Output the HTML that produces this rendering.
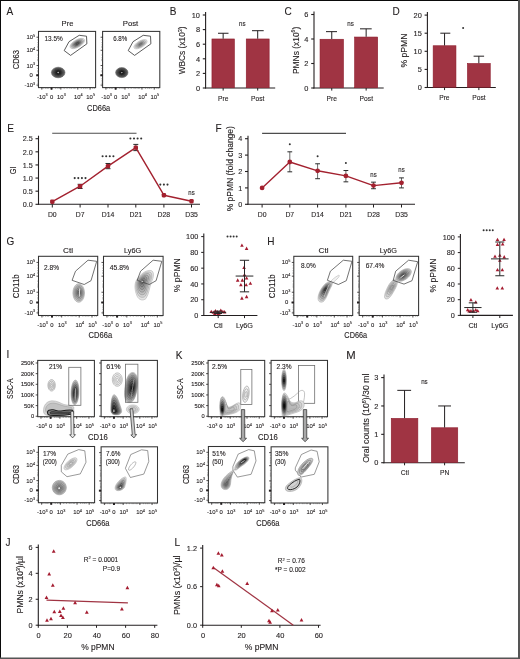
<!DOCTYPE html>
<html><head><meta charset="utf-8"><style>
html,body{margin:0;padding:0;background:#fff;}
body{width:520px;height:659px;overflow:hidden;font-family:"Liberation Sans", sans-serif;}
svg{display:block;will-change:transform;}
text{font-family:"Liberation Sans", sans-serif;}
</style></head><body>
<svg width="520" height="659" viewBox="0 0 520 659" font-family='"Liberation Sans", sans-serif'>
<rect x="0" y="0" width="520" height="659" fill="#ffffff"/>
<text x="6.6" y="14.8" font-size="10.9" text-anchor="start" fill="#231f20" stroke="#231f20" stroke-width="0.12" textLength="6.69" lengthAdjust="spacingAndGlyphs">A</text>
<text x="169.8" y="15.4" font-size="10.9" text-anchor="start" fill="#231f20" stroke="#231f20" stroke-width="0.12" textLength="6.69" lengthAdjust="spacingAndGlyphs">B</text>
<text x="284.6" y="15.4" font-size="10.9" text-anchor="start" fill="#231f20" stroke="#231f20" stroke-width="0.12" textLength="7.24" lengthAdjust="spacingAndGlyphs">C</text>
<text x="392.4" y="15.2" font-size="10.9" text-anchor="start" fill="#231f20" stroke="#231f20" stroke-width="0.12" textLength="7.24" lengthAdjust="spacingAndGlyphs">D</text>
<text x="7.2" y="131.5" font-size="10.9" text-anchor="start" fill="#231f20" stroke="#231f20" stroke-width="0.12" textLength="6.69" lengthAdjust="spacingAndGlyphs">E</text>
<text x="215.4" y="131.5" font-size="10.9" text-anchor="start" fill="#231f20" stroke="#231f20" stroke-width="0.12" textLength="6.13" lengthAdjust="spacingAndGlyphs">F</text>
<text x="6.6" y="245.1" font-size="10.9" text-anchor="start" fill="#231f20" stroke="#231f20" stroke-width="0.12" textLength="7.8" lengthAdjust="spacingAndGlyphs">G</text>
<text x="267.3" y="245" font-size="10.9" text-anchor="start" fill="#231f20" stroke="#231f20" stroke-width="0.12" textLength="7.24" lengthAdjust="spacingAndGlyphs">H</text>
<text x="6.6" y="358.3" font-size="10.9" text-anchor="start" fill="#231f20" stroke="#231f20" stroke-width="0.12" textLength="2.79" lengthAdjust="spacingAndGlyphs">I</text>
<text x="175.8" y="358.7" font-size="10.9" text-anchor="start" fill="#231f20" stroke="#231f20" stroke-width="0.12" textLength="6.69" lengthAdjust="spacingAndGlyphs">K</text>
<text x="346.2" y="359.1" font-size="10.9" text-anchor="start" fill="#231f20" stroke="#231f20" stroke-width="0.12" textLength="9.4" lengthAdjust="spacingAndGlyphs">M</text>
<text x="5.5" y="546.3" font-size="10.9" text-anchor="start" fill="#231f20" stroke="#231f20" stroke-width="0.12" textLength="5.01" lengthAdjust="spacingAndGlyphs">J</text>
<text x="174.6" y="546.3" font-size="10.9" text-anchor="start" fill="#231f20" stroke="#231f20" stroke-width="0.12" textLength="5.58" lengthAdjust="spacingAndGlyphs">L</text>
<text x="67.5" y="26.3" font-size="7.6" text-anchor="middle" fill="#231f20" stroke="#231f20" stroke-width="0.12" textLength="11.8" lengthAdjust="spacingAndGlyphs">Pre</text>
<text x="130.5" y="26.3" font-size="7.6" text-anchor="middle" fill="#231f20" stroke="#231f20" stroke-width="0.12" textLength="15.5" lengthAdjust="spacingAndGlyphs">Post</text>
<rect x="38.5" y="31.4" width="57.099999999999994" height="56.199999999999996" fill="none" stroke="#333" stroke-width="1.05"/>
<line x1="36.5" y1="37.22071428571428" x2="38.5" y2="37.22071428571428" stroke="#231f20" stroke-width="0.8"/>
<text x="35.1" y="39.22071428571428" font-size="5.9" text-anchor="end" fill="#231f20" stroke="#231f20" stroke-width="0.1">10<tspan font-size="3.8" dy="-2.5">5</tspan></text>
<line x1="36.5" y1="50.26714285714286" x2="38.5" y2="50.26714285714286" stroke="#231f20" stroke-width="0.8"/>
<text x="35.1" y="52.26714285714286" font-size="5.9" text-anchor="end" fill="#231f20" stroke="#231f20" stroke-width="0.1">10<tspan font-size="3.8" dy="-2.5">4</tspan></text>
<line x1="36.5" y1="65.52142857142857" x2="38.5" y2="65.52142857142857" stroke="#231f20" stroke-width="0.8"/>
<text x="35.1" y="67.52142857142857" font-size="5.9" text-anchor="end" fill="#231f20" stroke="#231f20" stroke-width="0.1">10<tspan font-size="3.8" dy="-2.5">3</tspan></text>
<line x1="36.5" y1="75.25607142857143" x2="38.5" y2="75.25607142857143" stroke="#231f20" stroke-width="0.8"/>
<text x="32.9" y="77.25607142857143" font-size="5.9" text-anchor="end" fill="#231f20" stroke="#231f20" stroke-width="0.12">0</text>
<line x1="36.5" y1="85.09107142857142" x2="38.5" y2="85.09107142857142" stroke="#231f20" stroke-width="0.8"/>
<text x="35.1" y="87.09107142857142" font-size="5.9" text-anchor="end" fill="#231f20" stroke="#231f20" stroke-width="0.1">-10<tspan font-size="3.8" dy="-2.5">3</tspan></text>
<line x1="37.3" y1="39.83" x2="38.5" y2="39.83" stroke="#555" stroke-width="0.5"/>
<line x1="37.3" y1="42.64" x2="38.5" y2="42.64" stroke="#555" stroke-width="0.5"/>
<line x1="37.3" y1="44.888" x2="38.5" y2="44.888" stroke="#555" stroke-width="0.5"/>
<line x1="37.3" y1="46.574" x2="38.5" y2="46.574" stroke="#555" stroke-width="0.5"/>
<line x1="37.3" y1="47.69799999999999" x2="38.5" y2="47.69799999999999" stroke="#555" stroke-width="0.5"/>
<line x1="37.3" y1="55.00399999999999" x2="38.5" y2="55.00399999999999" stroke="#555" stroke-width="0.5"/>
<line x1="37.3" y1="57.81399999999999" x2="38.5" y2="57.81399999999999" stroke="#555" stroke-width="0.5"/>
<line x1="37.3" y1="59.5" x2="38.5" y2="59.5" stroke="#555" stroke-width="0.5"/>
<line x1="37.3" y1="60.623999999999995" x2="38.5" y2="60.623999999999995" stroke="#555" stroke-width="0.5"/>
<line x1="37.3" y1="68.49199999999999" x2="38.5" y2="68.49199999999999" stroke="#555" stroke-width="0.5"/>
<line x1="37.3" y1="70.74" x2="38.5" y2="70.74" stroke="#555" stroke-width="0.5"/>
<line x1="37.3" y1="71.864" x2="38.5" y2="71.864" stroke="#555" stroke-width="0.5"/>
<line x1="37.3" y1="78.60799999999999" x2="38.5" y2="78.60799999999999" stroke="#555" stroke-width="0.5"/>
<line x1="37.3" y1="80.294" x2="38.5" y2="80.294" stroke="#555" stroke-width="0.5"/>
<line x1="37.3" y1="81.97999999999999" x2="38.5" y2="81.97999999999999" stroke="#555" stroke-width="0.5"/>
<line x1="37.3" y1="83.666" x2="38.5" y2="83.666" stroke="#555" stroke-width="0.5"/>
<line x1="37.3" y1="85.91399999999999" x2="38.5" y2="85.91399999999999" stroke="#555" stroke-width="0.5"/>
<rect x="36.3" y="74.25607142857143" width="2.2" height="2" fill="#231f20"/>
<line x1="41.80578947368421" y1="87.6" x2="41.80578947368421" y2="89.6" stroke="#231f20" stroke-width="0.8"/>
<text x="42.40578947368421" y="98.89999999999999" font-size="5.9" text-anchor="middle" fill="#231f20" stroke="#231f20" stroke-width="0.1">-10<tspan font-size="3.8" dy="-2.5">3</tspan></text>
<line x1="51.522807017543855" y1="87.6" x2="51.522807017543855" y2="89.6" stroke="#231f20" stroke-width="0.8"/>
<text x="51.522807017543855" y="98.89999999999999" font-size="5.9" text-anchor="middle" fill="#231f20" stroke="#231f20" stroke-width="0.12">0</text>
<line x1="60.839122807017546" y1="87.6" x2="60.839122807017546" y2="89.6" stroke="#231f20" stroke-width="0.8"/>
<text x="61.43912280701755" y="98.89999999999999" font-size="5.9" text-anchor="middle" fill="#231f20" stroke="#231f20" stroke-width="0.1">10<tspan font-size="3.8" dy="-2.5">3</tspan></text>
<line x1="77.76877192982457" y1="87.6" x2="77.76877192982457" y2="89.6" stroke="#231f20" stroke-width="0.8"/>
<text x="78.36877192982456" y="98.89999999999999" font-size="5.9" text-anchor="middle" fill="#231f20" stroke="#231f20" stroke-width="0.1">10<tspan font-size="3.8" dy="-2.5">4</tspan></text>
<line x1="90.09035087719298" y1="87.6" x2="90.09035087719298" y2="89.6" stroke="#231f20" stroke-width="0.8"/>
<text x="90.69035087719297" y="98.89999999999999" font-size="5.9" text-anchor="middle" fill="#231f20" stroke="#231f20" stroke-width="0.1">10<tspan font-size="3.8" dy="-2.5">5</tspan></text>
<line x1="43.068" y1="87.6" x2="43.068" y2="88.8" stroke="#555" stroke-width="0.5"/>
<line x1="45.352" y1="87.6" x2="45.352" y2="88.8" stroke="#555" stroke-width="0.5"/>
<line x1="47.065" y1="87.6" x2="47.065" y2="88.8" stroke="#555" stroke-width="0.5"/>
<line x1="48.207" y1="87.6" x2="48.207" y2="88.8" stroke="#555" stroke-width="0.5"/>
<line x1="55.629999999999995" y1="87.6" x2="55.629999999999995" y2="88.8" stroke="#555" stroke-width="0.5"/>
<line x1="57.914" y1="87.6" x2="57.914" y2="88.8" stroke="#555" stroke-width="0.5"/>
<line x1="59.626999999999995" y1="87.6" x2="59.626999999999995" y2="88.8" stroke="#555" stroke-width="0.5"/>
<line x1="64.195" y1="87.6" x2="64.195" y2="88.8" stroke="#555" stroke-width="0.5"/>
<line x1="67.05" y1="87.6" x2="67.05" y2="88.8" stroke="#555" stroke-width="0.5"/>
<line x1="69.905" y1="87.6" x2="69.905" y2="88.8" stroke="#555" stroke-width="0.5"/>
<line x1="71.618" y1="87.6" x2="71.618" y2="88.8" stroke="#555" stroke-width="0.5"/>
<line x1="73.90199999999999" y1="87.6" x2="73.90199999999999" y2="88.8" stroke="#555" stroke-width="0.5"/>
<line x1="75.044" y1="87.6" x2="75.044" y2="88.8" stroke="#555" stroke-width="0.5"/>
<line x1="81.32499999999999" y1="87.6" x2="81.32499999999999" y2="88.8" stroke="#555" stroke-width="0.5"/>
<line x1="83.609" y1="87.6" x2="83.609" y2="88.8" stroke="#555" stroke-width="0.5"/>
<line x1="85.322" y1="87.6" x2="85.322" y2="88.8" stroke="#555" stroke-width="0.5"/>
<line x1="87.035" y1="87.6" x2="87.035" y2="88.8" stroke="#555" stroke-width="0.5"/>
<line x1="92.74499999999999" y1="87.6" x2="92.74499999999999" y2="88.8" stroke="#555" stroke-width="0.5"/>
<line x1="94.458" y1="87.6" x2="94.458" y2="88.8" stroke="#555" stroke-width="0.5"/>
<rect x="50.522807017543855" y="87.6" width="2" height="2" fill="#231f20"/>
<rect x="102.6" y="31.4" width="57.20000000000002" height="56.199999999999996" fill="none" stroke="#333" stroke-width="1.05"/>
<line x1="100.6" y1="37.22071428571428" x2="102.6" y2="37.22071428571428" stroke="#231f20" stroke-width="0.8"/>
<line x1="100.6" y1="50.26714285714286" x2="102.6" y2="50.26714285714286" stroke="#231f20" stroke-width="0.8"/>
<line x1="100.6" y1="65.52142857142857" x2="102.6" y2="65.52142857142857" stroke="#231f20" stroke-width="0.8"/>
<line x1="100.6" y1="75.25607142857143" x2="102.6" y2="75.25607142857143" stroke="#231f20" stroke-width="0.8"/>
<line x1="100.6" y1="85.09107142857142" x2="102.6" y2="85.09107142857142" stroke="#231f20" stroke-width="0.8"/>
<line x1="101.39999999999999" y1="39.83" x2="102.6" y2="39.83" stroke="#555" stroke-width="0.5"/>
<line x1="101.39999999999999" y1="42.64" x2="102.6" y2="42.64" stroke="#555" stroke-width="0.5"/>
<line x1="101.39999999999999" y1="44.888" x2="102.6" y2="44.888" stroke="#555" stroke-width="0.5"/>
<line x1="101.39999999999999" y1="46.574" x2="102.6" y2="46.574" stroke="#555" stroke-width="0.5"/>
<line x1="101.39999999999999" y1="47.69799999999999" x2="102.6" y2="47.69799999999999" stroke="#555" stroke-width="0.5"/>
<line x1="101.39999999999999" y1="55.00399999999999" x2="102.6" y2="55.00399999999999" stroke="#555" stroke-width="0.5"/>
<line x1="101.39999999999999" y1="57.81399999999999" x2="102.6" y2="57.81399999999999" stroke="#555" stroke-width="0.5"/>
<line x1="101.39999999999999" y1="59.5" x2="102.6" y2="59.5" stroke="#555" stroke-width="0.5"/>
<line x1="101.39999999999999" y1="60.623999999999995" x2="102.6" y2="60.623999999999995" stroke="#555" stroke-width="0.5"/>
<line x1="101.39999999999999" y1="68.49199999999999" x2="102.6" y2="68.49199999999999" stroke="#555" stroke-width="0.5"/>
<line x1="101.39999999999999" y1="70.74" x2="102.6" y2="70.74" stroke="#555" stroke-width="0.5"/>
<line x1="101.39999999999999" y1="71.864" x2="102.6" y2="71.864" stroke="#555" stroke-width="0.5"/>
<line x1="101.39999999999999" y1="78.60799999999999" x2="102.6" y2="78.60799999999999" stroke="#555" stroke-width="0.5"/>
<line x1="101.39999999999999" y1="80.294" x2="102.6" y2="80.294" stroke="#555" stroke-width="0.5"/>
<line x1="101.39999999999999" y1="81.97999999999999" x2="102.6" y2="81.97999999999999" stroke="#555" stroke-width="0.5"/>
<line x1="101.39999999999999" y1="83.666" x2="102.6" y2="83.666" stroke="#555" stroke-width="0.5"/>
<line x1="101.39999999999999" y1="85.91399999999999" x2="102.6" y2="85.91399999999999" stroke="#555" stroke-width="0.5"/>
<rect x="100.39999999999999" y="74.25607142857143" width="2.2" height="2" fill="#231f20"/>
<line x1="105.91157894736841" y1="87.6" x2="105.91157894736841" y2="89.6" stroke="#231f20" stroke-width="0.8"/>
<text x="106.5115789473684" y="98.89999999999999" font-size="5.9" text-anchor="middle" fill="#231f20" stroke="#231f20" stroke-width="0.1">-10<tspan font-size="3.8" dy="-2.5">3</tspan></text>
<line x1="115.64561403508772" y1="87.6" x2="115.64561403508772" y2="89.6" stroke="#231f20" stroke-width="0.8"/>
<text x="115.64561403508772" y="98.89999999999999" font-size="5.9" text-anchor="middle" fill="#231f20" stroke="#231f20" stroke-width="0.12">0</text>
<line x1="124.97824561403509" y1="87.6" x2="124.97824561403509" y2="89.6" stroke="#231f20" stroke-width="0.8"/>
<text x="125.57824561403508" y="98.89999999999999" font-size="5.9" text-anchor="middle" fill="#231f20" stroke="#231f20" stroke-width="0.1">10<tspan font-size="3.8" dy="-2.5">3</tspan></text>
<line x1="141.93754385964914" y1="87.6" x2="141.93754385964914" y2="89.6" stroke="#231f20" stroke-width="0.8"/>
<text x="142.53754385964913" y="98.89999999999999" font-size="5.9" text-anchor="middle" fill="#231f20" stroke="#231f20" stroke-width="0.1">10<tspan font-size="3.8" dy="-2.5">4</tspan></text>
<line x1="154.28070175438597" y1="87.6" x2="154.28070175438597" y2="89.6" stroke="#231f20" stroke-width="0.8"/>
<text x="154.88070175438597" y="98.89999999999999" font-size="5.9" text-anchor="middle" fill="#231f20" stroke="#231f20" stroke-width="0.1">10<tspan font-size="3.8" dy="-2.5">5</tspan></text>
<line x1="107.176" y1="87.6" x2="107.176" y2="88.8" stroke="#555" stroke-width="0.5"/>
<line x1="109.464" y1="87.6" x2="109.464" y2="88.8" stroke="#555" stroke-width="0.5"/>
<line x1="111.17999999999999" y1="87.6" x2="111.17999999999999" y2="88.8" stroke="#555" stroke-width="0.5"/>
<line x1="112.324" y1="87.6" x2="112.324" y2="88.8" stroke="#555" stroke-width="0.5"/>
<line x1="119.75999999999999" y1="87.6" x2="119.75999999999999" y2="88.8" stroke="#555" stroke-width="0.5"/>
<line x1="122.048" y1="87.6" x2="122.048" y2="88.8" stroke="#555" stroke-width="0.5"/>
<line x1="123.764" y1="87.6" x2="123.764" y2="88.8" stroke="#555" stroke-width="0.5"/>
<line x1="128.34" y1="87.6" x2="128.34" y2="88.8" stroke="#555" stroke-width="0.5"/>
<line x1="131.2" y1="87.6" x2="131.2" y2="88.8" stroke="#555" stroke-width="0.5"/>
<line x1="134.06" y1="87.6" x2="134.06" y2="88.8" stroke="#555" stroke-width="0.5"/>
<line x1="135.776" y1="87.6" x2="135.776" y2="88.8" stroke="#555" stroke-width="0.5"/>
<line x1="138.06400000000002" y1="87.6" x2="138.06400000000002" y2="88.8" stroke="#555" stroke-width="0.5"/>
<line x1="139.208" y1="87.6" x2="139.208" y2="88.8" stroke="#555" stroke-width="0.5"/>
<line x1="145.5" y1="87.6" x2="145.5" y2="88.8" stroke="#555" stroke-width="0.5"/>
<line x1="147.788" y1="87.6" x2="147.788" y2="88.8" stroke="#555" stroke-width="0.5"/>
<line x1="149.50400000000002" y1="87.6" x2="149.50400000000002" y2="88.8" stroke="#555" stroke-width="0.5"/>
<line x1="151.22" y1="87.6" x2="151.22" y2="88.8" stroke="#555" stroke-width="0.5"/>
<line x1="156.94" y1="87.6" x2="156.94" y2="88.8" stroke="#555" stroke-width="0.5"/>
<line x1="158.656" y1="87.6" x2="158.656" y2="88.8" stroke="#555" stroke-width="0.5"/>
<rect x="114.64561403508772" y="87.6" width="2" height="2" fill="#231f20"/>
<text x="18.7" y="59.65" font-size="8.5" text-anchor="middle" fill="#231f20" stroke="#231f20" stroke-width="0.12" textLength="19.4" lengthAdjust="spacingAndGlyphs" transform="rotate(-90 18.7 59.65)">CD63</text>
<text x="98.65" y="110.5" font-size="8.4" text-anchor="middle" fill="#231f20" stroke="#231f20" stroke-width="0.12" textLength="23.2" lengthAdjust="spacingAndGlyphs">CD66a</text>
<text x="44.5" y="40.65" font-size="7.0" text-anchor="start" fill="#231f20" stroke="#231f20" stroke-width="0.12" textLength="18.3" lengthAdjust="spacingAndGlyphs">13.5%</text>
<text x="113.2" y="40.65" font-size="7.0" text-anchor="start" fill="#231f20" stroke="#231f20" stroke-width="0.12" textLength="14.1" lengthAdjust="spacingAndGlyphs">6.8%</text>
<polygon points="64.2,50.6 69.0,41.7 79.2,35.3 86.5,36.2 86.9,43.8 70.6,55.4" fill="none" stroke="#333" stroke-width="0.8" stroke-linejoin="round"/>
<g transform="rotate(-30 77.3 43.5)"><ellipse cx="77.3" cy="43.5" rx="8.20" ry="3.70" fill="rgb(222,222,222)" stroke="rgb(177,177,177)" stroke-width="0.5"/><ellipse cx="77.3" cy="43.5" rx="6.89" ry="3.11" fill="rgb(197,197,197)" stroke="rgb(152,152,152)" stroke-width="0.5"/><ellipse cx="77.3" cy="43.5" rx="5.58" ry="2.52" fill="rgb(171,171,171)" stroke="rgb(126,126,126)" stroke-width="0.5"/><ellipse cx="77.3" cy="43.5" rx="4.26" ry="1.92" fill="rgb(146,146,146)" stroke="rgb(101,101,101)" stroke-width="0.5"/><ellipse cx="77.3" cy="43.5" rx="2.95" ry="1.33" fill="rgb(120,120,120)" stroke="rgb(75,75,75)" stroke-width="0.5"/><ellipse cx="77.3" cy="43.5" rx="1.64" ry="0.74" fill="rgb(95,95,95)" stroke="rgb(50,50,50)" stroke-width="0.5"/></g>
<g transform="rotate(0 58.2 72.5)"><ellipse cx="58.2" cy="72.5" rx="6.80" ry="5.30" fill="rgb(120,120,120)" stroke="rgb(75,75,75)" stroke-width="0.45"/><ellipse cx="58.2" cy="72.5" rx="5.78" ry="4.50" fill="rgb(104,104,104)" stroke="rgb(59,59,59)" stroke-width="0.45"/><ellipse cx="58.2" cy="72.5" rx="4.76" ry="3.71" fill="rgb(88,88,88)" stroke="rgb(43,43,43)" stroke-width="0.45"/><ellipse cx="58.2" cy="72.5" rx="3.74" ry="2.92" fill="rgb(72,72,72)" stroke="rgb(27,27,27)" stroke-width="0.45"/><ellipse cx="58.2" cy="72.5" rx="2.72" ry="2.12" fill="rgb(56,56,56)" stroke="rgb(11,11,11)" stroke-width="0.45"/><ellipse cx="58.2" cy="72.5" rx="1.70" ry="1.32" fill="rgb(40,40,40)" stroke="rgb(0,0,0)" stroke-width="0.45"/><ellipse cx="58.2" cy="72.5" rx="0.82" ry="0.64" fill="#bbb"/></g>
<polygon points="128.2,50.6 133.0,41.7 143.2,35.3 150.5,36.2 150.9,43.8 134.6,55.4" fill="none" stroke="#333" stroke-width="0.8" stroke-linejoin="round"/>
<g transform="rotate(-30 140.5 44.2)"><ellipse cx="140.5" cy="44.2" rx="7.50" ry="3.30" fill="rgb(225,225,225)" stroke="rgb(180,180,180)" stroke-width="0.45"/><ellipse cx="140.5" cy="44.2" rx="6.00" ry="2.64" fill="rgb(201,201,201)" stroke="rgb(156,156,156)" stroke-width="0.45"/><ellipse cx="140.5" cy="44.2" rx="4.50" ry="1.98" fill="rgb(178,178,178)" stroke="rgb(133,133,133)" stroke-width="0.45"/><ellipse cx="140.5" cy="44.2" rx="3.00" ry="1.32" fill="rgb(154,154,154)" stroke="rgb(109,109,109)" stroke-width="0.45"/><ellipse cx="140.5" cy="44.2" rx="1.50" ry="0.66" fill="rgb(130,130,130)" stroke="rgb(85,85,85)" stroke-width="0.45"/></g>
<g transform="rotate(0 121.8 72.6)"><ellipse cx="121.8" cy="72.6" rx="6.20" ry="5.00" fill="rgb(120,120,120)" stroke="rgb(75,75,75)" stroke-width="0.45"/><ellipse cx="121.8" cy="72.6" rx="5.27" ry="4.25" fill="rgb(104,104,104)" stroke="rgb(59,59,59)" stroke-width="0.45"/><ellipse cx="121.8" cy="72.6" rx="4.34" ry="3.50" fill="rgb(88,88,88)" stroke="rgb(43,43,43)" stroke-width="0.45"/><ellipse cx="121.8" cy="72.6" rx="3.41" ry="2.75" fill="rgb(72,72,72)" stroke="rgb(27,27,27)" stroke-width="0.45"/><ellipse cx="121.8" cy="72.6" rx="2.48" ry="2.00" fill="rgb(56,56,56)" stroke="rgb(11,11,11)" stroke-width="0.45"/><ellipse cx="121.8" cy="72.6" rx="1.55" ry="1.25" fill="rgb(40,40,40)" stroke="rgb(0,0,0)" stroke-width="0.45"/><ellipse cx="121.8" cy="72.6" rx="0.74" ry="0.60" fill="#bbb"/></g>
<text x="185.5" y="50.45" font-size="8.7" text-anchor="middle" fill="#231f20" stroke="#231f20" stroke-width="0.12" textLength="47.8" lengthAdjust="spacingAndGlyphs" transform="rotate(-90 185.5 50.45)">WBCs (x10<tspan font-size="5.2" dy="-3.2">3</tspan><tspan dy="3.2">)</tspan></text>
<line x1="205.6" y1="12.0" x2="205.6" y2="88.5" stroke="#231f20" stroke-width="1.1"/>
<line x1="205.1" y1="88" x2="275.2" y2="88" stroke="#231f20" stroke-width="1.1"/>
<line x1="202.79999999999998" y1="88.0" x2="205.6" y2="88.0" stroke="#231f20" stroke-width="1.1"/>
<text x="200.0" y="90.75" font-size="7.8" text-anchor="end" fill="#231f20" stroke="#231f20" stroke-width="0.12" textLength="4.12" lengthAdjust="spacingAndGlyphs">0</text>
<line x1="202.79999999999998" y1="73.4" x2="205.6" y2="73.4" stroke="#231f20" stroke-width="1.1"/>
<text x="200.0" y="76.15" font-size="7.8" text-anchor="end" fill="#231f20" stroke="#231f20" stroke-width="0.12" textLength="4.12" lengthAdjust="spacingAndGlyphs">2</text>
<line x1="202.79999999999998" y1="58.8" x2="205.6" y2="58.8" stroke="#231f20" stroke-width="1.1"/>
<text x="200.0" y="61.55" font-size="7.8" text-anchor="end" fill="#231f20" stroke="#231f20" stroke-width="0.12" textLength="4.12" lengthAdjust="spacingAndGlyphs">4</text>
<line x1="202.79999999999998" y1="44.2" x2="205.6" y2="44.2" stroke="#231f20" stroke-width="1.1"/>
<text x="200.0" y="46.95" font-size="7.8" text-anchor="end" fill="#231f20" stroke="#231f20" stroke-width="0.12" textLength="4.12" lengthAdjust="spacingAndGlyphs">6</text>
<line x1="202.79999999999998" y1="29.6" x2="205.6" y2="29.6" stroke="#231f20" stroke-width="1.1"/>
<text x="200.0" y="32.35" font-size="7.8" text-anchor="end" fill="#231f20" stroke="#231f20" stroke-width="0.12" textLength="4.12" lengthAdjust="spacingAndGlyphs">8</text>
<line x1="202.79999999999998" y1="15.0" x2="205.6" y2="15.0" stroke="#231f20" stroke-width="1.1"/>
<text x="200.0" y="17.75" font-size="7.8" text-anchor="end" fill="#231f20" stroke="#231f20" stroke-width="0.12" textLength="8.24" lengthAdjust="spacingAndGlyphs">10</text>
<rect x="211.95" y="38.975" width="22.400000000000006" height="48.775" fill="#a03443" stroke="#8c1a2a" stroke-width="0.6"/>
<line x1="223.14999999999998" y1="33.25" x2="223.14999999999998" y2="38.725" stroke="#231f20" stroke-width="1"/>
<line x1="218" y1="33.25" x2="228.5" y2="33.25" stroke="#231f20" stroke-width="1"/>
<line x1="223.14999999999998" y1="88" x2="223.14999999999998" y2="90.6" stroke="#231f20" stroke-width="1"/>
<text x="223.3" y="100.7" font-size="7.6" text-anchor="middle" fill="#231f20" stroke="#231f20" stroke-width="0.12" textLength="10.41" lengthAdjust="spacingAndGlyphs">Pre</text>
<rect x="246.25" y="38.975" width="22.899999999999977" height="48.775" fill="#a03443" stroke="#8c1a2a" stroke-width="0.6"/>
<line x1="257.7" y1="30.695000000000007" x2="257.7" y2="38.725" stroke="#231f20" stroke-width="1"/>
<line x1="252" y1="30.695000000000007" x2="263.7" y2="30.695000000000007" stroke="#231f20" stroke-width="1"/>
<line x1="257.7" y1="88" x2="257.7" y2="90.6" stroke="#231f20" stroke-width="1"/>
<text x="257.7" y="100.7" font-size="7.6" text-anchor="middle" fill="#231f20" stroke="#231f20" stroke-width="0.12" textLength="13.38" lengthAdjust="spacingAndGlyphs">Post</text>
<text x="242.3" y="26" font-size="7" text-anchor="middle" fill="#231f20" stroke="#231f20" stroke-width="0.12" textLength="6.51" lengthAdjust="spacingAndGlyphs">ns</text>
<text x="298.7" y="50.4" font-size="8.7" text-anchor="middle" fill="#231f20" stroke="#231f20" stroke-width="0.12" textLength="47.2" lengthAdjust="spacingAndGlyphs" transform="rotate(-90 298.7 50.4)">PMNs (x10<tspan font-size="5.2" dy="-3.2">6</tspan><tspan dy="3.2">)</tspan></text>
<line x1="314" y1="11.5" x2="314" y2="88.5" stroke="#231f20" stroke-width="1.1"/>
<line x1="313.5" y1="88" x2="383.7" y2="88" stroke="#231f20" stroke-width="1.1"/>
<line x1="311.2" y1="88.0" x2="314" y2="88.0" stroke="#231f20" stroke-width="1.1"/>
<text x="308.4" y="90.75" font-size="7.8" text-anchor="end" fill="#231f20" stroke="#231f20" stroke-width="0.12" textLength="4.12" lengthAdjust="spacingAndGlyphs">0</text>
<line x1="311.2" y1="63.5" x2="314" y2="63.5" stroke="#231f20" stroke-width="1.1"/>
<text x="308.4" y="66.25" font-size="7.8" text-anchor="end" fill="#231f20" stroke="#231f20" stroke-width="0.12" textLength="4.12" lengthAdjust="spacingAndGlyphs">2</text>
<line x1="311.2" y1="39.0" x2="314" y2="39.0" stroke="#231f20" stroke-width="1.1"/>
<text x="308.4" y="41.75" font-size="7.8" text-anchor="end" fill="#231f20" stroke="#231f20" stroke-width="0.12" textLength="4.12" lengthAdjust="spacingAndGlyphs">4</text>
<line x1="311.2" y1="14.5" x2="314" y2="14.5" stroke="#231f20" stroke-width="1.1"/>
<text x="308.4" y="17.25" font-size="7.8" text-anchor="end" fill="#231f20" stroke="#231f20" stroke-width="0.12" textLength="4.12" lengthAdjust="spacingAndGlyphs">6</text>
<rect x="320.05" y="39.25" width="23.399999999999977" height="48.5" fill="#a03443" stroke="#8c1a2a" stroke-width="0.6"/>
<line x1="331.75" y1="31.650000000000006" x2="331.75" y2="39.0" stroke="#231f20" stroke-width="1"/>
<line x1="326" y1="31.650000000000006" x2="337" y2="31.650000000000006" stroke="#231f20" stroke-width="1"/>
<line x1="331.75" y1="88" x2="331.75" y2="90.6" stroke="#231f20" stroke-width="1"/>
<text x="331.7" y="100.7" font-size="7.6" text-anchor="middle" fill="#231f20" stroke="#231f20" stroke-width="0.12" textLength="10.41" lengthAdjust="spacingAndGlyphs">Pre</text>
<rect x="354.65" y="37.045" width="23.0" height="50.705" fill="#a03443" stroke="#8c1a2a" stroke-width="0.6"/>
<line x1="366.15" y1="28.832499999999996" x2="366.15" y2="36.795" stroke="#231f20" stroke-width="1"/>
<line x1="360" y1="28.832499999999996" x2="371.7" y2="28.832499999999996" stroke="#231f20" stroke-width="1"/>
<line x1="366.15" y1="88" x2="366.15" y2="90.6" stroke="#231f20" stroke-width="1"/>
<text x="366.3" y="100.7" font-size="7.6" text-anchor="middle" fill="#231f20" stroke="#231f20" stroke-width="0.12" textLength="13.38" lengthAdjust="spacingAndGlyphs">Post</text>
<text x="350.5" y="26" font-size="7" text-anchor="middle" fill="#231f20" stroke="#231f20" stroke-width="0.12" textLength="6.51" lengthAdjust="spacingAndGlyphs">ns</text>
<text x="406.5" y="50.5" font-size="8.7" text-anchor="middle" fill="#231f20" stroke="#231f20" stroke-width="0.12" textLength="34.1" lengthAdjust="spacingAndGlyphs" transform="rotate(-90 406.5 50.5)">% pPMN</text>
<line x1="427.4" y1="12.099999999999994" x2="427.4" y2="88.0" stroke="#231f20" stroke-width="1.1"/>
<line x1="426.9" y1="87.5" x2="495.8" y2="87.5" stroke="#231f20" stroke-width="1.1"/>
<line x1="424.59999999999997" y1="87.5" x2="427.4" y2="87.5" stroke="#231f20" stroke-width="1.1"/>
<text x="421.79999999999995" y="90.25" font-size="7.8" text-anchor="end" fill="#231f20" stroke="#231f20" stroke-width="0.12" textLength="4.12" lengthAdjust="spacingAndGlyphs">0</text>
<line x1="424.59999999999997" y1="69.4" x2="427.4" y2="69.4" stroke="#231f20" stroke-width="1.1"/>
<text x="421.79999999999995" y="72.15" font-size="7.8" text-anchor="end" fill="#231f20" stroke="#231f20" stroke-width="0.12" textLength="4.12" lengthAdjust="spacingAndGlyphs">5</text>
<line x1="424.59999999999997" y1="51.3" x2="427.4" y2="51.3" stroke="#231f20" stroke-width="1.1"/>
<text x="421.79999999999995" y="54.05" font-size="7.8" text-anchor="end" fill="#231f20" stroke="#231f20" stroke-width="0.12" textLength="8.24" lengthAdjust="spacingAndGlyphs">10</text>
<line x1="424.59999999999997" y1="33.199999999999996" x2="427.4" y2="33.199999999999996" stroke="#231f20" stroke-width="1.1"/>
<text x="421.79999999999995" y="35.949999999999996" font-size="7.8" text-anchor="end" fill="#231f20" stroke="#231f20" stroke-width="0.12" textLength="8.24" lengthAdjust="spacingAndGlyphs">15</text>
<line x1="424.59999999999997" y1="15.099999999999994" x2="427.4" y2="15.099999999999994" stroke="#231f20" stroke-width="1.1"/>
<text x="421.79999999999995" y="17.849999999999994" font-size="7.8" text-anchor="end" fill="#231f20" stroke="#231f20" stroke-width="0.12" textLength="8.24" lengthAdjust="spacingAndGlyphs">20</text>
<rect x="433.15" y="45.758" width="22.80000000000001" height="41.492" fill="#a03443" stroke="#8c1a2a" stroke-width="0.6"/>
<line x1="444.54999999999995" y1="33.199999999999996" x2="444.54999999999995" y2="45.508" stroke="#231f20" stroke-width="1"/>
<line x1="440.3" y1="33.199999999999996" x2="450.3" y2="33.199999999999996" stroke="#231f20" stroke-width="1"/>
<line x1="444.54999999999995" y1="87.5" x2="444.54999999999995" y2="90.1" stroke="#231f20" stroke-width="1"/>
<text x="444.4" y="100.2" font-size="7.6" text-anchor="middle" fill="#231f20" stroke="#231f20" stroke-width="0.12" textLength="10.41" lengthAdjust="spacingAndGlyphs">Pre</text>
<rect x="467.45" y="63.495999999999995" width="22.80000000000001" height="23.754000000000005" fill="#a03443" stroke="#8c1a2a" stroke-width="0.6"/>
<line x1="478.85" y1="56.187" x2="478.85" y2="63.245999999999995" stroke="#231f20" stroke-width="1"/>
<line x1="473.6" y1="56.187" x2="484.1" y2="56.187" stroke="#231f20" stroke-width="1"/>
<line x1="478.85" y1="87.5" x2="478.85" y2="90.1" stroke="#231f20" stroke-width="1"/>
<text x="478.9" y="100.2" font-size="7.6" text-anchor="middle" fill="#231f20" stroke="#231f20" stroke-width="0.12" textLength="13.38" lengthAdjust="spacingAndGlyphs">Post</text>
<circle cx="463.10" cy="27.9" r="1.0" fill="#333"/>
<line x1="38.5" y1="135.70000000000002" x2="38.5" y2="204.8" stroke="#231f20" stroke-width="1.1"/>
<line x1="38.0" y1="204.3" x2="200" y2="204.3" stroke="#231f20" stroke-width="1.1"/>
<line x1="35.5" y1="204.3" x2="38.5" y2="204.3" stroke="#231f20" stroke-width="1.1"/>
<text x="32.8" y="207.05" font-size="7.6" text-anchor="end" fill="#231f20" stroke="#231f20" stroke-width="0.12" textLength="10.04" lengthAdjust="spacingAndGlyphs">0.0</text>
<line x1="35.5" y1="191.18" x2="38.5" y2="191.18" stroke="#231f20" stroke-width="1.1"/>
<text x="32.8" y="193.93" font-size="7.6" text-anchor="end" fill="#231f20" stroke="#231f20" stroke-width="0.12" textLength="10.04" lengthAdjust="spacingAndGlyphs">0.5</text>
<line x1="35.5" y1="178.06" x2="38.5" y2="178.06" stroke="#231f20" stroke-width="1.1"/>
<text x="32.8" y="180.81" font-size="7.6" text-anchor="end" fill="#231f20" stroke="#231f20" stroke-width="0.12" textLength="10.04" lengthAdjust="spacingAndGlyphs">1.0</text>
<line x1="35.5" y1="164.94" x2="38.5" y2="164.94" stroke="#231f20" stroke-width="1.1"/>
<text x="32.8" y="167.69" font-size="7.6" text-anchor="end" fill="#231f20" stroke="#231f20" stroke-width="0.12" textLength="10.04" lengthAdjust="spacingAndGlyphs">1.5</text>
<line x1="35.5" y1="151.82000000000002" x2="38.5" y2="151.82000000000002" stroke="#231f20" stroke-width="1.1"/>
<text x="32.8" y="154.57000000000002" font-size="7.6" text-anchor="end" fill="#231f20" stroke="#231f20" stroke-width="0.12" textLength="10.04" lengthAdjust="spacingAndGlyphs">2.0</text>
<line x1="35.5" y1="138.70000000000002" x2="38.5" y2="138.70000000000002" stroke="#231f20" stroke-width="1.1"/>
<text x="32.8" y="141.45000000000002" font-size="7.6" text-anchor="end" fill="#231f20" stroke="#231f20" stroke-width="0.12" textLength="10.04" lengthAdjust="spacingAndGlyphs">2.5</text>
<line x1="52.3" y1="204.3" x2="52.3" y2="207.5" stroke="#231f20" stroke-width="1"/>
<text x="52.3" y="217.3" font-size="7.8" text-anchor="middle" fill="#231f20" stroke="#231f20" stroke-width="0.12" textLength="8.77" lengthAdjust="spacingAndGlyphs">D0</text>
<line x1="80.1" y1="204.3" x2="80.1" y2="207.5" stroke="#231f20" stroke-width="1"/>
<text x="80.1" y="217.3" font-size="7.8" text-anchor="middle" fill="#231f20" stroke="#231f20" stroke-width="0.12" textLength="8.77" lengthAdjust="spacingAndGlyphs">D7</text>
<line x1="108.0" y1="204.3" x2="108.0" y2="207.5" stroke="#231f20" stroke-width="1"/>
<text x="108.0" y="217.3" font-size="7.8" text-anchor="middle" fill="#231f20" stroke="#231f20" stroke-width="0.12" textLength="12.59" lengthAdjust="spacingAndGlyphs">D14</text>
<line x1="135.8" y1="204.3" x2="135.8" y2="207.5" stroke="#231f20" stroke-width="1"/>
<text x="135.8" y="217.3" font-size="7.8" text-anchor="middle" fill="#231f20" stroke="#231f20" stroke-width="0.12" textLength="12.59" lengthAdjust="spacingAndGlyphs">D21</text>
<line x1="163.9" y1="204.3" x2="163.9" y2="207.5" stroke="#231f20" stroke-width="1"/>
<text x="163.9" y="217.3" font-size="7.8" text-anchor="middle" fill="#231f20" stroke="#231f20" stroke-width="0.12" textLength="12.59" lengthAdjust="spacingAndGlyphs">D28</text>
<line x1="191.5" y1="204.3" x2="191.5" y2="207.5" stroke="#231f20" stroke-width="1"/>
<text x="191.5" y="217.3" font-size="7.8" text-anchor="middle" fill="#231f20" stroke="#231f20" stroke-width="0.12" textLength="12.59" lengthAdjust="spacingAndGlyphs">D35</text>
<line x1="80.1" y1="184.30512000000002" x2="80.1" y2="188.50352" stroke="#444" stroke-width="0.8"/>
<line x1="77.6" y1="184.30512000000002" x2="82.6" y2="184.30512000000002" stroke="#2a2a2a" stroke-width="1.0"/>
<line x1="77.6" y1="188.50352" x2="82.6" y2="188.50352" stroke="#2a2a2a" stroke-width="1.0"/>
<line x1="108.0" y1="163.4968" x2="108.0" y2="168.69232000000002" stroke="#444" stroke-width="0.8"/>
<line x1="105.5" y1="163.4968" x2="110.5" y2="163.4968" stroke="#2a2a2a" stroke-width="1.0"/>
<line x1="105.5" y1="168.69232000000002" x2="110.5" y2="168.69232000000002" stroke="#2a2a2a" stroke-width="1.0"/>
<line x1="135.8" y1="144.39408000000003" x2="135.8" y2="150.61296000000002" stroke="#444" stroke-width="0.8"/>
<line x1="133.3" y1="144.39408000000003" x2="138.3" y2="144.39408000000003" stroke="#2a2a2a" stroke-width="1.0"/>
<line x1="133.3" y1="150.61296000000002" x2="138.3" y2="150.61296000000002" stroke="#2a2a2a" stroke-width="1.0"/>
<polyline points="52.3,201.7 80.1,186.2 108.0,166.1 135.8,147.6 163.9,195.2 191.5,201.2" fill="none" stroke="#a3212f" stroke-width="1.4" stroke-linejoin="round"/>
<rect x="50.1" y="199.5" width="4.4" height="4.4" rx="1.3" fill="#a3212f"/>
<rect x="77.9" y="184.0" width="4.4" height="4.4" rx="1.3" fill="#a3212f"/>
<rect x="105.8" y="163.9" width="4.4" height="4.4" rx="1.3" fill="#a3212f"/>
<rect x="133.6" y="145.4" width="4.4" height="4.4" rx="1.3" fill="#a3212f"/>
<rect x="161.7" y="193.0" width="4.4" height="4.4" rx="1.3" fill="#a3212f"/>
<rect x="189.3" y="199.0" width="4.4" height="4.4" rx="1.3" fill="#a3212f"/>
<circle cx="74.70" cy="178.1" r="1.05" fill="#333"/>
<circle cx="78.30" cy="178.1" r="1.05" fill="#333"/>
<circle cx="81.90" cy="178.1" r="1.05" fill="#333"/>
<circle cx="85.50" cy="178.1" r="1.05" fill="#333"/>
<circle cx="102.60" cy="156.2" r="1.05" fill="#333"/>
<circle cx="106.20" cy="156.2" r="1.05" fill="#333"/>
<circle cx="109.80" cy="156.2" r="1.05" fill="#333"/>
<circle cx="113.40" cy="156.2" r="1.05" fill="#333"/>
<circle cx="130.40" cy="138.5" r="1.05" fill="#333"/>
<circle cx="134.00" cy="138.5" r="1.05" fill="#333"/>
<circle cx="137.60" cy="138.5" r="1.05" fill="#333"/>
<circle cx="141.20" cy="138.5" r="1.05" fill="#333"/>
<circle cx="160.30" cy="184.6" r="1.05" fill="#333"/>
<circle cx="163.90" cy="184.6" r="1.05" fill="#333"/>
<circle cx="167.50" cy="184.6" r="1.05" fill="#333"/>
<text x="191.5" y="195.4" font-size="6.8" text-anchor="middle" fill="#231f20" stroke="#231f20" stroke-width="0.12" textLength="6.32" lengthAdjust="spacingAndGlyphs">ns</text>
<line x1="52.2" y1="133.2" x2="136.5" y2="133.2" stroke="#4d4d4d" stroke-width="1.1"/>
<text x="16.5" y="170.35" font-size="8.9" text-anchor="middle" fill="#231f20" stroke="#231f20" stroke-width="0.12" textLength="7.8" lengthAdjust="spacingAndGlyphs" transform="rotate(-90 16.5 170.35)">GI</text>
<line x1="248" y1="135.70000000000002" x2="248" y2="204.8" stroke="#231f20" stroke-width="1.1"/>
<line x1="247.5" y1="204.3" x2="415" y2="204.3" stroke="#231f20" stroke-width="1.1"/>
<line x1="245" y1="204.3" x2="248" y2="204.3" stroke="#231f20" stroke-width="1.1"/>
<text x="242.3" y="207.05" font-size="7.6" text-anchor="end" fill="#231f20" stroke="#231f20" stroke-width="0.12" textLength="4.02" lengthAdjust="spacingAndGlyphs">0</text>
<line x1="245" y1="187.9" x2="248" y2="187.9" stroke="#231f20" stroke-width="1.1"/>
<text x="242.3" y="190.65" font-size="7.6" text-anchor="end" fill="#231f20" stroke="#231f20" stroke-width="0.12" textLength="4.02" lengthAdjust="spacingAndGlyphs">1</text>
<line x1="245" y1="171.5" x2="248" y2="171.5" stroke="#231f20" stroke-width="1.1"/>
<text x="242.3" y="174.25" font-size="7.6" text-anchor="end" fill="#231f20" stroke="#231f20" stroke-width="0.12" textLength="4.02" lengthAdjust="spacingAndGlyphs">2</text>
<line x1="245" y1="155.10000000000002" x2="248" y2="155.10000000000002" stroke="#231f20" stroke-width="1.1"/>
<text x="242.3" y="157.85000000000002" font-size="7.6" text-anchor="end" fill="#231f20" stroke="#231f20" stroke-width="0.12" textLength="4.02" lengthAdjust="spacingAndGlyphs">3</text>
<line x1="245" y1="138.70000000000002" x2="248" y2="138.70000000000002" stroke="#231f20" stroke-width="1.1"/>
<text x="242.3" y="141.45000000000002" font-size="7.6" text-anchor="end" fill="#231f20" stroke="#231f20" stroke-width="0.12" textLength="4.02" lengthAdjust="spacingAndGlyphs">4</text>
<line x1="262.1" y1="204.3" x2="262.1" y2="207.5" stroke="#231f20" stroke-width="1"/>
<text x="262.1" y="217.3" font-size="7.8" text-anchor="middle" fill="#231f20" stroke="#231f20" stroke-width="0.12" textLength="8.77" lengthAdjust="spacingAndGlyphs">D0</text>
<line x1="289.8" y1="204.3" x2="289.8" y2="207.5" stroke="#231f20" stroke-width="1"/>
<text x="289.8" y="217.3" font-size="7.8" text-anchor="middle" fill="#231f20" stroke="#231f20" stroke-width="0.12" textLength="8.77" lengthAdjust="spacingAndGlyphs">D7</text>
<line x1="317.6" y1="204.3" x2="317.6" y2="207.5" stroke="#231f20" stroke-width="1"/>
<text x="317.6" y="217.3" font-size="7.8" text-anchor="middle" fill="#231f20" stroke="#231f20" stroke-width="0.12" textLength="12.59" lengthAdjust="spacingAndGlyphs">D14</text>
<line x1="345.9" y1="204.3" x2="345.9" y2="207.5" stroke="#231f20" stroke-width="1"/>
<text x="345.9" y="217.3" font-size="7.8" text-anchor="middle" fill="#231f20" stroke="#231f20" stroke-width="0.12" textLength="12.59" lengthAdjust="spacingAndGlyphs">D21</text>
<line x1="373.5" y1="204.3" x2="373.5" y2="207.5" stroke="#231f20" stroke-width="1"/>
<text x="373.5" y="217.3" font-size="7.8" text-anchor="middle" fill="#231f20" stroke="#231f20" stroke-width="0.12" textLength="12.59" lengthAdjust="spacingAndGlyphs">D28</text>
<line x1="401.5" y1="204.3" x2="401.5" y2="207.5" stroke="#231f20" stroke-width="1"/>
<text x="401.5" y="217.3" font-size="7.8" text-anchor="middle" fill="#231f20" stroke="#231f20" stroke-width="0.12" textLength="12.59" lengthAdjust="spacingAndGlyphs">D35</text>
<line x1="289.8" y1="151.82000000000002" x2="289.8" y2="171.82800000000003" stroke="#444" stroke-width="0.8"/>
<line x1="287.40000000000003" y1="151.82000000000002" x2="292.2" y2="151.82000000000002" stroke="#2a2a2a" stroke-width="1.0"/>
<line x1="287.40000000000003" y1="171.82800000000003" x2="292.2" y2="171.82800000000003" stroke="#2a2a2a" stroke-width="1.0"/>
<line x1="317.6" y1="163.792" x2="317.6" y2="178.716" stroke="#444" stroke-width="0.8"/>
<line x1="315.20000000000005" y1="163.792" x2="320.0" y2="163.792" stroke="#2a2a2a" stroke-width="1.0"/>
<line x1="315.20000000000005" y1="178.716" x2="320.0" y2="178.716" stroke="#2a2a2a" stroke-width="1.0"/>
<line x1="345.9" y1="170.51600000000002" x2="345.9" y2="181.83200000000002" stroke="#444" stroke-width="0.8"/>
<line x1="343.5" y1="170.51600000000002" x2="348.29999999999995" y2="170.51600000000002" stroke="#2a2a2a" stroke-width="1.0"/>
<line x1="343.5" y1="181.83200000000002" x2="348.29999999999995" y2="181.83200000000002" stroke="#2a2a2a" stroke-width="1.0"/>
<line x1="373.5" y1="182.16000000000003" x2="373.5" y2="188.72000000000003" stroke="#444" stroke-width="0.8"/>
<line x1="371.1" y1="182.16000000000003" x2="375.9" y2="182.16000000000003" stroke="#2a2a2a" stroke-width="1.0"/>
<line x1="371.1" y1="188.72000000000003" x2="375.9" y2="188.72000000000003" stroke="#2a2a2a" stroke-width="1.0"/>
<line x1="401.5" y1="177.89600000000002" x2="401.5" y2="187.9" stroke="#444" stroke-width="0.8"/>
<line x1="399.1" y1="177.89600000000002" x2="403.9" y2="177.89600000000002" stroke="#2a2a2a" stroke-width="1.0"/>
<line x1="399.1" y1="187.9" x2="403.9" y2="187.9" stroke="#2a2a2a" stroke-width="1.0"/>
<polyline points="262.1,187.9 289.8,162.0 317.6,170.8 345.9,175.9 373.5,185.6 401.5,182.8" fill="none" stroke="#a3212f" stroke-width="1.4" stroke-linejoin="round"/>
<circle cx="262.1" cy="187.9" r="2.4" fill="#a3212f"/>
<circle cx="289.8" cy="162.0" r="2.4" fill="#a3212f"/>
<circle cx="317.6" cy="170.8" r="2.4" fill="#a3212f"/>
<circle cx="345.9" cy="175.9" r="2.4" fill="#a3212f"/>
<circle cx="373.5" cy="185.6" r="2.4" fill="#a3212f"/>
<circle cx="401.5" cy="182.8" r="2.4" fill="#a3212f"/>
<circle cx="289.80" cy="144.2" r="1.0" fill="#333"/>
<circle cx="317.60" cy="156.3" r="1.0" fill="#333"/>
<circle cx="345.90" cy="163.1" r="1.0" fill="#333"/>
<text x="373.5" y="176.7" font-size="6.8" text-anchor="middle" fill="#231f20" stroke="#231f20" stroke-width="0.12" textLength="6.32" lengthAdjust="spacingAndGlyphs">ns</text>
<text x="401.5" y="171.5" font-size="6.8" text-anchor="middle" fill="#231f20" stroke="#231f20" stroke-width="0.12" textLength="6.32" lengthAdjust="spacingAndGlyphs">ns</text>
<line x1="262.1" y1="133.4" x2="346" y2="133.4" stroke="#4d4d4d" stroke-width="1.1"/>
<text x="233.2" y="168.7" font-size="8.7" text-anchor="middle" fill="#231f20" stroke="#231f20" stroke-width="0.12" textLength="85.1" lengthAdjust="spacingAndGlyphs" transform="rotate(-90 233.2 168.7)">% pPMN (fold change)</text>
<text x="68" y="252.9" font-size="7.6" text-anchor="middle" fill="#231f20" stroke="#231f20" stroke-width="0.12" textLength="10" lengthAdjust="spacingAndGlyphs">Ctl</text>
<text x="132.6" y="252.9" font-size="7.6" text-anchor="middle" fill="#231f20" stroke="#231f20" stroke-width="0.12" textLength="17.2" lengthAdjust="spacingAndGlyphs">Ly6G</text>
<rect x="38.5" y="256.3" width="59.2" height="59.19999999999999" fill="none" stroke="#333" stroke-width="1.05"/>
<line x1="36.5" y1="262.43142857142857" x2="38.5" y2="262.43142857142857" stroke="#231f20" stroke-width="0.8"/>
<text x="35.1" y="264.43142857142857" font-size="5.9" text-anchor="end" fill="#231f20" stroke="#231f20" stroke-width="0.1">10<tspan font-size="3.8" dy="-2.5">5</tspan></text>
<line x1="36.5" y1="276.1742857142857" x2="38.5" y2="276.1742857142857" stroke="#231f20" stroke-width="0.8"/>
<text x="35.1" y="278.1742857142857" font-size="5.9" text-anchor="end" fill="#231f20" stroke="#231f20" stroke-width="0.1">10<tspan font-size="3.8" dy="-2.5">4</tspan></text>
<line x1="36.5" y1="292.24285714285713" x2="38.5" y2="292.24285714285713" stroke="#231f20" stroke-width="0.8"/>
<text x="35.1" y="294.24285714285713" font-size="5.9" text-anchor="end" fill="#231f20" stroke="#231f20" stroke-width="0.1">10<tspan font-size="3.8" dy="-2.5">3</tspan></text>
<line x1="36.5" y1="302.4971428571429" x2="38.5" y2="302.4971428571429" stroke="#231f20" stroke-width="0.8"/>
<text x="32.9" y="304.4971428571429" font-size="5.9" text-anchor="end" fill="#231f20" stroke="#231f20" stroke-width="0.12">0</text>
<line x1="36.5" y1="312.8571428571429" x2="38.5" y2="312.8571428571429" stroke="#231f20" stroke-width="0.8"/>
<text x="35.1" y="314.8571428571429" font-size="5.9" text-anchor="end" fill="#231f20" stroke="#231f20" stroke-width="0.1">-10<tspan font-size="3.8" dy="-2.5">3</tspan></text>
<line x1="37.3" y1="265.18" x2="38.5" y2="265.18" stroke="#555" stroke-width="0.5"/>
<line x1="37.3" y1="268.14" x2="38.5" y2="268.14" stroke="#555" stroke-width="0.5"/>
<line x1="37.3" y1="270.508" x2="38.5" y2="270.508" stroke="#555" stroke-width="0.5"/>
<line x1="37.3" y1="272.284" x2="38.5" y2="272.284" stroke="#555" stroke-width="0.5"/>
<line x1="37.3" y1="273.468" x2="38.5" y2="273.468" stroke="#555" stroke-width="0.5"/>
<line x1="37.3" y1="281.164" x2="38.5" y2="281.164" stroke="#555" stroke-width="0.5"/>
<line x1="37.3" y1="284.124" x2="38.5" y2="284.124" stroke="#555" stroke-width="0.5"/>
<line x1="37.3" y1="285.9" x2="38.5" y2="285.9" stroke="#555" stroke-width="0.5"/>
<line x1="37.3" y1="287.084" x2="38.5" y2="287.084" stroke="#555" stroke-width="0.5"/>
<line x1="37.3" y1="295.372" x2="38.5" y2="295.372" stroke="#555" stroke-width="0.5"/>
<line x1="37.3" y1="297.74" x2="38.5" y2="297.74" stroke="#555" stroke-width="0.5"/>
<line x1="37.3" y1="298.924" x2="38.5" y2="298.924" stroke="#555" stroke-width="0.5"/>
<line x1="37.3" y1="306.028" x2="38.5" y2="306.028" stroke="#555" stroke-width="0.5"/>
<line x1="37.3" y1="307.804" x2="38.5" y2="307.804" stroke="#555" stroke-width="0.5"/>
<line x1="37.3" y1="309.58" x2="38.5" y2="309.58" stroke="#555" stroke-width="0.5"/>
<line x1="37.3" y1="311.356" x2="38.5" y2="311.356" stroke="#555" stroke-width="0.5"/>
<line x1="37.3" y1="313.724" x2="38.5" y2="313.724" stroke="#555" stroke-width="0.5"/>
<rect x="36.3" y="301.4971428571429" width="2.2" height="2" fill="#231f20"/>
<line x1="41.927368421052634" y1="315.5" x2="41.927368421052634" y2="317.5" stroke="#231f20" stroke-width="0.8"/>
<text x="42.527368421052635" y="326.8" font-size="5.9" text-anchor="middle" fill="#231f20" stroke="#231f20" stroke-width="0.1">-10<tspan font-size="3.8" dy="-2.5">3</tspan></text>
<line x1="52.001754385964915" y1="315.5" x2="52.001754385964915" y2="317.5" stroke="#231f20" stroke-width="0.8"/>
<text x="52.001754385964915" y="326.8" font-size="5.9" text-anchor="middle" fill="#231f20" stroke="#231f20" stroke-width="0.12">0</text>
<line x1="61.66070175438597" y1="315.5" x2="61.66070175438597" y2="317.5" stroke="#231f20" stroke-width="0.8"/>
<text x="62.26070175438597" y="326.8" font-size="5.9" text-anchor="middle" fill="#231f20" stroke="#231f20" stroke-width="0.1">10<tspan font-size="3.8" dy="-2.5">3</tspan></text>
<line x1="79.21298245614035" y1="315.5" x2="79.21298245614035" y2="317.5" stroke="#231f20" stroke-width="0.8"/>
<text x="79.81298245614035" y="326.8" font-size="5.9" text-anchor="middle" fill="#231f20" stroke="#231f20" stroke-width="0.1">10<tspan font-size="3.8" dy="-2.5">4</tspan></text>
<line x1="91.98771929824562" y1="315.5" x2="91.98771929824562" y2="317.5" stroke="#231f20" stroke-width="0.8"/>
<text x="92.58771929824562" y="326.8" font-size="5.9" text-anchor="middle" fill="#231f20" stroke="#231f20" stroke-width="0.1">10<tspan font-size="3.8" dy="-2.5">5</tspan></text>
<line x1="43.236000000000004" y1="315.5" x2="43.236000000000004" y2="316.7" stroke="#555" stroke-width="0.5"/>
<line x1="45.604" y1="315.5" x2="45.604" y2="316.7" stroke="#555" stroke-width="0.5"/>
<line x1="47.38" y1="315.5" x2="47.38" y2="316.7" stroke="#555" stroke-width="0.5"/>
<line x1="48.564" y1="315.5" x2="48.564" y2="316.7" stroke="#555" stroke-width="0.5"/>
<line x1="56.260000000000005" y1="315.5" x2="56.260000000000005" y2="316.7" stroke="#555" stroke-width="0.5"/>
<line x1="58.628" y1="315.5" x2="58.628" y2="316.7" stroke="#555" stroke-width="0.5"/>
<line x1="60.403999999999996" y1="315.5" x2="60.403999999999996" y2="316.7" stroke="#555" stroke-width="0.5"/>
<line x1="65.14" y1="315.5" x2="65.14" y2="316.7" stroke="#555" stroke-width="0.5"/>
<line x1="68.1" y1="315.5" x2="68.1" y2="316.7" stroke="#555" stroke-width="0.5"/>
<line x1="71.06" y1="315.5" x2="71.06" y2="316.7" stroke="#555" stroke-width="0.5"/>
<line x1="72.836" y1="315.5" x2="72.836" y2="316.7" stroke="#555" stroke-width="0.5"/>
<line x1="75.20400000000001" y1="315.5" x2="75.20400000000001" y2="316.7" stroke="#555" stroke-width="0.5"/>
<line x1="76.388" y1="315.5" x2="76.388" y2="316.7" stroke="#555" stroke-width="0.5"/>
<line x1="82.9" y1="315.5" x2="82.9" y2="316.7" stroke="#555" stroke-width="0.5"/>
<line x1="85.268" y1="315.5" x2="85.268" y2="316.7" stroke="#555" stroke-width="0.5"/>
<line x1="87.044" y1="315.5" x2="87.044" y2="316.7" stroke="#555" stroke-width="0.5"/>
<line x1="88.82" y1="315.5" x2="88.82" y2="316.7" stroke="#555" stroke-width="0.5"/>
<line x1="94.74000000000001" y1="315.5" x2="94.74000000000001" y2="316.7" stroke="#555" stroke-width="0.5"/>
<line x1="96.51599999999999" y1="315.5" x2="96.51599999999999" y2="316.7" stroke="#555" stroke-width="0.5"/>
<rect x="51.001754385964915" y="315.5" width="2" height="2" fill="#231f20"/>
<rect x="103.5" y="256.3" width="59.599999999999994" height="59.19999999999999" fill="none" stroke="#333" stroke-width="1.05"/>
<line x1="101.5" y1="262.43142857142857" x2="103.5" y2="262.43142857142857" stroke="#231f20" stroke-width="0.8"/>
<line x1="101.5" y1="276.1742857142857" x2="103.5" y2="276.1742857142857" stroke="#231f20" stroke-width="0.8"/>
<line x1="101.5" y1="292.24285714285713" x2="103.5" y2="292.24285714285713" stroke="#231f20" stroke-width="0.8"/>
<line x1="101.5" y1="302.4971428571429" x2="103.5" y2="302.4971428571429" stroke="#231f20" stroke-width="0.8"/>
<line x1="101.5" y1="312.8571428571429" x2="103.5" y2="312.8571428571429" stroke="#231f20" stroke-width="0.8"/>
<line x1="102.3" y1="265.18" x2="103.5" y2="265.18" stroke="#555" stroke-width="0.5"/>
<line x1="102.3" y1="268.14" x2="103.5" y2="268.14" stroke="#555" stroke-width="0.5"/>
<line x1="102.3" y1="270.508" x2="103.5" y2="270.508" stroke="#555" stroke-width="0.5"/>
<line x1="102.3" y1="272.284" x2="103.5" y2="272.284" stroke="#555" stroke-width="0.5"/>
<line x1="102.3" y1="273.468" x2="103.5" y2="273.468" stroke="#555" stroke-width="0.5"/>
<line x1="102.3" y1="281.164" x2="103.5" y2="281.164" stroke="#555" stroke-width="0.5"/>
<line x1="102.3" y1="284.124" x2="103.5" y2="284.124" stroke="#555" stroke-width="0.5"/>
<line x1="102.3" y1="285.9" x2="103.5" y2="285.9" stroke="#555" stroke-width="0.5"/>
<line x1="102.3" y1="287.084" x2="103.5" y2="287.084" stroke="#555" stroke-width="0.5"/>
<line x1="102.3" y1="295.372" x2="103.5" y2="295.372" stroke="#555" stroke-width="0.5"/>
<line x1="102.3" y1="297.74" x2="103.5" y2="297.74" stroke="#555" stroke-width="0.5"/>
<line x1="102.3" y1="298.924" x2="103.5" y2="298.924" stroke="#555" stroke-width="0.5"/>
<line x1="102.3" y1="306.028" x2="103.5" y2="306.028" stroke="#555" stroke-width="0.5"/>
<line x1="102.3" y1="307.804" x2="103.5" y2="307.804" stroke="#555" stroke-width="0.5"/>
<line x1="102.3" y1="309.58" x2="103.5" y2="309.58" stroke="#555" stroke-width="0.5"/>
<line x1="102.3" y1="311.356" x2="103.5" y2="311.356" stroke="#555" stroke-width="0.5"/>
<line x1="102.3" y1="313.724" x2="103.5" y2="313.724" stroke="#555" stroke-width="0.5"/>
<rect x="101.3" y="301.4971428571429" width="2.2" height="2" fill="#231f20"/>
<line x1="106.95052631578947" y1="315.5" x2="106.95052631578947" y2="317.5" stroke="#231f20" stroke-width="0.8"/>
<text x="107.55052631578947" y="326.8" font-size="5.9" text-anchor="middle" fill="#231f20" stroke="#231f20" stroke-width="0.1">-10<tspan font-size="3.8" dy="-2.5">3</tspan></text>
<line x1="117.09298245614035" y1="315.5" x2="117.09298245614035" y2="317.5" stroke="#231f20" stroke-width="0.8"/>
<text x="117.09298245614035" y="326.8" font-size="5.9" text-anchor="middle" fill="#231f20" stroke="#231f20" stroke-width="0.12">0</text>
<line x1="126.81719298245613" y1="315.5" x2="126.81719298245613" y2="317.5" stroke="#231f20" stroke-width="0.8"/>
<text x="127.41719298245613" y="326.8" font-size="5.9" text-anchor="middle" fill="#231f20" stroke="#231f20" stroke-width="0.1">10<tspan font-size="3.8" dy="-2.5">3</tspan></text>
<line x1="144.4880701754386" y1="315.5" x2="144.4880701754386" y2="317.5" stroke="#231f20" stroke-width="0.8"/>
<text x="145.0880701754386" y="326.8" font-size="5.9" text-anchor="middle" fill="#231f20" stroke="#231f20" stroke-width="0.1">10<tspan font-size="3.8" dy="-2.5">4</tspan></text>
<line x1="157.34912280701755" y1="315.5" x2="157.34912280701755" y2="317.5" stroke="#231f20" stroke-width="0.8"/>
<text x="157.94912280701755" y="326.8" font-size="5.9" text-anchor="middle" fill="#231f20" stroke="#231f20" stroke-width="0.1">10<tspan font-size="3.8" dy="-2.5">5</tspan></text>
<line x1="108.268" y1="315.5" x2="108.268" y2="316.7" stroke="#555" stroke-width="0.5"/>
<line x1="110.652" y1="315.5" x2="110.652" y2="316.7" stroke="#555" stroke-width="0.5"/>
<line x1="112.44" y1="315.5" x2="112.44" y2="316.7" stroke="#555" stroke-width="0.5"/>
<line x1="113.632" y1="315.5" x2="113.632" y2="316.7" stroke="#555" stroke-width="0.5"/>
<line x1="121.38" y1="315.5" x2="121.38" y2="316.7" stroke="#555" stroke-width="0.5"/>
<line x1="123.764" y1="315.5" x2="123.764" y2="316.7" stroke="#555" stroke-width="0.5"/>
<line x1="125.55199999999999" y1="315.5" x2="125.55199999999999" y2="316.7" stroke="#555" stroke-width="0.5"/>
<line x1="130.32" y1="315.5" x2="130.32" y2="316.7" stroke="#555" stroke-width="0.5"/>
<line x1="133.3" y1="315.5" x2="133.3" y2="316.7" stroke="#555" stroke-width="0.5"/>
<line x1="136.28" y1="315.5" x2="136.28" y2="316.7" stroke="#555" stroke-width="0.5"/>
<line x1="138.06799999999998" y1="315.5" x2="138.06799999999998" y2="316.7" stroke="#555" stroke-width="0.5"/>
<line x1="140.452" y1="315.5" x2="140.452" y2="316.7" stroke="#555" stroke-width="0.5"/>
<line x1="141.644" y1="315.5" x2="141.644" y2="316.7" stroke="#555" stroke-width="0.5"/>
<line x1="148.2" y1="315.5" x2="148.2" y2="316.7" stroke="#555" stroke-width="0.5"/>
<line x1="150.584" y1="315.5" x2="150.584" y2="316.7" stroke="#555" stroke-width="0.5"/>
<line x1="152.37199999999999" y1="315.5" x2="152.37199999999999" y2="316.7" stroke="#555" stroke-width="0.5"/>
<line x1="154.16" y1="315.5" x2="154.16" y2="316.7" stroke="#555" stroke-width="0.5"/>
<line x1="160.12" y1="315.5" x2="160.12" y2="316.7" stroke="#555" stroke-width="0.5"/>
<line x1="161.908" y1="315.5" x2="161.908" y2="316.7" stroke="#555" stroke-width="0.5"/>
<rect x="116.09298245614035" y="315.5" width="2" height="2" fill="#231f20"/>
<text x="19.3" y="286.3" font-size="8.5" text-anchor="middle" fill="#231f20" stroke="#231f20" stroke-width="0.12" textLength="23.8" lengthAdjust="spacingAndGlyphs" transform="rotate(-90 19.3 286.3)">CD11b</text>
<text x="100.35" y="338.1" font-size="8.4" text-anchor="middle" fill="#231f20" stroke="#231f20" stroke-width="0.12" textLength="23.5" lengthAdjust="spacingAndGlyphs">CD66a</text>
<text x="44.1" y="269.8" font-size="7.0" text-anchor="start" fill="#231f20" stroke="#231f20" stroke-width="0.12" textLength="14.9" lengthAdjust="spacingAndGlyphs">2.8%</text>
<text x="109.8" y="269.8" font-size="7.0" text-anchor="start" fill="#231f20" stroke="#231f20" stroke-width="0.12" textLength="19.2" lengthAdjust="spacingAndGlyphs">45.8%</text>
<g><path d="M84.50,293.00 L84.30,295.41 L83.72,297.65 L82.80,299.58 L81.60,301.05 L80.20,301.98 L78.70,302.30 L77.20,301.98 L75.80,301.05 L74.60,299.58 L73.68,297.65 L73.10,295.41 L72.90,293.00 L73.10,290.59 L73.68,288.35 L74.60,286.42 L75.80,284.95 L77.20,284.02 L78.70,283.70 L80.20,284.02 L81.60,284.95 L82.80,286.42 L83.72,288.35 L84.30,290.59 Z" transform="translate(79.2 292.5) scale(1.000) translate(-79.2 -292.5)" fill="rgb(205,205,205)" stroke="rgb(150,150,150)" stroke-width="0.5" vector-effect="non-scaling-stroke"/><path d="M84.50,293.00 L84.30,295.41 L83.72,297.65 L82.80,299.58 L81.60,301.05 L80.20,301.98 L78.70,302.30 L77.20,301.98 L75.80,301.05 L74.60,299.58 L73.68,297.65 L73.10,295.41 L72.90,293.00 L73.10,290.59 L73.68,288.35 L74.60,286.42 L75.80,284.95 L77.20,284.02 L78.70,283.70 L80.20,284.02 L81.60,284.95 L82.80,286.42 L83.72,288.35 L84.30,290.59 Z" transform="translate(79.2 292.5) scale(0.840) translate(-79.2 -292.5)" fill="rgb(188,188,188)" stroke="rgb(133,133,133)" stroke-width="0.5" vector-effect="non-scaling-stroke"/><path d="M84.50,293.00 L84.30,295.41 L83.72,297.65 L82.80,299.58 L81.60,301.05 L80.20,301.98 L78.70,302.30 L77.20,301.98 L75.80,301.05 L74.60,299.58 L73.68,297.65 L73.10,295.41 L72.90,293.00 L73.10,290.59 L73.68,288.35 L74.60,286.42 L75.80,284.95 L77.20,284.02 L78.70,283.70 L80.20,284.02 L81.60,284.95 L82.80,286.42 L83.72,288.35 L84.30,290.59 Z" transform="translate(79.2 292.5) scale(0.680) translate(-79.2 -292.5)" fill="rgb(171,171,171)" stroke="rgb(116,116,116)" stroke-width="0.5" vector-effect="non-scaling-stroke"/><path d="M84.50,293.00 L84.30,295.41 L83.72,297.65 L82.80,299.58 L81.60,301.05 L80.20,301.98 L78.70,302.30 L77.20,301.98 L75.80,301.05 L74.60,299.58 L73.68,297.65 L73.10,295.41 L72.90,293.00 L73.10,290.59 L73.68,288.35 L74.60,286.42 L75.80,284.95 L77.20,284.02 L78.70,283.70 L80.20,284.02 L81.60,284.95 L82.80,286.42 L83.72,288.35 L84.30,290.59 Z" transform="translate(79.2 292.5) scale(0.520) translate(-79.2 -292.5)" fill="rgb(154,154,154)" stroke="rgb(99,99,99)" stroke-width="0.5" vector-effect="non-scaling-stroke"/><path d="M84.50,293.00 L84.30,295.41 L83.72,297.65 L82.80,299.58 L81.60,301.05 L80.20,301.98 L78.70,302.30 L77.20,301.98 L75.80,301.05 L74.60,299.58 L73.68,297.65 L73.10,295.41 L72.90,293.00 L73.10,290.59 L73.68,288.35 L74.60,286.42 L75.80,284.95 L77.20,284.02 L78.70,283.70 L80.20,284.02 L81.60,284.95 L82.80,286.42 L83.72,288.35 L84.30,290.59 Z" transform="translate(79.2 292.5) scale(0.360) translate(-79.2 -292.5)" fill="rgb(137,137,137)" stroke="rgb(82,82,82)" stroke-width="0.5" vector-effect="non-scaling-stroke"/><path d="M84.50,293.00 L84.30,295.41 L83.72,297.65 L82.80,299.58 L81.60,301.05 L80.20,301.98 L78.70,302.30 L77.20,301.98 L75.80,301.05 L74.60,299.58 L73.68,297.65 L73.10,295.41 L72.90,293.00 L73.10,290.59 L73.68,288.35 L74.60,286.42 L75.80,284.95 L77.20,284.02 L78.70,283.70 L80.20,284.02 L81.60,284.95 L82.80,286.42 L83.72,288.35 L84.30,290.59 Z" transform="translate(79.2 292.5) scale(0.200) translate(-79.2 -292.5)" fill="rgb(120,120,120)" stroke="rgb(65,65,65)" stroke-width="0.5" vector-effect="non-scaling-stroke"/></g>
<line x1="79.6" y1="288.5" x2="79.4" y2="296.5" stroke="#e6e6e6" stroke-width="0.9"/>
<polygon points="72.1,280.3 75.5,271.2 88.0,260.2 96.7,261.3 91.0,280.7 84.2,284.5" fill="none" stroke="#444" stroke-width="0.75" stroke-linejoin="round"/>
<g><path d="M151,270.5 C154.5,271.5 154,277 151.5,282 C149.5,287 149,294 146,298.5 C143.5,301 139,300.5 137,296 C134.5,290 134.2,284 136.5,280 C139.5,275 146,269.5 151,270.5 Z" transform="translate(141.8 281.5) scale(1.000) translate(-141.8 -281.5)" fill="rgb(228,228,228)" stroke="rgb(168,168,168)" stroke-width="0.5" vector-effect="non-scaling-stroke"/><path d="M151,270.5 C154.5,271.5 154,277 151.5,282 C149.5,287 149,294 146,298.5 C143.5,301 139,300.5 137,296 C134.5,290 134.2,284 136.5,280 C139.5,275 146,269.5 151,270.5 Z" transform="translate(141.8 281.5) scale(0.858) translate(-141.8 -281.5)" fill="rgb(210,210,210)" stroke="rgb(150,150,150)" stroke-width="0.5" vector-effect="non-scaling-stroke"/><path d="M151,270.5 C154.5,271.5 154,277 151.5,282 C149.5,287 149,294 146,298.5 C143.5,301 139,300.5 137,296 C134.5,290 134.2,284 136.5,280 C139.5,275 146,269.5 151,270.5 Z" transform="translate(141.8 281.5) scale(0.717) translate(-141.8 -281.5)" fill="rgb(192,192,192)" stroke="rgb(132,132,132)" stroke-width="0.5" vector-effect="non-scaling-stroke"/><path d="M151,270.5 C154.5,271.5 154,277 151.5,282 C149.5,287 149,294 146,298.5 C143.5,301 139,300.5 137,296 C134.5,290 134.2,284 136.5,280 C139.5,275 146,269.5 151,270.5 Z" transform="translate(141.8 281.5) scale(0.575) translate(-141.8 -281.5)" fill="rgb(174,174,174)" stroke="rgb(114,114,114)" stroke-width="0.5" vector-effect="non-scaling-stroke"/><path d="M151,270.5 C154.5,271.5 154,277 151.5,282 C149.5,287 149,294 146,298.5 C143.5,301 139,300.5 137,296 C134.5,290 134.2,284 136.5,280 C139.5,275 146,269.5 151,270.5 Z" transform="translate(141.8 281.5) scale(0.433) translate(-141.8 -281.5)" fill="rgb(156,156,156)" stroke="rgb(96,96,96)" stroke-width="0.5" vector-effect="non-scaling-stroke"/><path d="M151,270.5 C154.5,271.5 154,277 151.5,282 C149.5,287 149,294 146,298.5 C143.5,301 139,300.5 137,296 C134.5,290 134.2,284 136.5,280 C139.5,275 146,269.5 151,270.5 Z" transform="translate(141.8 281.5) scale(0.292) translate(-141.8 -281.5)" fill="rgb(138,138,138)" stroke="rgb(78,78,78)" stroke-width="0.5" vector-effect="non-scaling-stroke"/><path d="M151,270.5 C154.5,271.5 154,277 151.5,282 C149.5,287 149,294 146,298.5 C143.5,301 139,300.5 137,296 C134.5,290 134.2,284 136.5,280 C139.5,275 146,269.5 151,270.5 Z" transform="translate(141.8 281.5) scale(0.150) translate(-141.8 -281.5)" fill="rgb(120,120,120)" stroke="rgb(60,60,60)" stroke-width="0.5" vector-effect="non-scaling-stroke"/></g>
<path d="M140.5,281.2 L143,281.6" stroke="#f0f0f0" stroke-width="1.0"/>
<polygon points="137.2,280.3 140.6,271.2 153.1,260.2 161.8,261.3 156.1,280.7 149.3,284.5" fill="none" stroke="#444" stroke-width="0.75" stroke-linejoin="round"/>
<text x="179.7" y="275.2" font-size="8.7" text-anchor="middle" fill="#231f20" stroke="#231f20" stroke-width="0.12" textLength="34" lengthAdjust="spacingAndGlyphs" transform="rotate(-90 179.7 275.2)">% pPMN</text>
<line x1="203.8" y1="233.6" x2="203.8" y2="316.0" stroke="#231f20" stroke-width="1.1"/>
<line x1="203.3" y1="315.5" x2="257.4" y2="315.5" stroke="#231f20" stroke-width="1.1"/>
<line x1="201.20000000000002" y1="315.5" x2="203.8" y2="315.5" stroke="#231f20" stroke-width="1"/>
<text x="198.3" y="318.25" font-size="7.7" text-anchor="end" fill="#231f20" stroke="#231f20" stroke-width="0.12" textLength="4.07" lengthAdjust="spacingAndGlyphs">0</text>
<line x1="201.20000000000002" y1="299.72" x2="203.8" y2="299.72" stroke="#231f20" stroke-width="1"/>
<text x="198.3" y="302.47" font-size="7.7" text-anchor="end" fill="#231f20" stroke="#231f20" stroke-width="0.12" textLength="8.14" lengthAdjust="spacingAndGlyphs">20</text>
<line x1="201.20000000000002" y1="283.94" x2="203.8" y2="283.94" stroke="#231f20" stroke-width="1"/>
<text x="198.3" y="286.69" font-size="7.7" text-anchor="end" fill="#231f20" stroke="#231f20" stroke-width="0.12" textLength="8.14" lengthAdjust="spacingAndGlyphs">40</text>
<line x1="201.20000000000002" y1="268.15999999999997" x2="203.8" y2="268.15999999999997" stroke="#231f20" stroke-width="1"/>
<text x="198.3" y="270.90999999999997" font-size="7.7" text-anchor="end" fill="#231f20" stroke="#231f20" stroke-width="0.12" textLength="8.14" lengthAdjust="spacingAndGlyphs">60</text>
<line x1="201.20000000000002" y1="252.38" x2="203.8" y2="252.38" stroke="#231f20" stroke-width="1"/>
<text x="198.3" y="255.13" font-size="7.7" text-anchor="end" fill="#231f20" stroke="#231f20" stroke-width="0.12" textLength="8.14" lengthAdjust="spacingAndGlyphs">80</text>
<line x1="201.20000000000002" y1="236.6" x2="203.8" y2="236.6" stroke="#231f20" stroke-width="1"/>
<text x="198.3" y="239.35" font-size="7.7" text-anchor="end" fill="#231f20" stroke="#231f20" stroke-width="0.12" textLength="12.21" lengthAdjust="spacingAndGlyphs">100</text>
<line x1="218.2" y1="315.5" x2="218.2" y2="318.1" stroke="#231f20" stroke-width="1"/>
<text x="218.2" y="328.1" font-size="7.8" text-anchor="middle" fill="#231f20" stroke="#231f20" stroke-width="0.12" textLength="8.87" lengthAdjust="spacingAndGlyphs">Ctl</text>
<polygon points="209.45,312.97 213.05,312.97 211.25,309.66" fill="#a41c30"/>
<polygon points="211.57,313.81 215.17,313.81 213.37,310.50" fill="#a41c30"/>
<polygon points="213.68,312.33 217.28,312.33 215.48,309.02" fill="#a41c30"/>
<polygon points="215.80,313.39 219.40,313.39 217.60,310.08" fill="#a41c30"/>
<polygon points="217.28,314.45 220.88,314.45 219.08,311.14" fill="#a41c30"/>
<polygon points="218.97,311.70 222.57,311.70 220.77,308.39" fill="#a41c30"/>
<polygon points="221.09,312.97 224.69,312.97 222.89,309.66" fill="#a41c30"/>
<polygon points="222.78,313.39 226.38,313.39 224.58,310.08" fill="#a41c30"/>
<polygon points="213.05,315.08 216.65,315.08 214.85,311.77" fill="#a41c30"/>
<polygon points="216.43,315.08 220.03,315.08 218.23,311.77" fill="#a41c30"/>
<line x1="210.2" y1="312.344" x2="226.2" y2="312.344" stroke="#262626" stroke-width="1.0"/>
<line x1="218.2" y1="311.1605" x2="218.2" y2="313.5275" stroke="#262626" stroke-width="1.0"/>
<line x1="214.2" y1="311.1605" x2="222.2" y2="311.1605" stroke="#262626" stroke-width="1.0"/>
<line x1="214.2" y1="313.5275" x2="222.2" y2="313.5275" stroke="#262626" stroke-width="1.0"/>
<line x1="244.5" y1="315.5" x2="244.5" y2="318.1" stroke="#231f20" stroke-width="1"/>
<text x="244.5" y="328.1" font-size="7.8" text-anchor="middle" fill="#231f20" stroke="#231f20" stroke-width="0.12" textLength="17.07" lengthAdjust="spacingAndGlyphs">Ly6G</text>
<polygon points="240.13,246.75 243.73,246.75 241.93,243.44" fill="#a41c30"/>
<polygon points="244.78,249.93 248.38,249.93 246.58,246.61" fill="#a41c30"/>
<polygon points="242.24,268.97 245.84,268.97 244.04,265.65" fill="#a41c30"/>
<polygon points="242.67,276.37 246.27,276.37 244.47,273.06" fill="#a41c30"/>
<polygon points="235.90,281.66 239.50,281.66 237.70,278.35" fill="#a41c30"/>
<polygon points="240.55,281.66 244.15,281.66 242.35,278.35" fill="#a41c30"/>
<polygon points="244.78,279.54 248.38,279.54 246.58,276.23" fill="#a41c30"/>
<polygon points="248.59,284.83 252.19,284.83 250.39,281.52" fill="#a41c30"/>
<polygon points="239.07,286.31 242.67,286.31 240.87,283.00" fill="#a41c30"/>
<polygon points="244.36,286.31 247.96,286.31 246.16,283.00" fill="#a41c30"/>
<polygon points="240.13,299.64 243.73,299.64 241.93,296.33" fill="#a41c30"/>
<polygon points="244.78,298.16 248.38,298.16 246.58,294.85" fill="#a41c30"/>
<line x1="235.65" y1="276.05" x2="253.35" y2="276.05" stroke="#262626" stroke-width="1.0"/>
<line x1="244.5" y1="260.27" x2="244.5" y2="291.83" stroke="#262626" stroke-width="1.0"/>
<line x1="239.85" y1="260.27" x2="249.15" y2="260.27" stroke="#262626" stroke-width="1.0"/>
<line x1="239.85" y1="291.83" x2="249.15" y2="291.83" stroke="#262626" stroke-width="1.0"/>
<circle cx="227.53" cy="236.4" r="1.0" fill="#333"/>
<circle cx="230.58" cy="236.4" r="1.0" fill="#333"/>
<circle cx="233.62" cy="236.4" r="1.0" fill="#333"/>
<circle cx="236.68" cy="236.4" r="1.0" fill="#333"/>
<text x="323.5" y="252.9" font-size="7.6" text-anchor="middle" fill="#231f20" stroke="#231f20" stroke-width="0.12" textLength="10" lengthAdjust="spacingAndGlyphs">Ctl</text>
<text x="388.4" y="252.9" font-size="7.6" text-anchor="middle" fill="#231f20" stroke="#231f20" stroke-width="0.12" textLength="17.2" lengthAdjust="spacingAndGlyphs">Ly6G</text>
<rect x="293.8" y="256.3" width="58.89999999999998" height="59.19999999999999" fill="none" stroke="#333" stroke-width="1.05"/>
<line x1="291.8" y1="262.43142857142857" x2="293.8" y2="262.43142857142857" stroke="#231f20" stroke-width="0.8"/>
<text x="290.40000000000003" y="264.43142857142857" font-size="5.9" text-anchor="end" fill="#231f20" stroke="#231f20" stroke-width="0.1">10<tspan font-size="3.8" dy="-2.5">5</tspan></text>
<line x1="291.8" y1="276.1742857142857" x2="293.8" y2="276.1742857142857" stroke="#231f20" stroke-width="0.8"/>
<text x="290.40000000000003" y="278.1742857142857" font-size="5.9" text-anchor="end" fill="#231f20" stroke="#231f20" stroke-width="0.1">10<tspan font-size="3.8" dy="-2.5">4</tspan></text>
<line x1="291.8" y1="292.24285714285713" x2="293.8" y2="292.24285714285713" stroke="#231f20" stroke-width="0.8"/>
<text x="290.40000000000003" y="294.24285714285713" font-size="5.9" text-anchor="end" fill="#231f20" stroke="#231f20" stroke-width="0.1">10<tspan font-size="3.8" dy="-2.5">3</tspan></text>
<line x1="291.8" y1="302.4971428571429" x2="293.8" y2="302.4971428571429" stroke="#231f20" stroke-width="0.8"/>
<text x="288.2" y="304.4971428571429" font-size="5.9" text-anchor="end" fill="#231f20" stroke="#231f20" stroke-width="0.12">0</text>
<line x1="291.8" y1="312.8571428571429" x2="293.8" y2="312.8571428571429" stroke="#231f20" stroke-width="0.8"/>
<text x="290.40000000000003" y="314.8571428571429" font-size="5.9" text-anchor="end" fill="#231f20" stroke="#231f20" stroke-width="0.1">-10<tspan font-size="3.8" dy="-2.5">3</tspan></text>
<line x1="292.6" y1="265.18" x2="293.8" y2="265.18" stroke="#555" stroke-width="0.5"/>
<line x1="292.6" y1="268.14" x2="293.8" y2="268.14" stroke="#555" stroke-width="0.5"/>
<line x1="292.6" y1="270.508" x2="293.8" y2="270.508" stroke="#555" stroke-width="0.5"/>
<line x1="292.6" y1="272.284" x2="293.8" y2="272.284" stroke="#555" stroke-width="0.5"/>
<line x1="292.6" y1="273.468" x2="293.8" y2="273.468" stroke="#555" stroke-width="0.5"/>
<line x1="292.6" y1="281.164" x2="293.8" y2="281.164" stroke="#555" stroke-width="0.5"/>
<line x1="292.6" y1="284.124" x2="293.8" y2="284.124" stroke="#555" stroke-width="0.5"/>
<line x1="292.6" y1="285.9" x2="293.8" y2="285.9" stroke="#555" stroke-width="0.5"/>
<line x1="292.6" y1="287.084" x2="293.8" y2="287.084" stroke="#555" stroke-width="0.5"/>
<line x1="292.6" y1="295.372" x2="293.8" y2="295.372" stroke="#555" stroke-width="0.5"/>
<line x1="292.6" y1="297.74" x2="293.8" y2="297.74" stroke="#555" stroke-width="0.5"/>
<line x1="292.6" y1="298.924" x2="293.8" y2="298.924" stroke="#555" stroke-width="0.5"/>
<line x1="292.6" y1="306.028" x2="293.8" y2="306.028" stroke="#555" stroke-width="0.5"/>
<line x1="292.6" y1="307.804" x2="293.8" y2="307.804" stroke="#555" stroke-width="0.5"/>
<line x1="292.6" y1="309.58" x2="293.8" y2="309.58" stroke="#555" stroke-width="0.5"/>
<line x1="292.6" y1="311.356" x2="293.8" y2="311.356" stroke="#555" stroke-width="0.5"/>
<line x1="292.6" y1="313.724" x2="293.8" y2="313.724" stroke="#555" stroke-width="0.5"/>
<rect x="291.6" y="301.4971428571429" width="2.2" height="2" fill="#231f20"/>
<line x1="297.21000000000004" y1="315.5" x2="297.21000000000004" y2="317.5" stroke="#231f20" stroke-width="0.8"/>
<text x="297.81000000000006" y="326.8" font-size="5.9" text-anchor="middle" fill="#231f20" stroke="#231f20" stroke-width="0.1">-10<tspan font-size="3.8" dy="-2.5">3</tspan></text>
<line x1="307.23333333333335" y1="315.5" x2="307.23333333333335" y2="317.5" stroke="#231f20" stroke-width="0.8"/>
<text x="307.23333333333335" y="326.8" font-size="5.9" text-anchor="middle" fill="#231f20" stroke="#231f20" stroke-width="0.12">0</text>
<line x1="316.84333333333336" y1="315.5" x2="316.84333333333336" y2="317.5" stroke="#231f20" stroke-width="0.8"/>
<text x="317.4433333333334" y="326.8" font-size="5.9" text-anchor="middle" fill="#231f20" stroke="#231f20" stroke-width="0.1">10<tspan font-size="3.8" dy="-2.5">3</tspan></text>
<line x1="334.3066666666667" y1="315.5" x2="334.3066666666667" y2="317.5" stroke="#231f20" stroke-width="0.8"/>
<text x="334.9066666666667" y="326.8" font-size="5.9" text-anchor="middle" fill="#231f20" stroke="#231f20" stroke-width="0.1">10<tspan font-size="3.8" dy="-2.5">4</tspan></text>
<line x1="347.01666666666665" y1="315.5" x2="347.01666666666665" y2="317.5" stroke="#231f20" stroke-width="0.8"/>
<text x="347.6166666666667" y="326.8" font-size="5.9" text-anchor="middle" fill="#231f20" stroke="#231f20" stroke-width="0.1">10<tspan font-size="3.8" dy="-2.5">5</tspan></text>
<line x1="298.512" y1="315.5" x2="298.512" y2="316.7" stroke="#555" stroke-width="0.5"/>
<line x1="300.868" y1="315.5" x2="300.868" y2="316.7" stroke="#555" stroke-width="0.5"/>
<line x1="302.635" y1="315.5" x2="302.635" y2="316.7" stroke="#555" stroke-width="0.5"/>
<line x1="303.813" y1="315.5" x2="303.813" y2="316.7" stroke="#555" stroke-width="0.5"/>
<line x1="311.47" y1="315.5" x2="311.47" y2="316.7" stroke="#555" stroke-width="0.5"/>
<line x1="313.826" y1="315.5" x2="313.826" y2="316.7" stroke="#555" stroke-width="0.5"/>
<line x1="315.593" y1="315.5" x2="315.593" y2="316.7" stroke="#555" stroke-width="0.5"/>
<line x1="320.305" y1="315.5" x2="320.305" y2="316.7" stroke="#555" stroke-width="0.5"/>
<line x1="323.25" y1="315.5" x2="323.25" y2="316.7" stroke="#555" stroke-width="0.5"/>
<line x1="326.195" y1="315.5" x2="326.195" y2="316.7" stroke="#555" stroke-width="0.5"/>
<line x1="327.962" y1="315.5" x2="327.962" y2="316.7" stroke="#555" stroke-width="0.5"/>
<line x1="330.318" y1="315.5" x2="330.318" y2="316.7" stroke="#555" stroke-width="0.5"/>
<line x1="331.496" y1="315.5" x2="331.496" y2="316.7" stroke="#555" stroke-width="0.5"/>
<line x1="337.975" y1="315.5" x2="337.975" y2="316.7" stroke="#555" stroke-width="0.5"/>
<line x1="340.331" y1="315.5" x2="340.331" y2="316.7" stroke="#555" stroke-width="0.5"/>
<line x1="342.098" y1="315.5" x2="342.098" y2="316.7" stroke="#555" stroke-width="0.5"/>
<line x1="343.865" y1="315.5" x2="343.865" y2="316.7" stroke="#555" stroke-width="0.5"/>
<line x1="349.755" y1="315.5" x2="349.755" y2="316.7" stroke="#555" stroke-width="0.5"/>
<line x1="351.522" y1="315.5" x2="351.522" y2="316.7" stroke="#555" stroke-width="0.5"/>
<rect x="306.23333333333335" y="315.5" width="2" height="2" fill="#231f20"/>
<rect x="359.2" y="256.3" width="59.400000000000034" height="59.19999999999999" fill="none" stroke="#333" stroke-width="1.05"/>
<line x1="357.2" y1="262.43142857142857" x2="359.2" y2="262.43142857142857" stroke="#231f20" stroke-width="0.8"/>
<line x1="357.2" y1="276.1742857142857" x2="359.2" y2="276.1742857142857" stroke="#231f20" stroke-width="0.8"/>
<line x1="357.2" y1="292.24285714285713" x2="359.2" y2="292.24285714285713" stroke="#231f20" stroke-width="0.8"/>
<line x1="357.2" y1="302.4971428571429" x2="359.2" y2="302.4971428571429" stroke="#231f20" stroke-width="0.8"/>
<line x1="357.2" y1="312.8571428571429" x2="359.2" y2="312.8571428571429" stroke="#231f20" stroke-width="0.8"/>
<line x1="358.0" y1="265.18" x2="359.2" y2="265.18" stroke="#555" stroke-width="0.5"/>
<line x1="358.0" y1="268.14" x2="359.2" y2="268.14" stroke="#555" stroke-width="0.5"/>
<line x1="358.0" y1="270.508" x2="359.2" y2="270.508" stroke="#555" stroke-width="0.5"/>
<line x1="358.0" y1="272.284" x2="359.2" y2="272.284" stroke="#555" stroke-width="0.5"/>
<line x1="358.0" y1="273.468" x2="359.2" y2="273.468" stroke="#555" stroke-width="0.5"/>
<line x1="358.0" y1="281.164" x2="359.2" y2="281.164" stroke="#555" stroke-width="0.5"/>
<line x1="358.0" y1="284.124" x2="359.2" y2="284.124" stroke="#555" stroke-width="0.5"/>
<line x1="358.0" y1="285.9" x2="359.2" y2="285.9" stroke="#555" stroke-width="0.5"/>
<line x1="358.0" y1="287.084" x2="359.2" y2="287.084" stroke="#555" stroke-width="0.5"/>
<line x1="358.0" y1="295.372" x2="359.2" y2="295.372" stroke="#555" stroke-width="0.5"/>
<line x1="358.0" y1="297.74" x2="359.2" y2="297.74" stroke="#555" stroke-width="0.5"/>
<line x1="358.0" y1="298.924" x2="359.2" y2="298.924" stroke="#555" stroke-width="0.5"/>
<line x1="358.0" y1="306.028" x2="359.2" y2="306.028" stroke="#555" stroke-width="0.5"/>
<line x1="358.0" y1="307.804" x2="359.2" y2="307.804" stroke="#555" stroke-width="0.5"/>
<line x1="358.0" y1="309.58" x2="359.2" y2="309.58" stroke="#555" stroke-width="0.5"/>
<line x1="358.0" y1="311.356" x2="359.2" y2="311.356" stroke="#555" stroke-width="0.5"/>
<line x1="358.0" y1="313.724" x2="359.2" y2="313.724" stroke="#555" stroke-width="0.5"/>
<rect x="357.0" y="301.4971428571429" width="2.2" height="2" fill="#231f20"/>
<line x1="362.63894736842104" y1="315.5" x2="362.63894736842104" y2="317.5" stroke="#231f20" stroke-width="0.8"/>
<text x="363.23894736842107" y="326.8" font-size="5.9" text-anchor="middle" fill="#231f20" stroke="#231f20" stroke-width="0.1">-10<tspan font-size="3.8" dy="-2.5">3</tspan></text>
<line x1="372.7473684210526" y1="315.5" x2="372.7473684210526" y2="317.5" stroke="#231f20" stroke-width="0.8"/>
<text x="372.7473684210526" y="326.8" font-size="5.9" text-anchor="middle" fill="#231f20" stroke="#231f20" stroke-width="0.12">0</text>
<line x1="382.43894736842105" y1="315.5" x2="382.43894736842105" y2="317.5" stroke="#231f20" stroke-width="0.8"/>
<text x="383.0389473684211" y="326.8" font-size="5.9" text-anchor="middle" fill="#231f20" stroke="#231f20" stroke-width="0.1">10<tspan font-size="3.8" dy="-2.5">3</tspan></text>
<line x1="400.0505263157895" y1="315.5" x2="400.0505263157895" y2="317.5" stroke="#231f20" stroke-width="0.8"/>
<text x="400.65052631578953" y="326.8" font-size="5.9" text-anchor="middle" fill="#231f20" stroke="#231f20" stroke-width="0.1">10<tspan font-size="3.8" dy="-2.5">4</tspan></text>
<line x1="412.8684210526316" y1="315.5" x2="412.8684210526316" y2="317.5" stroke="#231f20" stroke-width="0.8"/>
<text x="413.46842105263164" y="326.8" font-size="5.9" text-anchor="middle" fill="#231f20" stroke="#231f20" stroke-width="0.1">10<tspan font-size="3.8" dy="-2.5">5</tspan></text>
<line x1="363.952" y1="315.5" x2="363.952" y2="316.7" stroke="#555" stroke-width="0.5"/>
<line x1="366.328" y1="315.5" x2="366.328" y2="316.7" stroke="#555" stroke-width="0.5"/>
<line x1="368.11" y1="315.5" x2="368.11" y2="316.7" stroke="#555" stroke-width="0.5"/>
<line x1="369.298" y1="315.5" x2="369.298" y2="316.7" stroke="#555" stroke-width="0.5"/>
<line x1="377.02" y1="315.5" x2="377.02" y2="316.7" stroke="#555" stroke-width="0.5"/>
<line x1="379.396" y1="315.5" x2="379.396" y2="316.7" stroke="#555" stroke-width="0.5"/>
<line x1="381.178" y1="315.5" x2="381.178" y2="316.7" stroke="#555" stroke-width="0.5"/>
<line x1="385.93" y1="315.5" x2="385.93" y2="316.7" stroke="#555" stroke-width="0.5"/>
<line x1="388.9" y1="315.5" x2="388.9" y2="316.7" stroke="#555" stroke-width="0.5"/>
<line x1="391.87" y1="315.5" x2="391.87" y2="316.7" stroke="#555" stroke-width="0.5"/>
<line x1="393.652" y1="315.5" x2="393.652" y2="316.7" stroke="#555" stroke-width="0.5"/>
<line x1="396.028" y1="315.5" x2="396.028" y2="316.7" stroke="#555" stroke-width="0.5"/>
<line x1="397.216" y1="315.5" x2="397.216" y2="316.7" stroke="#555" stroke-width="0.5"/>
<line x1="403.75" y1="315.5" x2="403.75" y2="316.7" stroke="#555" stroke-width="0.5"/>
<line x1="406.12600000000003" y1="315.5" x2="406.12600000000003" y2="316.7" stroke="#555" stroke-width="0.5"/>
<line x1="407.908" y1="315.5" x2="407.908" y2="316.7" stroke="#555" stroke-width="0.5"/>
<line x1="409.69" y1="315.5" x2="409.69" y2="316.7" stroke="#555" stroke-width="0.5"/>
<line x1="415.63" y1="315.5" x2="415.63" y2="316.7" stroke="#555" stroke-width="0.5"/>
<line x1="417.41200000000003" y1="315.5" x2="417.41200000000003" y2="316.7" stroke="#555" stroke-width="0.5"/>
<rect x="371.7473684210526" y="315.5" width="2" height="2" fill="#231f20"/>
<text x="274.8" y="286.3" font-size="8.5" text-anchor="middle" fill="#231f20" stroke="#231f20" stroke-width="0.12" textLength="23.8" lengthAdjust="spacingAndGlyphs" transform="rotate(-90 274.8 286.3)">CD11b</text>
<text x="355.75" y="338.1" font-size="8.4" text-anchor="middle" fill="#231f20" stroke="#231f20" stroke-width="0.12" textLength="22.8" lengthAdjust="spacingAndGlyphs">CD66a</text>
<text x="300.9" y="268.3" font-size="7.0" text-anchor="start" fill="#231f20" stroke="#231f20" stroke-width="0.12" textLength="14.8" lengthAdjust="spacingAndGlyphs">8.0%</text>
<text x="365.7" y="268.3" font-size="7.0" text-anchor="start" fill="#231f20" stroke="#231f20" stroke-width="0.12" textLength="18.7" lengthAdjust="spacingAndGlyphs">67.4%</text>
<path d="M328.5,284 C331,280.5 335,277 338.5,275.3 C339.8,275 339.5,276.5 338,278 C335,281 332,283.5 329.5,285.5 Z" fill="#f2f2f2" stroke="#aaa" stroke-width="0.5"/>
<g><path d="M330,281.5 C333,281 333,284 330.5,288 C328,292.5 327,298 323.5,301.5 C321,303 318,302 318,298.5 C318,294 321,288 325,284 C326.8,282.5 328.5,281.6 330,281.5 Z" transform="translate(325.5 289) scale(1.000) translate(-325.5 -289)" fill="rgb(215,215,215)" stroke="rgb(165,165,165)" stroke-width="0.5" vector-effect="non-scaling-stroke"/><path d="M330,281.5 C333,281 333,284 330.5,288 C328,292.5 327,298 323.5,301.5 C321,303 318,302 318,298.5 C318,294 321,288 325,284 C326.8,282.5 328.5,281.6 330,281.5 Z" transform="translate(325.5 289) scale(0.858) translate(-325.5 -289)" fill="rgb(192,192,192)" stroke="rgb(142,142,142)" stroke-width="0.5" vector-effect="non-scaling-stroke"/><path d="M330,281.5 C333,281 333,284 330.5,288 C328,292.5 327,298 323.5,301.5 C321,303 318,302 318,298.5 C318,294 321,288 325,284 C326.8,282.5 328.5,281.6 330,281.5 Z" transform="translate(325.5 289) scale(0.717) translate(-325.5 -289)" fill="rgb(168,168,168)" stroke="rgb(118,118,118)" stroke-width="0.5" vector-effect="non-scaling-stroke"/><path d="M330,281.5 C333,281 333,284 330.5,288 C328,292.5 327,298 323.5,301.5 C321,303 318,302 318,298.5 C318,294 321,288 325,284 C326.8,282.5 328.5,281.6 330,281.5 Z" transform="translate(325.5 289) scale(0.575) translate(-325.5 -289)" fill="rgb(145,145,145)" stroke="rgb(95,95,95)" stroke-width="0.5" vector-effect="non-scaling-stroke"/><path d="M330,281.5 C333,281 333,284 330.5,288 C328,292.5 327,298 323.5,301.5 C321,303 318,302 318,298.5 C318,294 321,288 325,284 C326.8,282.5 328.5,281.6 330,281.5 Z" transform="translate(325.5 289) scale(0.433) translate(-325.5 -289)" fill="rgb(122,122,122)" stroke="rgb(72,72,72)" stroke-width="0.5" vector-effect="non-scaling-stroke"/><path d="M330,281.5 C333,281 333,284 330.5,288 C328,292.5 327,298 323.5,301.5 C321,303 318,302 318,298.5 C318,294 321,288 325,284 C326.8,282.5 328.5,281.6 330,281.5 Z" transform="translate(325.5 289) scale(0.292) translate(-325.5 -289)" fill="rgb(98,98,98)" stroke="rgb(48,48,48)" stroke-width="0.5" vector-effect="non-scaling-stroke"/><path d="M330,281.5 C333,281 333,284 330.5,288 C328,292.5 327,298 323.5,301.5 C321,303 318,302 318,298.5 C318,294 321,288 325,284 C326.8,282.5 328.5,281.6 330,281.5 Z" transform="translate(325.5 289) scale(0.150) translate(-325.5 -289)" fill="rgb(75,75,75)" stroke="rgb(25,25,25)" stroke-width="0.5" vector-effect="non-scaling-stroke"/></g>
<path d="M329,285 C327,289 325.5,293 324,297" fill="none" stroke="#ddd" stroke-width="0.6"/>
<polygon points="327.4,280.3 330.4,271.2 343.3,260.2 352.0,261.3 346.3,280.7 338.4,284.5" fill="none" stroke="#444" stroke-width="0.75" stroke-linejoin="round"/>
<g><path d="M396,279 C399,281 397,286 394,291 C391.5,295.5 389,299.5 386,299 C383.5,298.5 384.5,294 386.5,289.5 C388.5,285 391.5,279.5 396,279 Z" transform="translate(392 287) scale(1.000) translate(-392 -287)" fill="rgb(222,222,222)" stroke="rgb(162,162,162)" stroke-width="0.5" vector-effect="non-scaling-stroke"/><path d="M396,279 C399,281 397,286 394,291 C391.5,295.5 389,299.5 386,299 C383.5,298.5 384.5,294 386.5,289.5 C388.5,285 391.5,279.5 396,279 Z" transform="translate(392 287) scale(0.812) translate(-392 -287)" fill="rgb(209,209,209)" stroke="rgb(149,149,149)" stroke-width="0.5" vector-effect="non-scaling-stroke"/><path d="M396,279 C399,281 397,286 394,291 C391.5,295.5 389,299.5 386,299 C383.5,298.5 384.5,294 386.5,289.5 C388.5,285 391.5,279.5 396,279 Z" transform="translate(392 287) scale(0.625) translate(-392 -287)" fill="rgb(196,196,196)" stroke="rgb(136,136,136)" stroke-width="0.5" vector-effect="non-scaling-stroke"/><path d="M396,279 C399,281 397,286 394,291 C391.5,295.5 389,299.5 386,299 C383.5,298.5 384.5,294 386.5,289.5 C388.5,285 391.5,279.5 396,279 Z" transform="translate(392 287) scale(0.438) translate(-392 -287)" fill="rgb(183,183,183)" stroke="rgb(123,123,123)" stroke-width="0.5" vector-effect="non-scaling-stroke"/><path d="M396,279 C399,281 397,286 394,291 C391.5,295.5 389,299.5 386,299 C383.5,298.5 384.5,294 386.5,289.5 C388.5,285 391.5,279.5 396,279 Z" transform="translate(392 287) scale(0.250) translate(-392 -287)" fill="rgb(170,170,170)" stroke="rgb(110,110,110)" stroke-width="0.5" vector-effect="non-scaling-stroke"/></g>
<g><path d="M410.81,269.95 L411.28,271.14 L411.22,272.59 L410.64,274.21 L409.59,275.88 L408.13,277.49 L406.35,278.93 L404.39,280.10 L402.38,280.93 L400.45,281.35 L398.73,281.34 L397.35,280.89 L396.39,280.05 L395.92,278.86 L395.98,277.41 L396.56,275.79 L397.61,274.12 L399.07,272.51 L400.85,271.07 L402.81,269.90 L404.82,269.07 L406.75,268.65 L408.47,268.66 L409.85,269.11 Z" transform="translate(402.8 275.6) scale(1.000) translate(-402.8 -275.6)" fill="rgb(200,200,200)" stroke="rgb(150,150,150)" stroke-width="0.5" vector-effect="non-scaling-stroke"/><path d="M410.81,269.95 L411.28,271.14 L411.22,272.59 L410.64,274.21 L409.59,275.88 L408.13,277.49 L406.35,278.93 L404.39,280.10 L402.38,280.93 L400.45,281.35 L398.73,281.34 L397.35,280.89 L396.39,280.05 L395.92,278.86 L395.98,277.41 L396.56,275.79 L397.61,274.12 L399.07,272.51 L400.85,271.07 L402.81,269.90 L404.82,269.07 L406.75,268.65 L408.47,268.66 L409.85,269.11 Z" transform="translate(402.8 275.6) scale(0.840) translate(-402.8 -275.6)" fill="rgb(179,179,179)" stroke="rgb(129,129,129)" stroke-width="0.5" vector-effect="non-scaling-stroke"/><path d="M410.81,269.95 L411.28,271.14 L411.22,272.59 L410.64,274.21 L409.59,275.88 L408.13,277.49 L406.35,278.93 L404.39,280.10 L402.38,280.93 L400.45,281.35 L398.73,281.34 L397.35,280.89 L396.39,280.05 L395.92,278.86 L395.98,277.41 L396.56,275.79 L397.61,274.12 L399.07,272.51 L400.85,271.07 L402.81,269.90 L404.82,269.07 L406.75,268.65 L408.47,268.66 L409.85,269.11 Z" transform="translate(402.8 275.6) scale(0.680) translate(-402.8 -275.6)" fill="rgb(158,158,158)" stroke="rgb(108,108,108)" stroke-width="0.5" vector-effect="non-scaling-stroke"/><path d="M410.81,269.95 L411.28,271.14 L411.22,272.59 L410.64,274.21 L409.59,275.88 L408.13,277.49 L406.35,278.93 L404.39,280.10 L402.38,280.93 L400.45,281.35 L398.73,281.34 L397.35,280.89 L396.39,280.05 L395.92,278.86 L395.98,277.41 L396.56,275.79 L397.61,274.12 L399.07,272.51 L400.85,271.07 L402.81,269.90 L404.82,269.07 L406.75,268.65 L408.47,268.66 L409.85,269.11 Z" transform="translate(402.8 275.6) scale(0.520) translate(-402.8 -275.6)" fill="rgb(137,137,137)" stroke="rgb(87,87,87)" stroke-width="0.5" vector-effect="non-scaling-stroke"/><path d="M410.81,269.95 L411.28,271.14 L411.22,272.59 L410.64,274.21 L409.59,275.88 L408.13,277.49 L406.35,278.93 L404.39,280.10 L402.38,280.93 L400.45,281.35 L398.73,281.34 L397.35,280.89 L396.39,280.05 L395.92,278.86 L395.98,277.41 L396.56,275.79 L397.61,274.12 L399.07,272.51 L400.85,271.07 L402.81,269.90 L404.82,269.07 L406.75,268.65 L408.47,268.66 L409.85,269.11 Z" transform="translate(402.8 275.6) scale(0.360) translate(-402.8 -275.6)" fill="rgb(116,116,116)" stroke="rgb(66,66,66)" stroke-width="0.5" vector-effect="non-scaling-stroke"/><path d="M410.81,269.95 L411.28,271.14 L411.22,272.59 L410.64,274.21 L409.59,275.88 L408.13,277.49 L406.35,278.93 L404.39,280.10 L402.38,280.93 L400.45,281.35 L398.73,281.34 L397.35,280.89 L396.39,280.05 L395.92,278.86 L395.98,277.41 L396.56,275.79 L397.61,274.12 L399.07,272.51 L400.85,271.07 L402.81,269.90 L404.82,269.07 L406.75,268.65 L408.47,268.66 L409.85,269.11 Z" transform="translate(402.8 275.6) scale(0.200) translate(-402.8 -275.6)" fill="rgb(95,95,95)" stroke="rgb(45,45,45)" stroke-width="0.5" vector-effect="non-scaling-stroke"/></g>
<path d="M400.5,277.8 L404.5,274.8" stroke="#eee" stroke-width="0.9"/>
<polygon points="393.2,280.4 395.7,271.2 408.6,260.2 417.7,261.7 412.0,280.7 404.0,284.1" fill="none" stroke="#444" stroke-width="0.75" stroke-linejoin="round"/>
<text x="435.9" y="275.5" font-size="8.7" text-anchor="middle" fill="#231f20" stroke="#231f20" stroke-width="0.12" textLength="34" lengthAdjust="spacingAndGlyphs" transform="rotate(-90 435.9 275.5)">% pPMN</text>
<line x1="460.4" y1="233.9" x2="460.4" y2="315.9" stroke="#231f20" stroke-width="1.1"/>
<line x1="459.9" y1="315.4" x2="512.9" y2="315.4" stroke="#231f20" stroke-width="1.1"/>
<line x1="457.79999999999995" y1="315.4" x2="460.4" y2="315.4" stroke="#231f20" stroke-width="1"/>
<text x="454.9" y="318.15" font-size="7.7" text-anchor="end" fill="#231f20" stroke="#231f20" stroke-width="0.12" textLength="4.07" lengthAdjust="spacingAndGlyphs">0</text>
<line x1="457.79999999999995" y1="299.7" x2="460.4" y2="299.7" stroke="#231f20" stroke-width="1"/>
<text x="454.9" y="302.45" font-size="7.7" text-anchor="end" fill="#231f20" stroke="#231f20" stroke-width="0.12" textLength="8.14" lengthAdjust="spacingAndGlyphs">20</text>
<line x1="457.79999999999995" y1="284.0" x2="460.4" y2="284.0" stroke="#231f20" stroke-width="1"/>
<text x="454.9" y="286.75" font-size="7.7" text-anchor="end" fill="#231f20" stroke="#231f20" stroke-width="0.12" textLength="8.14" lengthAdjust="spacingAndGlyphs">40</text>
<line x1="457.79999999999995" y1="268.3" x2="460.4" y2="268.3" stroke="#231f20" stroke-width="1"/>
<text x="454.9" y="271.05" font-size="7.7" text-anchor="end" fill="#231f20" stroke="#231f20" stroke-width="0.12" textLength="8.14" lengthAdjust="spacingAndGlyphs">60</text>
<line x1="457.79999999999995" y1="252.6" x2="460.4" y2="252.6" stroke="#231f20" stroke-width="1"/>
<text x="454.9" y="255.35" font-size="7.7" text-anchor="end" fill="#231f20" stroke="#231f20" stroke-width="0.12" textLength="8.14" lengthAdjust="spacingAndGlyphs">80</text>
<line x1="457.79999999999995" y1="236.9" x2="460.4" y2="236.9" stroke="#231f20" stroke-width="1"/>
<text x="454.9" y="239.65" font-size="7.7" text-anchor="end" fill="#231f20" stroke="#231f20" stroke-width="0.12" textLength="12.21" lengthAdjust="spacingAndGlyphs">100</text>
<line x1="472.9" y1="315.4" x2="472.9" y2="318.0" stroke="#231f20" stroke-width="1"/>
<text x="472.9" y="328.0" font-size="7.8" text-anchor="middle" fill="#231f20" stroke="#231f20" stroke-width="0.12" textLength="8.87" lengthAdjust="spacingAndGlyphs">Ctl</text>
<polygon points="469.16,301.27 472.76,301.27 470.96,297.96" fill="#a41c30"/>
<polygon points="473.97,303.58 477.57,303.58 475.77,300.27" fill="#a41c30"/>
<polygon points="465.89,311.27 469.49,311.27 467.69,307.96" fill="#a41c30"/>
<polygon points="469.16,312.23 472.76,312.23 470.96,308.92" fill="#a41c30"/>
<polygon points="473.97,311.27 477.57,311.27 475.77,307.96" fill="#a41c30"/>
<polygon points="475.89,312.23 479.49,312.23 477.69,308.92" fill="#a41c30"/>
<polygon points="467.24,312.62 470.84,312.62 469.04,309.31" fill="#a41c30"/>
<polygon points="471.66,312.62 475.26,312.62 473.46,309.31" fill="#a41c30"/>
<line x1="464.25" y1="307.54999999999995" x2="481.54999999999995" y2="307.54999999999995" stroke="#262626" stroke-width="1.0"/>
<line x1="472.9" y1="302.84" x2="472.9" y2="312.26" stroke="#262626" stroke-width="1.0"/>
<line x1="468.75" y1="302.84" x2="477.04999999999995" y2="302.84" stroke="#262626" stroke-width="1.0"/>
<line x1="468.75" y1="312.26" x2="477.04999999999995" y2="312.26" stroke="#262626" stroke-width="1.0"/>
<line x1="499.8" y1="315.4" x2="499.8" y2="318.0" stroke="#231f20" stroke-width="1"/>
<text x="499.8" y="328.0" font-size="7.8" text-anchor="middle" fill="#231f20" stroke="#231f20" stroke-width="0.12" textLength="17.07" lengthAdjust="spacingAndGlyphs">Ly6G</text>
<polygon points="495.70,241.08 499.30,241.08 497.50,237.77" fill="#a41c30"/>
<polygon points="502.24,241.08 505.84,241.08 504.04,237.77" fill="#a41c30"/>
<polygon points="495.70,245.89 499.30,245.89 497.50,242.57" fill="#a41c30"/>
<polygon points="500.89,245.50 504.49,245.50 502.69,242.19" fill="#a41c30"/>
<polygon points="493.20,257.81 496.80,257.81 495.00,254.50" fill="#a41c30"/>
<polygon points="498.01,256.85 501.61,256.85 499.81,253.54" fill="#a41c30"/>
<polygon points="502.43,258.39 506.03,258.39 504.23,255.07" fill="#a41c30"/>
<polygon points="498.01,261.85 501.61,261.85 499.81,258.54" fill="#a41c30"/>
<polygon points="495.70,271.27 499.30,271.27 497.50,267.96" fill="#a41c30"/>
<polygon points="500.51,271.27 504.11,271.27 502.31,267.96" fill="#a41c30"/>
<polygon points="495.51,289.54 499.11,289.54 497.31,286.23" fill="#a41c30"/>
<polygon points="500.51,289.54 504.11,289.54 502.31,286.23" fill="#a41c30"/>
<line x1="491.0" y1="258.88" x2="508.6" y2="258.88" stroke="#262626" stroke-width="1.0"/>
<line x1="499.8" y1="242.0025" x2="499.8" y2="275.7575" stroke="#262626" stroke-width="1.0"/>
<line x1="495.3" y1="242.0025" x2="504.3" y2="242.0025" stroke="#262626" stroke-width="1.0"/>
<line x1="495.3" y1="275.7575" x2="504.3" y2="275.7575" stroke="#262626" stroke-width="1.0"/>
<circle cx="483.62" cy="230.3" r="1.0" fill="#333"/>
<circle cx="486.68" cy="230.3" r="1.0" fill="#333"/>
<circle cx="489.73" cy="230.3" r="1.0" fill="#333"/>
<circle cx="492.77" cy="230.3" r="1.0" fill="#333"/>
<rect x="37.7" y="360.4" width="56.7" height="56.30000000000001" fill="none" stroke="#333" stroke-width="1.05"/>
<line x1="35.7" y1="363.0" x2="37.7" y2="363.0" stroke="#231f20" stroke-width="0.8"/>
<text x="34.300000000000004" y="365.1" font-size="5.9" text-anchor="end" fill="#231f20" stroke="#231f20" stroke-width="0.12" textLength="13.37" lengthAdjust="spacingAndGlyphs">250K</text>
<line x1="35.7" y1="373.65" x2="37.7" y2="373.65" stroke="#231f20" stroke-width="0.8"/>
<text x="34.300000000000004" y="375.75" font-size="5.9" text-anchor="end" fill="#231f20" stroke="#231f20" stroke-width="0.12" textLength="13.37" lengthAdjust="spacingAndGlyphs">200K</text>
<line x1="35.7" y1="384.3" x2="37.7" y2="384.3" stroke="#231f20" stroke-width="0.8"/>
<text x="34.300000000000004" y="386.40000000000003" font-size="5.9" text-anchor="end" fill="#231f20" stroke="#231f20" stroke-width="0.12" textLength="13.37" lengthAdjust="spacingAndGlyphs">150K</text>
<line x1="35.7" y1="394.95" x2="37.7" y2="394.95" stroke="#231f20" stroke-width="0.8"/>
<text x="34.300000000000004" y="397.05" font-size="5.9" text-anchor="end" fill="#231f20" stroke="#231f20" stroke-width="0.12" textLength="13.37" lengthAdjust="spacingAndGlyphs">100K</text>
<line x1="35.7" y1="405.59999999999997" x2="37.7" y2="405.59999999999997" stroke="#231f20" stroke-width="0.8"/>
<text x="34.300000000000004" y="407.7" font-size="5.9" text-anchor="end" fill="#231f20" stroke="#231f20" stroke-width="0.12" textLength="10.18" lengthAdjust="spacingAndGlyphs">50K</text>
<line x1="35.7" y1="416.25" x2="37.7" y2="416.25" stroke="#231f20" stroke-width="0.8"/>
<text x="34.300000000000004" y="418.35" font-size="5.9" text-anchor="end" fill="#231f20" stroke="#231f20" stroke-width="0.12" textLength="3.18" lengthAdjust="spacingAndGlyphs">0</text>
<line x1="40.98263157894737" y1="416.7" x2="40.98263157894737" y2="418.7" stroke="#231f20" stroke-width="0.8"/>
<text x="41.58263157894737" y="428.0" font-size="5.9" text-anchor="middle" fill="#231f20" stroke="#231f20" stroke-width="0.1">-10<tspan font-size="3.8" dy="-2.5">3</tspan></text>
<line x1="50.631578947368425" y1="416.7" x2="50.631578947368425" y2="418.7" stroke="#231f20" stroke-width="0.8"/>
<text x="50.631578947368425" y="428.0" font-size="5.9" text-anchor="middle" fill="#231f20" stroke="#231f20" stroke-width="0.12">0</text>
<line x1="59.88263157894737" y1="416.7" x2="59.88263157894737" y2="418.7" stroke="#231f20" stroke-width="0.8"/>
<text x="60.48263157894737" y="428.0" font-size="5.9" text-anchor="middle" fill="#231f20" stroke="#231f20" stroke-width="0.1">10<tspan font-size="3.8" dy="-2.5">3</tspan></text>
<line x1="76.69368421052633" y1="416.7" x2="76.69368421052633" y2="418.7" stroke="#231f20" stroke-width="0.8"/>
<text x="77.29368421052632" y="428.0" font-size="5.9" text-anchor="middle" fill="#231f20" stroke="#231f20" stroke-width="0.1">10<tspan font-size="3.8" dy="-2.5">4</tspan></text>
<line x1="88.92894736842106" y1="416.7" x2="88.92894736842106" y2="418.7" stroke="#231f20" stroke-width="0.8"/>
<text x="89.52894736842106" y="428.0" font-size="5.9" text-anchor="middle" fill="#231f20" stroke="#231f20" stroke-width="0.1">10<tspan font-size="3.8" dy="-2.5">5</tspan></text>
<line x1="42.236000000000004" y1="416.7" x2="42.236000000000004" y2="417.9" stroke="#555" stroke-width="0.5"/>
<line x1="44.504000000000005" y1="416.7" x2="44.504000000000005" y2="417.9" stroke="#555" stroke-width="0.5"/>
<line x1="46.205000000000005" y1="416.7" x2="46.205000000000005" y2="417.9" stroke="#555" stroke-width="0.5"/>
<line x1="47.339000000000006" y1="416.7" x2="47.339000000000006" y2="417.9" stroke="#555" stroke-width="0.5"/>
<line x1="54.71000000000001" y1="416.7" x2="54.71000000000001" y2="417.9" stroke="#555" stroke-width="0.5"/>
<line x1="56.97800000000001" y1="416.7" x2="56.97800000000001" y2="417.9" stroke="#555" stroke-width="0.5"/>
<line x1="58.679" y1="416.7" x2="58.679" y2="417.9" stroke="#555" stroke-width="0.5"/>
<line x1="63.215" y1="416.7" x2="63.215" y2="417.9" stroke="#555" stroke-width="0.5"/>
<line x1="66.05000000000001" y1="416.7" x2="66.05000000000001" y2="417.9" stroke="#555" stroke-width="0.5"/>
<line x1="68.885" y1="416.7" x2="68.885" y2="417.9" stroke="#555" stroke-width="0.5"/>
<line x1="70.58600000000001" y1="416.7" x2="70.58600000000001" y2="417.9" stroke="#555" stroke-width="0.5"/>
<line x1="72.85400000000001" y1="416.7" x2="72.85400000000001" y2="417.9" stroke="#555" stroke-width="0.5"/>
<line x1="73.988" y1="416.7" x2="73.988" y2="417.9" stroke="#555" stroke-width="0.5"/>
<line x1="80.22500000000001" y1="416.7" x2="80.22500000000001" y2="417.9" stroke="#555" stroke-width="0.5"/>
<line x1="82.49300000000001" y1="416.7" x2="82.49300000000001" y2="417.9" stroke="#555" stroke-width="0.5"/>
<line x1="84.194" y1="416.7" x2="84.194" y2="417.9" stroke="#555" stroke-width="0.5"/>
<line x1="85.89500000000001" y1="416.7" x2="85.89500000000001" y2="417.9" stroke="#555" stroke-width="0.5"/>
<line x1="91.565" y1="416.7" x2="91.565" y2="417.9" stroke="#555" stroke-width="0.5"/>
<line x1="93.266" y1="416.7" x2="93.266" y2="417.9" stroke="#555" stroke-width="0.5"/>
<rect x="49.631578947368425" y="416.7" width="2" height="2" fill="#231f20"/>
<rect x="101.1" y="360.4" width="56.30000000000001" height="56.30000000000001" fill="none" stroke="#333" stroke-width="1.05"/>
<line x1="99.1" y1="363.0" x2="101.1" y2="363.0" stroke="#231f20" stroke-width="0.8"/>
<line x1="99.1" y1="373.65" x2="101.1" y2="373.65" stroke="#231f20" stroke-width="0.8"/>
<line x1="99.1" y1="384.3" x2="101.1" y2="384.3" stroke="#231f20" stroke-width="0.8"/>
<line x1="99.1" y1="394.95" x2="101.1" y2="394.95" stroke="#231f20" stroke-width="0.8"/>
<line x1="99.1" y1="405.59999999999997" x2="101.1" y2="405.59999999999997" stroke="#231f20" stroke-width="0.8"/>
<line x1="99.1" y1="416.25" x2="101.1" y2="416.25" stroke="#231f20" stroke-width="0.8"/>
<line x1="104.35947368421053" y1="416.7" x2="104.35947368421053" y2="418.7" stroke="#231f20" stroke-width="0.8"/>
<text x="104.95947368421052" y="428.0" font-size="5.9" text-anchor="middle" fill="#231f20" stroke="#231f20" stroke-width="0.1">-10<tspan font-size="3.8" dy="-2.5">3</tspan></text>
<line x1="113.94035087719298" y1="416.7" x2="113.94035087719298" y2="418.7" stroke="#231f20" stroke-width="0.8"/>
<text x="113.94035087719298" y="428.0" font-size="5.9" text-anchor="middle" fill="#231f20" stroke="#231f20" stroke-width="0.12">0</text>
<line x1="123.1261403508772" y1="416.7" x2="123.1261403508772" y2="418.7" stroke="#231f20" stroke-width="0.8"/>
<text x="123.72614035087719" y="428.0" font-size="5.9" text-anchor="middle" fill="#231f20" stroke="#231f20" stroke-width="0.1">10<tspan font-size="3.8" dy="-2.5">3</tspan></text>
<line x1="139.81859649122808" y1="416.7" x2="139.81859649122808" y2="418.7" stroke="#231f20" stroke-width="0.8"/>
<text x="140.41859649122807" y="428.0" font-size="5.9" text-anchor="middle" fill="#231f20" stroke="#231f20" stroke-width="0.1">10<tspan font-size="3.8" dy="-2.5">4</tspan></text>
<line x1="151.96754385964914" y1="416.7" x2="151.96754385964914" y2="418.7" stroke="#231f20" stroke-width="0.8"/>
<text x="152.56754385964913" y="428.0" font-size="5.9" text-anchor="middle" fill="#231f20" stroke="#231f20" stroke-width="0.1">10<tspan font-size="3.8" dy="-2.5">5</tspan></text>
<line x1="105.604" y1="416.7" x2="105.604" y2="417.9" stroke="#555" stroke-width="0.5"/>
<line x1="107.856" y1="416.7" x2="107.856" y2="417.9" stroke="#555" stroke-width="0.5"/>
<line x1="109.545" y1="416.7" x2="109.545" y2="417.9" stroke="#555" stroke-width="0.5"/>
<line x1="110.67099999999999" y1="416.7" x2="110.67099999999999" y2="417.9" stroke="#555" stroke-width="0.5"/>
<line x1="117.99" y1="416.7" x2="117.99" y2="417.9" stroke="#555" stroke-width="0.5"/>
<line x1="120.242" y1="416.7" x2="120.242" y2="417.9" stroke="#555" stroke-width="0.5"/>
<line x1="121.931" y1="416.7" x2="121.931" y2="417.9" stroke="#555" stroke-width="0.5"/>
<line x1="126.435" y1="416.7" x2="126.435" y2="417.9" stroke="#555" stroke-width="0.5"/>
<line x1="129.25" y1="416.7" x2="129.25" y2="417.9" stroke="#555" stroke-width="0.5"/>
<line x1="132.065" y1="416.7" x2="132.065" y2="417.9" stroke="#555" stroke-width="0.5"/>
<line x1="133.754" y1="416.7" x2="133.754" y2="417.9" stroke="#555" stroke-width="0.5"/>
<line x1="136.006" y1="416.7" x2="136.006" y2="417.9" stroke="#555" stroke-width="0.5"/>
<line x1="137.132" y1="416.7" x2="137.132" y2="417.9" stroke="#555" stroke-width="0.5"/>
<line x1="143.325" y1="416.7" x2="143.325" y2="417.9" stroke="#555" stroke-width="0.5"/>
<line x1="145.577" y1="416.7" x2="145.577" y2="417.9" stroke="#555" stroke-width="0.5"/>
<line x1="147.266" y1="416.7" x2="147.266" y2="417.9" stroke="#555" stroke-width="0.5"/>
<line x1="148.955" y1="416.7" x2="148.955" y2="417.9" stroke="#555" stroke-width="0.5"/>
<line x1="154.585" y1="416.7" x2="154.585" y2="417.9" stroke="#555" stroke-width="0.5"/>
<line x1="156.274" y1="416.7" x2="156.274" y2="417.9" stroke="#555" stroke-width="0.5"/>
<rect x="112.94035087719298" y="416.7" width="2" height="2" fill="#231f20"/>
<text x="12.8" y="388.7" font-size="8.4" text-anchor="middle" fill="#231f20" stroke="#231f20" stroke-width="0.12" textLength="20.6" lengthAdjust="spacingAndGlyphs" transform="rotate(-90 12.8 388.7)">SSC-A</text>
<text x="97.9" y="440.3" font-size="8.4" text-anchor="middle" fill="#231f20" stroke="#231f20" stroke-width="0.12" textLength="19.7" lengthAdjust="spacingAndGlyphs">CD16</text>
<text x="49.1" y="368.7" font-size="7.0" text-anchor="start" fill="#231f20" stroke="#231f20" stroke-width="0.12" textLength="13.1" lengthAdjust="spacingAndGlyphs">21%</text>
<text x="106.3" y="368.7" font-size="7.0" text-anchor="start" fill="#231f20" stroke="#231f20" stroke-width="0.12" textLength="14.4" lengthAdjust="spacingAndGlyphs">61%</text>
<g><path d="M55.30,385.30 L55.17,386.78 L54.80,388.15 L54.22,389.33 L53.45,390.24 L52.56,390.81 L51.60,391.00 L50.64,390.81 L49.75,390.24 L48.98,389.33 L48.40,388.15 L48.03,386.78 L47.90,385.30 L48.03,383.82 L48.40,382.45 L48.98,381.27 L49.75,380.36 L50.64,379.79 L51.60,379.60 L52.56,379.79 L53.45,380.36 L54.22,381.27 L54.80,382.45 L55.17,383.82 Z" transform="translate(51.6 385.6) scale(1.000) translate(-51.6 -385.6)" fill="rgb(238,238,238)" stroke="rgb(128,128,128)" stroke-width="0.5" vector-effect="non-scaling-stroke"/><path d="M55.30,385.30 L55.17,386.78 L54.80,388.15 L54.22,389.33 L53.45,390.24 L52.56,390.81 L51.60,391.00 L50.64,390.81 L49.75,390.24 L48.98,389.33 L48.40,388.15 L48.03,386.78 L47.90,385.30 L48.03,383.82 L48.40,382.45 L48.98,381.27 L49.75,380.36 L50.64,379.79 L51.60,379.60 L52.56,379.79 L53.45,380.36 L54.22,381.27 L54.80,382.45 L55.17,383.82 Z" transform="translate(51.6 385.6) scale(0.750) translate(-51.6 -385.6)" fill="rgb(237,237,237)" stroke="rgb(127,127,127)" stroke-width="0.5" vector-effect="non-scaling-stroke"/><path d="M55.30,385.30 L55.17,386.78 L54.80,388.15 L54.22,389.33 L53.45,390.24 L52.56,390.81 L51.60,391.00 L50.64,390.81 L49.75,390.24 L48.98,389.33 L48.40,388.15 L48.03,386.78 L47.90,385.30 L48.03,383.82 L48.40,382.45 L48.98,381.27 L49.75,380.36 L50.64,379.79 L51.60,379.60 L52.56,379.79 L53.45,380.36 L54.22,381.27 L54.80,382.45 L55.17,383.82 Z" transform="translate(51.6 385.6) scale(0.500) translate(-51.6 -385.6)" fill="rgb(236,236,236)" stroke="rgb(126,126,126)" stroke-width="0.5" vector-effect="non-scaling-stroke"/><path d="M55.30,385.30 L55.17,386.78 L54.80,388.15 L54.22,389.33 L53.45,390.24 L52.56,390.81 L51.60,391.00 L50.64,390.81 L49.75,390.24 L48.98,389.33 L48.40,388.15 L48.03,386.78 L47.90,385.30 L48.03,383.82 L48.40,382.45 L48.98,381.27 L49.75,380.36 L50.64,379.79 L51.60,379.60 L52.56,379.79 L53.45,380.36 L54.22,381.27 L54.80,382.45 L55.17,383.82 Z" transform="translate(51.6 385.6) scale(0.250) translate(-51.6 -385.6)" fill="rgb(235,235,235)" stroke="rgb(125,125,125)" stroke-width="0.5" vector-effect="non-scaling-stroke"/></g>
<g><path d="M79.00,392.54 L78.75,395.72 L78.25,398.67 L77.52,401.19 L76.63,403.12 L75.62,404.31 L74.57,404.69 L73.55,404.24 L72.63,402.98 L71.87,400.99 L71.32,398.43 L71.03,395.45 L71.00,392.26 L71.25,389.08 L71.75,386.13 L72.48,383.61 L73.37,381.68 L74.38,380.49 L75.43,380.11 L76.45,380.56 L77.37,381.82 L78.13,383.81 L78.68,386.37 L78.97,389.35 Z" transform="translate(75.3 393.5) scale(1.000) translate(-75.3 -393.5)" fill="rgb(190,190,190)" stroke="rgb(145,145,145)" stroke-width="0.5" vector-effect="non-scaling-stroke"/><path d="M79.00,392.54 L78.75,395.72 L78.25,398.67 L77.52,401.19 L76.63,403.12 L75.62,404.31 L74.57,404.69 L73.55,404.24 L72.63,402.98 L71.87,400.99 L71.32,398.43 L71.03,395.45 L71.00,392.26 L71.25,389.08 L71.75,386.13 L72.48,383.61 L73.37,381.68 L74.38,380.49 L75.43,380.11 L76.45,380.56 L77.37,381.82 L78.13,383.81 L78.68,386.37 L78.97,389.35 Z" transform="translate(75.3 393.5) scale(0.867) translate(-75.3 -393.5)" fill="rgb(165,165,165)" stroke="rgb(120,120,120)" stroke-width="0.5" vector-effect="non-scaling-stroke"/><path d="M79.00,392.54 L78.75,395.72 L78.25,398.67 L77.52,401.19 L76.63,403.12 L75.62,404.31 L74.57,404.69 L73.55,404.24 L72.63,402.98 L71.87,400.99 L71.32,398.43 L71.03,395.45 L71.00,392.26 L71.25,389.08 L71.75,386.13 L72.48,383.61 L73.37,381.68 L74.38,380.49 L75.43,380.11 L76.45,380.56 L77.37,381.82 L78.13,383.81 L78.68,386.37 L78.97,389.35 Z" transform="translate(75.3 393.5) scale(0.733) translate(-75.3 -393.5)" fill="rgb(140,140,140)" stroke="rgb(95,95,95)" stroke-width="0.5" vector-effect="non-scaling-stroke"/><path d="M79.00,392.54 L78.75,395.72 L78.25,398.67 L77.52,401.19 L76.63,403.12 L75.62,404.31 L74.57,404.69 L73.55,404.24 L72.63,402.98 L71.87,400.99 L71.32,398.43 L71.03,395.45 L71.00,392.26 L71.25,389.08 L71.75,386.13 L72.48,383.61 L73.37,381.68 L74.38,380.49 L75.43,380.11 L76.45,380.56 L77.37,381.82 L78.13,383.81 L78.68,386.37 L78.97,389.35 Z" transform="translate(75.3 393.5) scale(0.600) translate(-75.3 -393.5)" fill="rgb(115,115,115)" stroke="rgb(70,70,70)" stroke-width="0.5" vector-effect="non-scaling-stroke"/><path d="M79.00,392.54 L78.75,395.72 L78.25,398.67 L77.52,401.19 L76.63,403.12 L75.62,404.31 L74.57,404.69 L73.55,404.24 L72.63,402.98 L71.87,400.99 L71.32,398.43 L71.03,395.45 L71.00,392.26 L71.25,389.08 L71.75,386.13 L72.48,383.61 L73.37,381.68 L74.38,380.49 L75.43,380.11 L76.45,380.56 L77.37,381.82 L78.13,383.81 L78.68,386.37 L78.97,389.35 Z" transform="translate(75.3 393.5) scale(0.467) translate(-75.3 -393.5)" fill="rgb(90,90,90)" stroke="rgb(45,45,45)" stroke-width="0.5" vector-effect="non-scaling-stroke"/><path d="M79.00,392.54 L78.75,395.72 L78.25,398.67 L77.52,401.19 L76.63,403.12 L75.62,404.31 L74.57,404.69 L73.55,404.24 L72.63,402.98 L71.87,400.99 L71.32,398.43 L71.03,395.45 L71.00,392.26 L71.25,389.08 L71.75,386.13 L72.48,383.61 L73.37,381.68 L74.38,380.49 L75.43,380.11 L76.45,380.56 L77.37,381.82 L78.13,383.81 L78.68,386.37 L78.97,389.35 Z" transform="translate(75.3 393.5) scale(0.333) translate(-75.3 -393.5)" fill="rgb(65,65,65)" stroke="rgb(20,20,20)" stroke-width="0.5" vector-effect="non-scaling-stroke"/><path d="M79.00,392.54 L78.75,395.72 L78.25,398.67 L77.52,401.19 L76.63,403.12 L75.62,404.31 L74.57,404.69 L73.55,404.24 L72.63,402.98 L71.87,400.99 L71.32,398.43 L71.03,395.45 L71.00,392.26 L71.25,389.08 L71.75,386.13 L72.48,383.61 L73.37,381.68 L74.38,380.49 L75.43,380.11 L76.45,380.56 L77.37,381.82 L78.13,383.81 L78.68,386.37 L78.97,389.35 Z" transform="translate(75.3 393.5) scale(0.200) translate(-75.3 -393.5)" fill="rgb(40,40,40)" stroke="rgb(0,0,0)" stroke-width="0.5" vector-effect="non-scaling-stroke"/></g>
<path d="M76.30,394.53 L76.21,396.21 L76.07,397.78 L75.88,399.12 L75.65,400.14 L75.41,400.78 L75.17,401.00 L74.95,400.77 L74.75,400.11 L74.60,399.07 L74.51,397.72 L74.47,396.15 L74.50,394.47 L74.59,392.79 L74.73,391.22 L74.92,389.88 L75.15,388.86 L75.39,388.22 L75.63,388.00 L75.85,388.23 L76.05,388.89 L76.20,389.93 L76.29,391.28 L76.33,392.85 Z" fill="#9a9a9a"/>
<path d="M43.5,412 C43,405 47,401 52,400.8 C57,400.6 60,403 64,404.5 C68,405.5 72,405 73.8,407 L73.8,414 C70,415.5 60,416 50,415.8 C46,415.6 43.7,414.5 43.5,412 Z" fill="#d4d4d4" stroke="#aaa" stroke-width="0.5"/>
<path d="M45.5,410 C46,404.5 50,403 54,403.2 C58,403.5 61,405.5 65,406.3 C69,407 71,407 72,408 L72,412 C66,413.5 56,414 50,413.5 C47,413 45.4,412 45.5,410 Z" fill="#c2c2c2" stroke="#999" stroke-width="0.5"/>
<path d="M47.5,413 C47,410.5 50,409.5 53,409.8 C56,410.2 58,411.4 61,411 C65,410.3 70,409.6 72.5,410.3 C73.5,411.3 73,413.6 71,414.3 C65,415.3 55,415.6 50,415.2 C48,415 47.6,414 47.5,413 Z" fill="#8a8a8a" stroke="#1e1e1e" stroke-width="1.1"/>
<path d="M50,413 C50,411.7 52,411.3 55,411.8 C58,412.3 62,412.4 66,412 C69,411.8 71,412 71,412.8 C70,413.8 62,414.2 55,414 C52,414 50,413.8 50,413 Z" fill="#555" stroke="#222" stroke-width="0.7"/>
<rect x="68.8" y="367.3" width="12.1" height="38.0" fill="none" stroke="#666" stroke-width="0.75"/>
<g><path d="M122.30,379.60 L122.13,381.33 L121.63,382.95 L120.84,384.34 L119.80,385.40 L118.59,386.07 L117.30,386.30 L116.01,386.07 L114.80,385.40 L113.76,384.34 L112.97,382.95 L112.47,381.33 L112.30,379.60 L112.47,377.87 L112.97,376.25 L113.76,374.86 L114.80,373.80 L116.01,373.13 L117.30,372.90 L118.59,373.13 L119.80,373.80 L120.84,374.86 L121.63,376.25 L122.13,377.87 Z" transform="translate(117.3 380) scale(1.000) translate(-117.3 -380)" fill="rgb(238,238,238)" stroke="rgb(143,143,143)" stroke-width="0.5" vector-effect="non-scaling-stroke"/><path d="M122.30,379.60 L122.13,381.33 L121.63,382.95 L120.84,384.34 L119.80,385.40 L118.59,386.07 L117.30,386.30 L116.01,386.07 L114.80,385.40 L113.76,384.34 L112.97,382.95 L112.47,381.33 L112.30,379.60 L112.47,377.87 L112.97,376.25 L113.76,374.86 L114.80,373.80 L116.01,373.13 L117.30,372.90 L118.59,373.13 L119.80,373.80 L120.84,374.86 L121.63,376.25 L122.13,377.87 Z" transform="translate(117.3 380) scale(0.750) translate(-117.3 -380)" fill="rgb(237,237,237)" stroke="rgb(142,142,142)" stroke-width="0.5" vector-effect="non-scaling-stroke"/><path d="M122.30,379.60 L122.13,381.33 L121.63,382.95 L120.84,384.34 L119.80,385.40 L118.59,386.07 L117.30,386.30 L116.01,386.07 L114.80,385.40 L113.76,384.34 L112.97,382.95 L112.47,381.33 L112.30,379.60 L112.47,377.87 L112.97,376.25 L113.76,374.86 L114.80,373.80 L116.01,373.13 L117.30,372.90 L118.59,373.13 L119.80,373.80 L120.84,374.86 L121.63,376.25 L122.13,377.87 Z" transform="translate(117.3 380) scale(0.500) translate(-117.3 -380)" fill="rgb(237,237,237)" stroke="rgb(142,142,142)" stroke-width="0.5" vector-effect="non-scaling-stroke"/><path d="M122.30,379.60 L122.13,381.33 L121.63,382.95 L120.84,384.34 L119.80,385.40 L118.59,386.07 L117.30,386.30 L116.01,386.07 L114.80,385.40 L113.76,384.34 L112.97,382.95 L112.47,381.33 L112.30,379.60 L112.47,377.87 L112.97,376.25 L113.76,374.86 L114.80,373.80 L116.01,373.13 L117.30,372.90 L118.59,373.13 L119.80,373.80 L120.84,374.86 L121.63,376.25 L122.13,377.87 Z" transform="translate(117.3 380) scale(0.250) translate(-117.3 -380)" fill="rgb(236,236,236)" stroke="rgb(141,141,141)" stroke-width="0.5" vector-effect="non-scaling-stroke"/></g>
<g transform="rotate(8 131 387)">
<g><path d="M131,372.3 C135,372.5 137,378 137.3,386 C137.5,395 136,402.8 131,402.8 C126.5,402.8 125,396 125,387 C125,379 127,372.2 131,372.3 Z" transform="translate(132.6 387.5) scale(1.000) translate(-132.6 -387.5)" fill="rgb(205,205,205)" stroke="rgb(155,155,155)" stroke-width="0.5" vector-effect="non-scaling-stroke"/><path d="M131,372.3 C135,372.5 137,378 137.3,386 C137.5,395 136,402.8 131,402.8 C126.5,402.8 125,396 125,387 C125,379 127,372.2 131,372.3 Z" transform="translate(132.6 387.5) scale(0.930) translate(-132.6 -387.5)" fill="rgb(181,181,181)" stroke="rgb(131,131,131)" stroke-width="0.5" vector-effect="non-scaling-stroke"/><path d="M131,372.3 C135,372.5 137,378 137.3,386 C137.5,395 136,402.8 131,402.8 C126.5,402.8 125,396 125,387 C125,379 127,372.2 131,372.3 Z" transform="translate(132.6 387.5) scale(0.827) translate(-132.6 -387.5)" fill="rgb(156,156,156)" stroke="rgb(106,106,106)" stroke-width="0.5" vector-effect="non-scaling-stroke"/><path d="M131,372.3 C135,372.5 137,378 137.3,386 C137.5,395 136,402.8 131,402.8 C126.5,402.8 125,396 125,387 C125,379 127,372.2 131,372.3 Z" transform="translate(132.6 387.5) scale(0.708) translate(-132.6 -387.5)" fill="rgb(132,132,132)" stroke="rgb(82,82,82)" stroke-width="0.5" vector-effect="non-scaling-stroke"/><path d="M131,372.3 C135,372.5 137,378 137.3,386 C137.5,395 136,402.8 131,402.8 C126.5,402.8 125,396 125,387 C125,379 127,372.2 131,372.3 Z" transform="translate(132.6 387.5) scale(0.575) translate(-132.6 -387.5)" fill="rgb(108,108,108)" stroke="rgb(58,58,58)" stroke-width="0.5" vector-effect="non-scaling-stroke"/><path d="M131,372.3 C135,372.5 137,378 137.3,386 C137.5,395 136,402.8 131,402.8 C126.5,402.8 125,396 125,387 C125,379 127,372.2 131,372.3 Z" transform="translate(132.6 387.5) scale(0.432) translate(-132.6 -387.5)" fill="rgb(84,84,84)" stroke="rgb(34,34,34)" stroke-width="0.5" vector-effect="non-scaling-stroke"/><path d="M131,372.3 C135,372.5 137,378 137.3,386 C137.5,395 136,402.8 131,402.8 C126.5,402.8 125,396 125,387 C125,379 127,372.2 131,372.3 Z" transform="translate(132.6 387.5) scale(0.280) translate(-132.6 -387.5)" fill="rgb(59,59,59)" stroke="rgb(9,9,9)" stroke-width="0.5" vector-effect="non-scaling-stroke"/><path d="M131,372.3 C135,372.5 137,378 137.3,386 C137.5,395 136,402.8 131,402.8 C126.5,402.8 125,396 125,387 C125,379 127,372.2 131,372.3 Z" transform="translate(132.6 387.5) scale(0.120) translate(-132.6 -387.5)" fill="rgb(35,35,35)" stroke="rgb(0,0,0)" stroke-width="0.5" vector-effect="non-scaling-stroke"/></g>
<line x1="132.8" y1="379" x2="132.6" y2="397" stroke="#aaa" stroke-width="0.6"/>
</g>
<g><path d="M114.1,394.6 C117,395 119,402 121,408 C122.5,412 121.5,414.6 117,414.8 C113,415 111,414 110.9,410 C110.8,404 111.5,395 114.1,394.6 Z" transform="translate(113.8 411.3) scale(1.000) translate(-113.8 -411.3)" fill="rgb(210,210,210)" stroke="rgb(165,165,165)" stroke-width="0.5" vector-effect="non-scaling-stroke"/><path d="M114.1,394.6 C117,395 119,402 121,408 C122.5,412 121.5,414.6 117,414.8 C113,415 111,414 110.9,410 C110.8,404 111.5,395 114.1,394.6 Z" transform="translate(113.8 411.3) scale(0.933) translate(-113.8 -411.3)" fill="rgb(179,179,179)" stroke="rgb(134,134,134)" stroke-width="0.5" vector-effect="non-scaling-stroke"/><path d="M114.1,394.6 C117,395 119,402 121,408 C122.5,412 121.5,414.6 117,414.8 C113,415 111,414 110.9,410 C110.8,404 111.5,395 114.1,394.6 Z" transform="translate(113.8 411.3) scale(0.824) translate(-113.8 -411.3)" fill="rgb(148,148,148)" stroke="rgb(103,103,103)" stroke-width="0.5" vector-effect="non-scaling-stroke"/><path d="M114.1,394.6 C117,395 119,402 121,408 C122.5,412 121.5,414.6 117,414.8 C113,415 111,414 110.9,410 C110.8,404 111.5,395 114.1,394.6 Z" transform="translate(113.8 411.3) scale(0.689) translate(-113.8 -411.3)" fill="rgb(118,118,118)" stroke="rgb(73,73,73)" stroke-width="0.5" vector-effect="non-scaling-stroke"/><path d="M114.1,394.6 C117,395 119,402 121,408 C122.5,412 121.5,414.6 117,414.8 C113,415 111,414 110.9,410 C110.8,404 111.5,395 114.1,394.6 Z" transform="translate(113.8 411.3) scale(0.535) translate(-113.8 -411.3)" fill="rgb(87,87,87)" stroke="rgb(42,42,42)" stroke-width="0.5" vector-effect="non-scaling-stroke"/><path d="M114.1,394.6 C117,395 119,402 121,408 C122.5,412 121.5,414.6 117,414.8 C113,415 111,414 110.9,410 C110.8,404 111.5,395 114.1,394.6 Z" transform="translate(113.8 411.3) scale(0.365) translate(-113.8 -411.3)" fill="rgb(56,56,56)" stroke="rgb(11,11,11)" stroke-width="0.5" vector-effect="non-scaling-stroke"/><path d="M114.1,394.6 C117,395 119,402 121,408 C122.5,412 121.5,414.6 117,414.8 C113,415 111,414 110.9,410 C110.8,404 111.5,395 114.1,394.6 Z" transform="translate(113.8 411.3) scale(0.180) translate(-113.8 -411.3)" fill="rgb(25,25,25)" stroke="rgb(0,0,0)" stroke-width="0.5" vector-effect="non-scaling-stroke"/></g>
<rect x="113.2" y="409.5" width="1.4" height="2.6" fill="#bbb"/>
<g><path d="M139.20,409.30 L138.98,410.44 L138.34,411.50 L137.33,412.41 L136.00,413.11 L134.46,413.55 L132.80,413.70 L131.14,413.55 L129.60,413.11 L128.27,412.41 L127.26,411.50 L126.62,410.44 L126.40,409.30 L126.62,408.16 L127.26,407.10 L128.27,406.19 L129.60,405.49 L131.14,405.05 L132.80,404.90 L134.46,405.05 L136.00,405.49 L137.33,406.19 L138.34,407.10 L138.98,408.16 Z" transform="translate(133.2 409.5) scale(1.000) translate(-133.2 -409.5)" fill="rgb(222,222,222)" stroke="rgb(177,177,177)" stroke-width="0.5" vector-effect="non-scaling-stroke"/><path d="M139.20,409.30 L138.98,410.44 L138.34,411.50 L137.33,412.41 L136.00,413.11 L134.46,413.55 L132.80,413.70 L131.14,413.55 L129.60,413.11 L128.27,412.41 L127.26,411.50 L126.62,410.44 L126.40,409.30 L126.62,408.16 L127.26,407.10 L128.27,406.19 L129.60,405.49 L131.14,405.05 L132.80,404.90 L134.46,405.05 L136.00,405.49 L137.33,406.19 L138.34,407.10 L138.98,408.16 Z" transform="translate(133.2 409.5) scale(0.725) translate(-133.2 -409.5)" fill="rgb(211,211,211)" stroke="rgb(166,166,166)" stroke-width="0.5" vector-effect="non-scaling-stroke"/><path d="M139.20,409.30 L138.98,410.44 L138.34,411.50 L137.33,412.41 L136.00,413.11 L134.46,413.55 L132.80,413.70 L131.14,413.55 L129.60,413.11 L128.27,412.41 L127.26,411.50 L126.62,410.44 L126.40,409.30 L126.62,408.16 L127.26,407.10 L128.27,406.19 L129.60,405.49 L131.14,405.05 L132.80,404.90 L134.46,405.05 L136.00,405.49 L137.33,406.19 L138.34,407.10 L138.98,408.16 Z" transform="translate(133.2 409.5) scale(0.450) translate(-133.2 -409.5)" fill="rgb(200,200,200)" stroke="rgb(155,155,155)" stroke-width="0.5" vector-effect="non-scaling-stroke"/><circle cx="133.4" cy="409.6" r="0.9" fill="#e8e8e8"/></g>
<rect x="125.4" y="364.2" width="12.5" height="38.1" fill="none" stroke="#666" stroke-width="0.75"/>
<polygon points="70.80,411.32 73.60,411.28 73.95,434.68 75.45,434.66 72.60,437.90 69.65,434.74 71.15,434.72" fill="#e6e6e6" stroke="#2a2a2a" stroke-width="0.7" stroke-linejoin="miter"/>
<polygon points="130.01,408.92 132.79,408.68 135.11,434.59 136.60,434.45 134.00,437.90 130.83,434.97 132.32,434.84" fill="#cfcfcf" stroke="#2a2a2a" stroke-width="0.7" stroke-linejoin="miter"/>
<rect x="38.4" y="446.5" width="56.199999999999996" height="56.19999999999999" fill="none" stroke="#333" stroke-width="1.05"/>
<line x1="36.4" y1="452.3207142857143" x2="38.4" y2="452.3207142857143" stroke="#231f20" stroke-width="0.8"/>
<text x="35.0" y="454.3207142857143" font-size="5.9" text-anchor="end" fill="#231f20" stroke="#231f20" stroke-width="0.1">10<tspan font-size="3.8" dy="-2.5">5</tspan></text>
<line x1="36.4" y1="465.3671428571429" x2="38.4" y2="465.3671428571429" stroke="#231f20" stroke-width="0.8"/>
<text x="35.0" y="467.3671428571429" font-size="5.9" text-anchor="end" fill="#231f20" stroke="#231f20" stroke-width="0.1">10<tspan font-size="3.8" dy="-2.5">4</tspan></text>
<line x1="36.4" y1="480.62142857142857" x2="38.4" y2="480.62142857142857" stroke="#231f20" stroke-width="0.8"/>
<text x="35.0" y="482.62142857142857" font-size="5.9" text-anchor="end" fill="#231f20" stroke="#231f20" stroke-width="0.1">10<tspan font-size="3.8" dy="-2.5">3</tspan></text>
<line x1="36.4" y1="490.3560714285714" x2="38.4" y2="490.3560714285714" stroke="#231f20" stroke-width="0.8"/>
<text x="32.8" y="492.3560714285714" font-size="5.9" text-anchor="end" fill="#231f20" stroke="#231f20" stroke-width="0.12">0</text>
<line x1="36.4" y1="500.19107142857143" x2="38.4" y2="500.19107142857143" stroke="#231f20" stroke-width="0.8"/>
<text x="35.0" y="502.19107142857143" font-size="5.9" text-anchor="end" fill="#231f20" stroke="#231f20" stroke-width="0.1">-10<tspan font-size="3.8" dy="-2.5">3</tspan></text>
<line x1="37.199999999999996" y1="454.93" x2="38.4" y2="454.93" stroke="#555" stroke-width="0.5"/>
<line x1="37.199999999999996" y1="457.74" x2="38.4" y2="457.74" stroke="#555" stroke-width="0.5"/>
<line x1="37.199999999999996" y1="459.988" x2="38.4" y2="459.988" stroke="#555" stroke-width="0.5"/>
<line x1="37.199999999999996" y1="461.674" x2="38.4" y2="461.674" stroke="#555" stroke-width="0.5"/>
<line x1="37.199999999999996" y1="462.798" x2="38.4" y2="462.798" stroke="#555" stroke-width="0.5"/>
<line x1="37.199999999999996" y1="470.104" x2="38.4" y2="470.104" stroke="#555" stroke-width="0.5"/>
<line x1="37.199999999999996" y1="472.914" x2="38.4" y2="472.914" stroke="#555" stroke-width="0.5"/>
<line x1="37.199999999999996" y1="474.6" x2="38.4" y2="474.6" stroke="#555" stroke-width="0.5"/>
<line x1="37.199999999999996" y1="475.724" x2="38.4" y2="475.724" stroke="#555" stroke-width="0.5"/>
<line x1="37.199999999999996" y1="483.592" x2="38.4" y2="483.592" stroke="#555" stroke-width="0.5"/>
<line x1="37.199999999999996" y1="485.84" x2="38.4" y2="485.84" stroke="#555" stroke-width="0.5"/>
<line x1="37.199999999999996" y1="486.964" x2="38.4" y2="486.964" stroke="#555" stroke-width="0.5"/>
<line x1="37.199999999999996" y1="493.70799999999997" x2="38.4" y2="493.70799999999997" stroke="#555" stroke-width="0.5"/>
<line x1="37.199999999999996" y1="495.394" x2="38.4" y2="495.394" stroke="#555" stroke-width="0.5"/>
<line x1="37.199999999999996" y1="497.08" x2="38.4" y2="497.08" stroke="#555" stroke-width="0.5"/>
<line x1="37.199999999999996" y1="498.76599999999996" x2="38.4" y2="498.76599999999996" stroke="#555" stroke-width="0.5"/>
<line x1="37.199999999999996" y1="501.014" x2="38.4" y2="501.014" stroke="#555" stroke-width="0.5"/>
<rect x="36.199999999999996" y="489.3560714285714" width="2.2" height="2" fill="#231f20"/>
<line x1="41.653684210526315" y1="502.7" x2="41.653684210526315" y2="504.7" stroke="#231f20" stroke-width="0.8"/>
<text x="42.253684210526316" y="514.0" font-size="5.9" text-anchor="middle" fill="#231f20" stroke="#231f20" stroke-width="0.1">-10<tspan font-size="3.8" dy="-2.5">3</tspan></text>
<line x1="51.21754385964912" y1="502.7" x2="51.21754385964912" y2="504.7" stroke="#231f20" stroke-width="0.8"/>
<text x="51.21754385964912" y="514.0" font-size="5.9" text-anchor="middle" fill="#231f20" stroke="#231f20" stroke-width="0.12">0</text>
<line x1="60.38701754385964" y1="502.7" x2="60.38701754385964" y2="504.7" stroke="#231f20" stroke-width="0.8"/>
<text x="60.98701754385964" y="514.0" font-size="5.9" text-anchor="middle" fill="#231f20" stroke="#231f20" stroke-width="0.1">10<tspan font-size="3.8" dy="-2.5">3</tspan></text>
<line x1="77.04982456140351" y1="502.7" x2="77.04982456140351" y2="504.7" stroke="#231f20" stroke-width="0.8"/>
<text x="77.6498245614035" y="514.0" font-size="5.9" text-anchor="middle" fill="#231f20" stroke="#231f20" stroke-width="0.1">10<tspan font-size="3.8" dy="-2.5">4</tspan></text>
<line x1="89.17719298245613" y1="502.7" x2="89.17719298245613" y2="504.7" stroke="#231f20" stroke-width="0.8"/>
<text x="89.77719298245613" y="514.0" font-size="5.9" text-anchor="middle" fill="#231f20" stroke="#231f20" stroke-width="0.1">10<tspan font-size="3.8" dy="-2.5">5</tspan></text>
<line x1="42.896" y1="502.7" x2="42.896" y2="503.9" stroke="#555" stroke-width="0.5"/>
<line x1="45.144" y1="502.7" x2="45.144" y2="503.9" stroke="#555" stroke-width="0.5"/>
<line x1="46.83" y1="502.7" x2="46.83" y2="503.9" stroke="#555" stroke-width="0.5"/>
<line x1="47.954" y1="502.7" x2="47.954" y2="503.9" stroke="#555" stroke-width="0.5"/>
<line x1="55.26" y1="502.7" x2="55.26" y2="503.9" stroke="#555" stroke-width="0.5"/>
<line x1="57.507999999999996" y1="502.7" x2="57.507999999999996" y2="503.9" stroke="#555" stroke-width="0.5"/>
<line x1="59.193999999999996" y1="502.7" x2="59.193999999999996" y2="503.9" stroke="#555" stroke-width="0.5"/>
<line x1="63.69" y1="502.7" x2="63.69" y2="503.9" stroke="#555" stroke-width="0.5"/>
<line x1="66.5" y1="502.7" x2="66.5" y2="503.9" stroke="#555" stroke-width="0.5"/>
<line x1="69.31" y1="502.7" x2="69.31" y2="503.9" stroke="#555" stroke-width="0.5"/>
<line x1="70.996" y1="502.7" x2="70.996" y2="503.9" stroke="#555" stroke-width="0.5"/>
<line x1="73.244" y1="502.7" x2="73.244" y2="503.9" stroke="#555" stroke-width="0.5"/>
<line x1="74.368" y1="502.7" x2="74.368" y2="503.9" stroke="#555" stroke-width="0.5"/>
<line x1="80.55" y1="502.7" x2="80.55" y2="503.9" stroke="#555" stroke-width="0.5"/>
<line x1="82.798" y1="502.7" x2="82.798" y2="503.9" stroke="#555" stroke-width="0.5"/>
<line x1="84.484" y1="502.7" x2="84.484" y2="503.9" stroke="#555" stroke-width="0.5"/>
<line x1="86.16999999999999" y1="502.7" x2="86.16999999999999" y2="503.9" stroke="#555" stroke-width="0.5"/>
<line x1="91.78999999999999" y1="502.7" x2="91.78999999999999" y2="503.9" stroke="#555" stroke-width="0.5"/>
<line x1="93.476" y1="502.7" x2="93.476" y2="503.9" stroke="#555" stroke-width="0.5"/>
<rect x="50.21754385964912" y="502.7" width="2" height="2" fill="#231f20"/>
<rect x="101.1" y="446.8" width="56.400000000000006" height="56.19999999999999" fill="none" stroke="#333" stroke-width="1.05"/>
<line x1="99.1" y1="452.6207142857143" x2="101.1" y2="452.6207142857143" stroke="#231f20" stroke-width="0.8"/>
<line x1="99.1" y1="465.6671428571429" x2="101.1" y2="465.6671428571429" stroke="#231f20" stroke-width="0.8"/>
<line x1="99.1" y1="480.9214285714286" x2="101.1" y2="480.9214285714286" stroke="#231f20" stroke-width="0.8"/>
<line x1="99.1" y1="490.6560714285714" x2="101.1" y2="490.6560714285714" stroke="#231f20" stroke-width="0.8"/>
<line x1="99.1" y1="500.49107142857144" x2="101.1" y2="500.49107142857144" stroke="#231f20" stroke-width="0.8"/>
<line x1="99.89999999999999" y1="455.23" x2="101.1" y2="455.23" stroke="#555" stroke-width="0.5"/>
<line x1="99.89999999999999" y1="458.04" x2="101.1" y2="458.04" stroke="#555" stroke-width="0.5"/>
<line x1="99.89999999999999" y1="460.288" x2="101.1" y2="460.288" stroke="#555" stroke-width="0.5"/>
<line x1="99.89999999999999" y1="461.974" x2="101.1" y2="461.974" stroke="#555" stroke-width="0.5"/>
<line x1="99.89999999999999" y1="463.098" x2="101.1" y2="463.098" stroke="#555" stroke-width="0.5"/>
<line x1="99.89999999999999" y1="470.404" x2="101.1" y2="470.404" stroke="#555" stroke-width="0.5"/>
<line x1="99.89999999999999" y1="473.214" x2="101.1" y2="473.214" stroke="#555" stroke-width="0.5"/>
<line x1="99.89999999999999" y1="474.9" x2="101.1" y2="474.9" stroke="#555" stroke-width="0.5"/>
<line x1="99.89999999999999" y1="476.024" x2="101.1" y2="476.024" stroke="#555" stroke-width="0.5"/>
<line x1="99.89999999999999" y1="483.892" x2="101.1" y2="483.892" stroke="#555" stroke-width="0.5"/>
<line x1="99.89999999999999" y1="486.14" x2="101.1" y2="486.14" stroke="#555" stroke-width="0.5"/>
<line x1="99.89999999999999" y1="487.264" x2="101.1" y2="487.264" stroke="#555" stroke-width="0.5"/>
<line x1="99.89999999999999" y1="494.008" x2="101.1" y2="494.008" stroke="#555" stroke-width="0.5"/>
<line x1="99.89999999999999" y1="495.694" x2="101.1" y2="495.694" stroke="#555" stroke-width="0.5"/>
<line x1="99.89999999999999" y1="497.38" x2="101.1" y2="497.38" stroke="#555" stroke-width="0.5"/>
<line x1="99.89999999999999" y1="499.06600000000003" x2="101.1" y2="499.06600000000003" stroke="#555" stroke-width="0.5"/>
<line x1="99.89999999999999" y1="501.314" x2="101.1" y2="501.314" stroke="#555" stroke-width="0.5"/>
<rect x="98.89999999999999" y="489.6560714285714" width="2.2" height="2" fill="#231f20"/>
<line x1="104.36526315789473" y1="503" x2="104.36526315789473" y2="505" stroke="#231f20" stroke-width="0.8"/>
<text x="104.96526315789473" y="514.3" font-size="5.9" text-anchor="middle" fill="#231f20" stroke="#231f20" stroke-width="0.1">-10<tspan font-size="3.8" dy="-2.5">3</tspan></text>
<line x1="113.96315789473684" y1="503" x2="113.96315789473684" y2="505" stroke="#231f20" stroke-width="0.8"/>
<text x="113.96315789473684" y="514.3" font-size="5.9" text-anchor="middle" fill="#231f20" stroke="#231f20" stroke-width="0.12">0</text>
<line x1="123.16526315789473" y1="503" x2="123.16526315789473" y2="505" stroke="#231f20" stroke-width="0.8"/>
<text x="123.76526315789472" y="514.3" font-size="5.9" text-anchor="middle" fill="#231f20" stroke="#231f20" stroke-width="0.1">10<tspan font-size="3.8" dy="-2.5">3</tspan></text>
<line x1="139.88736842105263" y1="503" x2="139.88736842105263" y2="505" stroke="#231f20" stroke-width="0.8"/>
<text x="140.48736842105262" y="514.3" font-size="5.9" text-anchor="middle" fill="#231f20" stroke="#231f20" stroke-width="0.1">10<tspan font-size="3.8" dy="-2.5">4</tspan></text>
<line x1="152.05789473684212" y1="503" x2="152.05789473684212" y2="505" stroke="#231f20" stroke-width="0.8"/>
<text x="152.6578947368421" y="514.3" font-size="5.9" text-anchor="middle" fill="#231f20" stroke="#231f20" stroke-width="0.1">10<tspan font-size="3.8" dy="-2.5">5</tspan></text>
<line x1="105.612" y1="503" x2="105.612" y2="504.2" stroke="#555" stroke-width="0.5"/>
<line x1="107.868" y1="503" x2="107.868" y2="504.2" stroke="#555" stroke-width="0.5"/>
<line x1="109.56" y1="503" x2="109.56" y2="504.2" stroke="#555" stroke-width="0.5"/>
<line x1="110.68799999999999" y1="503" x2="110.68799999999999" y2="504.2" stroke="#555" stroke-width="0.5"/>
<line x1="118.02" y1="503" x2="118.02" y2="504.2" stroke="#555" stroke-width="0.5"/>
<line x1="120.276" y1="503" x2="120.276" y2="504.2" stroke="#555" stroke-width="0.5"/>
<line x1="121.96799999999999" y1="503" x2="121.96799999999999" y2="504.2" stroke="#555" stroke-width="0.5"/>
<line x1="126.47999999999999" y1="503" x2="126.47999999999999" y2="504.2" stroke="#555" stroke-width="0.5"/>
<line x1="129.3" y1="503" x2="129.3" y2="504.2" stroke="#555" stroke-width="0.5"/>
<line x1="132.12" y1="503" x2="132.12" y2="504.2" stroke="#555" stroke-width="0.5"/>
<line x1="133.812" y1="503" x2="133.812" y2="504.2" stroke="#555" stroke-width="0.5"/>
<line x1="136.06799999999998" y1="503" x2="136.06799999999998" y2="504.2" stroke="#555" stroke-width="0.5"/>
<line x1="137.196" y1="503" x2="137.196" y2="504.2" stroke="#555" stroke-width="0.5"/>
<line x1="143.4" y1="503" x2="143.4" y2="504.2" stroke="#555" stroke-width="0.5"/>
<line x1="145.656" y1="503" x2="145.656" y2="504.2" stroke="#555" stroke-width="0.5"/>
<line x1="147.348" y1="503" x2="147.348" y2="504.2" stroke="#555" stroke-width="0.5"/>
<line x1="149.04" y1="503" x2="149.04" y2="504.2" stroke="#555" stroke-width="0.5"/>
<line x1="154.68" y1="503" x2="154.68" y2="504.2" stroke="#555" stroke-width="0.5"/>
<line x1="156.372" y1="503" x2="156.372" y2="504.2" stroke="#555" stroke-width="0.5"/>
<rect x="112.96315789473684" y="503" width="2" height="2" fill="#231f20"/>
<text x="18.6" y="474.5" font-size="8.5" text-anchor="middle" fill="#231f20" stroke="#231f20" stroke-width="0.12" textLength="19" lengthAdjust="spacingAndGlyphs" transform="rotate(-90 18.6 474.5)">CD63</text>
<text x="97.85" y="525.8" font-size="8.4" text-anchor="middle" fill="#231f20" stroke="#231f20" stroke-width="0.12" textLength="23.2" lengthAdjust="spacingAndGlyphs">CD66a</text>
<text x="42.9" y="455.9" font-size="7.0" text-anchor="start" fill="#231f20" stroke="#231f20" stroke-width="0.12" textLength="13.2" lengthAdjust="spacingAndGlyphs">17%</text>
<text x="42.8" y="463.9" font-size="7.0" text-anchor="start" fill="#231f20" stroke="#231f20" stroke-width="0.12" textLength="14" lengthAdjust="spacingAndGlyphs">(200)</text>
<text x="105.9" y="455.9" font-size="7.0" text-anchor="start" fill="#231f20" stroke="#231f20" stroke-width="0.12" textLength="14.6" lengthAdjust="spacingAndGlyphs">7.6%</text>
<text x="105.8" y="463.9" font-size="7.0" text-anchor="start" fill="#231f20" stroke="#231f20" stroke-width="0.12" textLength="14" lengthAdjust="spacingAndGlyphs">(300)</text>
<polygon points="61.3,465.4 67.8,454.1 78.7,449.6 84.8,450.8 86.0,462.2 80.3,473.9 67.0,476.7 61.3,471.8" fill="none" stroke="#555" stroke-width="0.6" stroke-linejoin="round"/>
<g><path d="M76.59,458.31 L76.97,459.15 L76.91,460.31 L76.42,461.71 L75.52,463.24 L74.27,464.82 L72.78,466.33 L71.12,467.66 L69.42,468.73 L67.80,469.47 L66.36,469.82 L65.20,469.75 L64.41,469.29 L64.03,468.45 L64.09,467.29 L64.58,465.89 L65.48,464.36 L66.73,462.78 L68.22,461.27 L69.88,459.94 L71.58,458.87 L73.20,458.13 L74.64,457.78 L75.80,457.85 Z" transform="translate(70.8 463.5) scale(1.000) translate(-70.8 -463.5)" fill="rgb(225,225,225)" stroke="rgb(165,165,165)" stroke-width="0.5" vector-effect="non-scaling-stroke"/><path d="M76.59,458.31 L76.97,459.15 L76.91,460.31 L76.42,461.71 L75.52,463.24 L74.27,464.82 L72.78,466.33 L71.12,467.66 L69.42,468.73 L67.80,469.47 L66.36,469.82 L65.20,469.75 L64.41,469.29 L64.03,468.45 L64.09,467.29 L64.58,465.89 L65.48,464.36 L66.73,462.78 L68.22,461.27 L69.88,459.94 L71.58,458.87 L73.20,458.13 L74.64,457.78 L75.80,457.85 Z" transform="translate(70.8 463.5) scale(0.767) translate(-70.8 -463.5)" fill="rgb(215,215,215)" stroke="rgb(155,155,155)" stroke-width="0.5" vector-effect="non-scaling-stroke"/><path d="M76.59,458.31 L76.97,459.15 L76.91,460.31 L76.42,461.71 L75.52,463.24 L74.27,464.82 L72.78,466.33 L71.12,467.66 L69.42,468.73 L67.80,469.47 L66.36,469.82 L65.20,469.75 L64.41,469.29 L64.03,468.45 L64.09,467.29 L64.58,465.89 L65.48,464.36 L66.73,462.78 L68.22,461.27 L69.88,459.94 L71.58,458.87 L73.20,458.13 L74.64,457.78 L75.80,457.85 Z" transform="translate(70.8 463.5) scale(0.533) translate(-70.8 -463.5)" fill="rgb(205,205,205)" stroke="rgb(145,145,145)" stroke-width="0.5" vector-effect="non-scaling-stroke"/><path d="M76.59,458.31 L76.97,459.15 L76.91,460.31 L76.42,461.71 L75.52,463.24 L74.27,464.82 L72.78,466.33 L71.12,467.66 L69.42,468.73 L67.80,469.47 L66.36,469.82 L65.20,469.75 L64.41,469.29 L64.03,468.45 L64.09,467.29 L64.58,465.89 L65.48,464.36 L66.73,462.78 L68.22,461.27 L69.88,459.94 L71.58,458.87 L73.20,458.13 L74.64,457.78 L75.80,457.85 Z" transform="translate(70.8 463.5) scale(0.300) translate(-70.8 -463.5)" fill="rgb(195,195,195)" stroke="rgb(135,135,135)" stroke-width="0.5" vector-effect="non-scaling-stroke"/><circle cx="70.9" cy="463.5" r="0.6" fill="#e8e8e8"/></g>
<g><path d="M66.30,487.60 L66.06,489.46 L65.36,491.20 L64.25,492.69 L62.80,493.84 L61.11,494.55 L59.30,494.80 L57.49,494.55 L55.80,493.84 L54.35,492.69 L53.24,491.20 L52.54,489.46 L52.30,487.60 L52.54,485.74 L53.24,484.00 L54.35,482.51 L55.80,481.36 L57.49,480.65 L59.30,480.40 L61.11,480.65 L62.80,481.36 L64.25,482.51 L65.36,484.00 L66.06,485.74 Z" transform="translate(59.2 488.2) scale(1.000) translate(-59.2 -488.2)" fill="rgb(195,195,195)" stroke="rgb(130,130,130)" stroke-width="0.5" vector-effect="non-scaling-stroke"/><path d="M66.30,487.60 L66.06,489.46 L65.36,491.20 L64.25,492.69 L62.80,493.84 L61.11,494.55 L59.30,494.80 L57.49,494.55 L55.80,493.84 L54.35,492.69 L53.24,491.20 L52.54,489.46 L52.30,487.60 L52.54,485.74 L53.24,484.00 L54.35,482.51 L55.80,481.36 L57.49,480.65 L59.30,480.40 L61.11,480.65 L62.80,481.36 L64.25,482.51 L65.36,484.00 L66.06,485.74 Z" transform="translate(59.2 488.2) scale(0.840) translate(-59.2 -488.2)" fill="rgb(183,183,183)" stroke="rgb(118,118,118)" stroke-width="0.5" vector-effect="non-scaling-stroke"/><path d="M66.30,487.60 L66.06,489.46 L65.36,491.20 L64.25,492.69 L62.80,493.84 L61.11,494.55 L59.30,494.80 L57.49,494.55 L55.80,493.84 L54.35,492.69 L53.24,491.20 L52.54,489.46 L52.30,487.60 L52.54,485.74 L53.24,484.00 L54.35,482.51 L55.80,481.36 L57.49,480.65 L59.30,480.40 L61.11,480.65 L62.80,481.36 L64.25,482.51 L65.36,484.00 L66.06,485.74 Z" transform="translate(59.2 488.2) scale(0.680) translate(-59.2 -488.2)" fill="rgb(171,171,171)" stroke="rgb(106,106,106)" stroke-width="0.5" vector-effect="non-scaling-stroke"/><path d="M66.30,487.60 L66.06,489.46 L65.36,491.20 L64.25,492.69 L62.80,493.84 L61.11,494.55 L59.30,494.80 L57.49,494.55 L55.80,493.84 L54.35,492.69 L53.24,491.20 L52.54,489.46 L52.30,487.60 L52.54,485.74 L53.24,484.00 L54.35,482.51 L55.80,481.36 L57.49,480.65 L59.30,480.40 L61.11,480.65 L62.80,481.36 L64.25,482.51 L65.36,484.00 L66.06,485.74 Z" transform="translate(59.2 488.2) scale(0.520) translate(-59.2 -488.2)" fill="rgb(159,159,159)" stroke="rgb(94,94,94)" stroke-width="0.5" vector-effect="non-scaling-stroke"/><path d="M66.30,487.60 L66.06,489.46 L65.36,491.20 L64.25,492.69 L62.80,493.84 L61.11,494.55 L59.30,494.80 L57.49,494.55 L55.80,493.84 L54.35,492.69 L53.24,491.20 L52.54,489.46 L52.30,487.60 L52.54,485.74 L53.24,484.00 L54.35,482.51 L55.80,481.36 L57.49,480.65 L59.30,480.40 L61.11,480.65 L62.80,481.36 L64.25,482.51 L65.36,484.00 L66.06,485.74 Z" transform="translate(59.2 488.2) scale(0.360) translate(-59.2 -488.2)" fill="rgb(147,147,147)" stroke="rgb(82,82,82)" stroke-width="0.5" vector-effect="non-scaling-stroke"/><path d="M66.30,487.60 L66.06,489.46 L65.36,491.20 L64.25,492.69 L62.80,493.84 L61.11,494.55 L59.30,494.80 L57.49,494.55 L55.80,493.84 L54.35,492.69 L53.24,491.20 L52.54,489.46 L52.30,487.60 L52.54,485.74 L53.24,484.00 L54.35,482.51 L55.80,481.36 L57.49,480.65 L59.30,480.40 L61.11,480.65 L62.80,481.36 L64.25,482.51 L65.36,484.00 L66.06,485.74 Z" transform="translate(59.2 488.2) scale(0.200) translate(-59.2 -488.2)" fill="rgb(135,135,135)" stroke="rgb(70,70,70)" stroke-width="0.5" vector-effect="non-scaling-stroke"/><circle cx="59.2" cy="488.3" r="1.0" fill="#e8e8e8"/></g>
<polygon points="125.4,468.3 130.8,454.5 141.5,449.8 147.7,450.6 148.8,461.4 143.8,474.1 130.4,477.5" fill="none" stroke="#555" stroke-width="0.6" stroke-linejoin="round"/>
<path d="M135.61,461.94 L135.85,462.38 L135.84,463.06 L135.58,463.95 L135.10,464.97 L134.41,466.07 L133.58,467.16 L132.65,468.17 L131.69,469.03 L130.77,469.69 L129.94,470.09 L129.27,470.22 L128.79,470.06 L128.55,469.62 L128.56,468.94 L128.82,468.05 L129.30,467.03 L129.99,465.93 L130.82,464.84 L131.75,463.83 L132.71,462.97 L133.63,462.31 L134.46,461.91 L135.13,461.78 Z" fill="none" stroke="#777" stroke-width="0.5"/>
<g><path d="M125.4,476.8 C127,478 126,483 124.5,487.5 C123,490 119,491.2 116.5,490.5 C114.5,489.8 114.8,486.5 116.5,484 C118.5,481 122,477.5 125.4,476.8 Z" transform="translate(120.2 487) scale(1.000) translate(-120.2 -487)" fill="rgb(222,222,222)" stroke="rgb(162,162,162)" stroke-width="0.5" vector-effect="non-scaling-stroke"/><path d="M125.4,476.8 C127,478 126,483 124.5,487.5 C123,490 119,491.2 116.5,490.5 C114.5,489.8 114.8,486.5 116.5,484 C118.5,481 122,477.5 125.4,476.8 Z" transform="translate(120.2 487) scale(0.840) translate(-120.2 -487)" fill="rgb(198,198,198)" stroke="rgb(138,138,138)" stroke-width="0.5" vector-effect="non-scaling-stroke"/><path d="M125.4,476.8 C127,478 126,483 124.5,487.5 C123,490 119,491.2 116.5,490.5 C114.5,489.8 114.8,486.5 116.5,484 C118.5,481 122,477.5 125.4,476.8 Z" transform="translate(120.2 487) scale(0.680) translate(-120.2 -487)" fill="rgb(173,173,173)" stroke="rgb(113,113,113)" stroke-width="0.5" vector-effect="non-scaling-stroke"/><path d="M125.4,476.8 C127,478 126,483 124.5,487.5 C123,490 119,491.2 116.5,490.5 C114.5,489.8 114.8,486.5 116.5,484 C118.5,481 122,477.5 125.4,476.8 Z" transform="translate(120.2 487) scale(0.520) translate(-120.2 -487)" fill="rgb(149,149,149)" stroke="rgb(89,89,89)" stroke-width="0.5" vector-effect="non-scaling-stroke"/><path d="M125.4,476.8 C127,478 126,483 124.5,487.5 C123,490 119,491.2 116.5,490.5 C114.5,489.8 114.8,486.5 116.5,484 C118.5,481 122,477.5 125.4,476.8 Z" transform="translate(120.2 487) scale(0.360) translate(-120.2 -487)" fill="rgb(124,124,124)" stroke="rgb(64,64,64)" stroke-width="0.5" vector-effect="non-scaling-stroke"/><path d="M125.4,476.8 C127,478 126,483 124.5,487.5 C123,490 119,491.2 116.5,490.5 C114.5,489.8 114.8,486.5 116.5,484 C118.5,481 122,477.5 125.4,476.8 Z" transform="translate(120.2 487) scale(0.200) translate(-120.2 -487)" fill="rgb(100,100,100)" stroke="rgb(40,40,40)" stroke-width="0.5" vector-effect="non-scaling-stroke"/><circle cx="120.3" cy="487.4" r="0.7" fill="#e8e8e8"/></g>
<rect x="208.1" y="360.4" width="56.599999999999994" height="56.30000000000001" fill="none" stroke="#333" stroke-width="1.05"/>
<line x1="206.1" y1="363.0" x2="208.1" y2="363.0" stroke="#231f20" stroke-width="0.8"/>
<text x="204.7" y="365.1" font-size="5.9" text-anchor="end" fill="#231f20" stroke="#231f20" stroke-width="0.12" textLength="13.37" lengthAdjust="spacingAndGlyphs">250K</text>
<line x1="206.1" y1="373.65" x2="208.1" y2="373.65" stroke="#231f20" stroke-width="0.8"/>
<text x="204.7" y="375.75" font-size="5.9" text-anchor="end" fill="#231f20" stroke="#231f20" stroke-width="0.12" textLength="13.37" lengthAdjust="spacingAndGlyphs">200K</text>
<line x1="206.1" y1="384.3" x2="208.1" y2="384.3" stroke="#231f20" stroke-width="0.8"/>
<text x="204.7" y="386.40000000000003" font-size="5.9" text-anchor="end" fill="#231f20" stroke="#231f20" stroke-width="0.12" textLength="13.37" lengthAdjust="spacingAndGlyphs">150K</text>
<line x1="206.1" y1="394.95" x2="208.1" y2="394.95" stroke="#231f20" stroke-width="0.8"/>
<text x="204.7" y="397.05" font-size="5.9" text-anchor="end" fill="#231f20" stroke="#231f20" stroke-width="0.12" textLength="13.37" lengthAdjust="spacingAndGlyphs">100K</text>
<line x1="206.1" y1="405.59999999999997" x2="208.1" y2="405.59999999999997" stroke="#231f20" stroke-width="0.8"/>
<text x="204.7" y="407.7" font-size="5.9" text-anchor="end" fill="#231f20" stroke="#231f20" stroke-width="0.12" textLength="10.18" lengthAdjust="spacingAndGlyphs">50K</text>
<line x1="206.1" y1="416.25" x2="208.1" y2="416.25" stroke="#231f20" stroke-width="0.8"/>
<text x="204.7" y="418.35" font-size="5.9" text-anchor="end" fill="#231f20" stroke="#231f20" stroke-width="0.12" textLength="3.18" lengthAdjust="spacingAndGlyphs">0</text>
<line x1="211.37684210526317" y1="416.7" x2="211.37684210526317" y2="418.7" stroke="#231f20" stroke-width="0.8"/>
<text x="211.97684210526316" y="428.0" font-size="5.9" text-anchor="middle" fill="#231f20" stroke="#231f20" stroke-width="0.1">-10<tspan font-size="3.8" dy="-2.5">3</tspan></text>
<line x1="221.00877192982455" y1="416.7" x2="221.00877192982455" y2="418.7" stroke="#231f20" stroke-width="0.8"/>
<text x="221.00877192982455" y="428.0" font-size="5.9" text-anchor="middle" fill="#231f20" stroke="#231f20" stroke-width="0.12">0</text>
<line x1="230.2435087719298" y1="416.7" x2="230.2435087719298" y2="418.7" stroke="#231f20" stroke-width="0.8"/>
<text x="230.8435087719298" y="428.0" font-size="5.9" text-anchor="middle" fill="#231f20" stroke="#231f20" stroke-width="0.1">10<tspan font-size="3.8" dy="-2.5">3</tspan></text>
<line x1="247.02491228070176" y1="416.7" x2="247.02491228070176" y2="418.7" stroke="#231f20" stroke-width="0.8"/>
<text x="247.62491228070175" y="428.0" font-size="5.9" text-anchor="middle" fill="#231f20" stroke="#231f20" stroke-width="0.1">10<tspan font-size="3.8" dy="-2.5">4</tspan></text>
<line x1="259.23859649122807" y1="416.7" x2="259.23859649122807" y2="418.7" stroke="#231f20" stroke-width="0.8"/>
<text x="259.8385964912281" y="428.0" font-size="5.9" text-anchor="middle" fill="#231f20" stroke="#231f20" stroke-width="0.1">10<tspan font-size="3.8" dy="-2.5">5</tspan></text>
<line x1="212.628" y1="416.7" x2="212.628" y2="417.9" stroke="#555" stroke-width="0.5"/>
<line x1="214.892" y1="416.7" x2="214.892" y2="417.9" stroke="#555" stroke-width="0.5"/>
<line x1="216.59" y1="416.7" x2="216.59" y2="417.9" stroke="#555" stroke-width="0.5"/>
<line x1="217.72199999999998" y1="416.7" x2="217.72199999999998" y2="417.9" stroke="#555" stroke-width="0.5"/>
<line x1="225.07999999999998" y1="416.7" x2="225.07999999999998" y2="417.9" stroke="#555" stroke-width="0.5"/>
<line x1="227.344" y1="416.7" x2="227.344" y2="417.9" stroke="#555" stroke-width="0.5"/>
<line x1="229.042" y1="416.7" x2="229.042" y2="417.9" stroke="#555" stroke-width="0.5"/>
<line x1="233.57" y1="416.7" x2="233.57" y2="417.9" stroke="#555" stroke-width="0.5"/>
<line x1="236.39999999999998" y1="416.7" x2="236.39999999999998" y2="417.9" stroke="#555" stroke-width="0.5"/>
<line x1="239.23" y1="416.7" x2="239.23" y2="417.9" stroke="#555" stroke-width="0.5"/>
<line x1="240.928" y1="416.7" x2="240.928" y2="417.9" stroke="#555" stroke-width="0.5"/>
<line x1="243.192" y1="416.7" x2="243.192" y2="417.9" stroke="#555" stroke-width="0.5"/>
<line x1="244.32399999999998" y1="416.7" x2="244.32399999999998" y2="417.9" stroke="#555" stroke-width="0.5"/>
<line x1="250.54999999999998" y1="416.7" x2="250.54999999999998" y2="417.9" stroke="#555" stroke-width="0.5"/>
<line x1="252.814" y1="416.7" x2="252.814" y2="417.9" stroke="#555" stroke-width="0.5"/>
<line x1="254.512" y1="416.7" x2="254.512" y2="417.9" stroke="#555" stroke-width="0.5"/>
<line x1="256.21" y1="416.7" x2="256.21" y2="417.9" stroke="#555" stroke-width="0.5"/>
<line x1="261.87" y1="416.7" x2="261.87" y2="417.9" stroke="#555" stroke-width="0.5"/>
<line x1="263.568" y1="416.7" x2="263.568" y2="417.9" stroke="#555" stroke-width="0.5"/>
<rect x="220.00877192982455" y="416.7" width="2" height="2" fill="#231f20"/>
<rect x="271.1" y="360.4" width="56.39999999999998" height="56.30000000000001" fill="none" stroke="#333" stroke-width="1.05"/>
<line x1="269.1" y1="363.0" x2="271.1" y2="363.0" stroke="#231f20" stroke-width="0.8"/>
<line x1="269.1" y1="373.65" x2="271.1" y2="373.65" stroke="#231f20" stroke-width="0.8"/>
<line x1="269.1" y1="384.3" x2="271.1" y2="384.3" stroke="#231f20" stroke-width="0.8"/>
<line x1="269.1" y1="394.95" x2="271.1" y2="394.95" stroke="#231f20" stroke-width="0.8"/>
<line x1="269.1" y1="405.59999999999997" x2="271.1" y2="405.59999999999997" stroke="#231f20" stroke-width="0.8"/>
<line x1="269.1" y1="416.25" x2="271.1" y2="416.25" stroke="#231f20" stroke-width="0.8"/>
<line x1="274.36526315789473" y1="416.7" x2="274.36526315789473" y2="418.7" stroke="#231f20" stroke-width="0.8"/>
<text x="274.96526315789475" y="428.0" font-size="5.9" text-anchor="middle" fill="#231f20" stroke="#231f20" stroke-width="0.1">-10<tspan font-size="3.8" dy="-2.5">3</tspan></text>
<line x1="283.96315789473687" y1="416.7" x2="283.96315789473687" y2="418.7" stroke="#231f20" stroke-width="0.8"/>
<text x="283.96315789473687" y="428.0" font-size="5.9" text-anchor="middle" fill="#231f20" stroke="#231f20" stroke-width="0.12">0</text>
<line x1="293.16526315789474" y1="416.7" x2="293.16526315789474" y2="418.7" stroke="#231f20" stroke-width="0.8"/>
<text x="293.76526315789476" y="428.0" font-size="5.9" text-anchor="middle" fill="#231f20" stroke="#231f20" stroke-width="0.1">10<tspan font-size="3.8" dy="-2.5">3</tspan></text>
<line x1="309.88736842105266" y1="416.7" x2="309.88736842105266" y2="418.7" stroke="#231f20" stroke-width="0.8"/>
<text x="310.4873684210527" y="428.0" font-size="5.9" text-anchor="middle" fill="#231f20" stroke="#231f20" stroke-width="0.1">10<tspan font-size="3.8" dy="-2.5">4</tspan></text>
<line x1="322.0578947368421" y1="416.7" x2="322.0578947368421" y2="418.7" stroke="#231f20" stroke-width="0.8"/>
<text x="322.65789473684214" y="428.0" font-size="5.9" text-anchor="middle" fill="#231f20" stroke="#231f20" stroke-width="0.1">10<tspan font-size="3.8" dy="-2.5">5</tspan></text>
<line x1="275.612" y1="416.7" x2="275.612" y2="417.9" stroke="#555" stroke-width="0.5"/>
<line x1="277.868" y1="416.7" x2="277.868" y2="417.9" stroke="#555" stroke-width="0.5"/>
<line x1="279.56" y1="416.7" x2="279.56" y2="417.9" stroke="#555" stroke-width="0.5"/>
<line x1="280.68800000000005" y1="416.7" x2="280.68800000000005" y2="417.9" stroke="#555" stroke-width="0.5"/>
<line x1="288.02000000000004" y1="416.7" x2="288.02000000000004" y2="417.9" stroke="#555" stroke-width="0.5"/>
<line x1="290.276" y1="416.7" x2="290.276" y2="417.9" stroke="#555" stroke-width="0.5"/>
<line x1="291.968" y1="416.7" x2="291.968" y2="417.9" stroke="#555" stroke-width="0.5"/>
<line x1="296.48" y1="416.7" x2="296.48" y2="417.9" stroke="#555" stroke-width="0.5"/>
<line x1="299.3" y1="416.7" x2="299.3" y2="417.9" stroke="#555" stroke-width="0.5"/>
<line x1="302.12" y1="416.7" x2="302.12" y2="417.9" stroke="#555" stroke-width="0.5"/>
<line x1="303.812" y1="416.7" x2="303.812" y2="417.9" stroke="#555" stroke-width="0.5"/>
<line x1="306.068" y1="416.7" x2="306.068" y2="417.9" stroke="#555" stroke-width="0.5"/>
<line x1="307.196" y1="416.7" x2="307.196" y2="417.9" stroke="#555" stroke-width="0.5"/>
<line x1="313.4" y1="416.7" x2="313.4" y2="417.9" stroke="#555" stroke-width="0.5"/>
<line x1="315.656" y1="416.7" x2="315.656" y2="417.9" stroke="#555" stroke-width="0.5"/>
<line x1="317.348" y1="416.7" x2="317.348" y2="417.9" stroke="#555" stroke-width="0.5"/>
<line x1="319.04" y1="416.7" x2="319.04" y2="417.9" stroke="#555" stroke-width="0.5"/>
<line x1="324.68" y1="416.7" x2="324.68" y2="417.9" stroke="#555" stroke-width="0.5"/>
<line x1="326.372" y1="416.7" x2="326.372" y2="417.9" stroke="#555" stroke-width="0.5"/>
<rect x="282.96315789473687" y="416.7" width="2" height="2" fill="#231f20"/>
<text x="182.8" y="388.7" font-size="8.4" text-anchor="middle" fill="#231f20" stroke="#231f20" stroke-width="0.12" textLength="20.6" lengthAdjust="spacingAndGlyphs" transform="rotate(-90 182.8 388.7)">SSC-A</text>
<text x="267.9" y="440.3" font-size="8.4" text-anchor="middle" fill="#231f20" stroke="#231f20" stroke-width="0.12" textLength="19.7" lengthAdjust="spacingAndGlyphs">CD16</text>
<text x="212" y="368.7" font-size="7.0" text-anchor="start" fill="#231f20" stroke="#231f20" stroke-width="0.12" textLength="15" lengthAdjust="spacingAndGlyphs">2.5%</text>
<text x="276.6" y="368.7" font-size="7.0" text-anchor="start" fill="#231f20" stroke="#231f20" stroke-width="0.12" textLength="15" lengthAdjust="spacingAndGlyphs">2.3%</text>
<g><path d="M220.3,415.3 C219.8,408 219.6,400 221.5,397.2 C223.3,395.5 225,398 225.5,402 C226,405.5 227.5,407.5 230,407 C233,406.3 236,403 238.5,402.8 C241,402.8 241.2,406 240.2,409 C239,412 234,413.6 228,414.6 C224.5,415.3 222,415.8 220.3,415.3 Z" transform="translate(229 410.5) scale(1.000) translate(-229 -410.5)" fill="rgb(225,225,225)" stroke="rgb(165,165,165)" stroke-width="0.5" vector-effect="non-scaling-stroke"/><path d="M220.3,415.3 C219.8,408 219.6,400 221.5,397.2 C223.3,395.5 225,398 225.5,402 C226,405.5 227.5,407.5 230,407 C233,406.3 236,403 238.5,402.8 C241,402.8 241.2,406 240.2,409 C239,412 234,413.6 228,414.6 C224.5,415.3 222,415.8 220.3,415.3 Z" transform="translate(229 410.5) scale(0.817) translate(-229 -410.5)" fill="rgb(215,215,215)" stroke="rgb(155,155,155)" stroke-width="0.5" vector-effect="non-scaling-stroke"/><path d="M220.3,415.3 C219.8,408 219.6,400 221.5,397.2 C223.3,395.5 225,398 225.5,402 C226,405.5 227.5,407.5 230,407 C233,406.3 236,403 238.5,402.8 C241,402.8 241.2,406 240.2,409 C239,412 234,413.6 228,414.6 C224.5,415.3 222,415.8 220.3,415.3 Z" transform="translate(229 410.5) scale(0.633) translate(-229 -410.5)" fill="rgb(205,205,205)" stroke="rgb(145,145,145)" stroke-width="0.5" vector-effect="non-scaling-stroke"/><path d="M220.3,415.3 C219.8,408 219.6,400 221.5,397.2 C223.3,395.5 225,398 225.5,402 C226,405.5 227.5,407.5 230,407 C233,406.3 236,403 238.5,402.8 C241,402.8 241.2,406 240.2,409 C239,412 234,413.6 228,414.6 C224.5,415.3 222,415.8 220.3,415.3 Z" transform="translate(229 410.5) scale(0.450) translate(-229 -410.5)" fill="rgb(195,195,195)" stroke="rgb(135,135,135)" stroke-width="0.5" vector-effect="non-scaling-stroke"/></g>
<g><path d="M224.90,406.50 L224.81,408.91 L224.57,411.15 L224.17,413.08 L223.65,414.55 L223.05,415.48 L222.40,415.80 L221.75,415.48 L221.15,414.55 L220.63,413.08 L220.23,411.15 L219.99,408.91 L219.90,406.50 L219.99,404.09 L220.23,401.85 L220.63,399.92 L221.15,398.45 L221.75,397.52 L222.40,397.20 L223.05,397.52 L223.65,398.45 L224.17,399.92 L224.57,401.85 L224.81,404.09 Z" transform="translate(222.2 410) scale(1.000) translate(-222.2 -410)" fill="rgb(190,190,190)" stroke="rgb(145,145,145)" stroke-width="0.5" vector-effect="non-scaling-stroke"/><path d="M224.90,406.50 L224.81,408.91 L224.57,411.15 L224.17,413.08 L223.65,414.55 L223.05,415.48 L222.40,415.80 L221.75,415.48 L221.15,414.55 L220.63,413.08 L220.23,411.15 L219.99,408.91 L219.90,406.50 L219.99,404.09 L220.23,401.85 L220.63,399.92 L221.15,398.45 L221.75,397.52 L222.40,397.20 L223.05,397.52 L223.65,398.45 L224.17,399.92 L224.57,401.85 L224.81,404.09 Z" transform="translate(222.2 410) scale(0.830) translate(-222.2 -410)" fill="rgb(157,157,157)" stroke="rgb(112,112,112)" stroke-width="0.5" vector-effect="non-scaling-stroke"/><path d="M224.90,406.50 L224.81,408.91 L224.57,411.15 L224.17,413.08 L223.65,414.55 L223.05,415.48 L222.40,415.80 L221.75,415.48 L221.15,414.55 L220.63,413.08 L220.23,411.15 L219.99,408.91 L219.90,406.50 L219.99,404.09 L220.23,401.85 L220.63,399.92 L221.15,398.45 L221.75,397.52 L222.40,397.20 L223.05,397.52 L223.65,398.45 L224.17,399.92 L224.57,401.85 L224.81,404.09 Z" transform="translate(222.2 410) scale(0.660) translate(-222.2 -410)" fill="rgb(124,124,124)" stroke="rgb(79,79,79)" stroke-width="0.5" vector-effect="non-scaling-stroke"/><path d="M224.90,406.50 L224.81,408.91 L224.57,411.15 L224.17,413.08 L223.65,414.55 L223.05,415.48 L222.40,415.80 L221.75,415.48 L221.15,414.55 L220.63,413.08 L220.23,411.15 L219.99,408.91 L219.90,406.50 L219.99,404.09 L220.23,401.85 L220.63,399.92 L221.15,398.45 L221.75,397.52 L222.40,397.20 L223.05,397.52 L223.65,398.45 L224.17,399.92 L224.57,401.85 L224.81,404.09 Z" transform="translate(222.2 410) scale(0.490) translate(-222.2 -410)" fill="rgb(91,91,91)" stroke="rgb(46,46,46)" stroke-width="0.5" vector-effect="non-scaling-stroke"/><path d="M224.90,406.50 L224.81,408.91 L224.57,411.15 L224.17,413.08 L223.65,414.55 L223.05,415.48 L222.40,415.80 L221.75,415.48 L221.15,414.55 L220.63,413.08 L220.23,411.15 L219.99,408.91 L219.90,406.50 L219.99,404.09 L220.23,401.85 L220.63,399.92 L221.15,398.45 L221.75,397.52 L222.40,397.20 L223.05,397.52 L223.65,398.45 L224.17,399.92 L224.57,401.85 L224.81,404.09 Z" transform="translate(222.2 410) scale(0.320) translate(-222.2 -410)" fill="rgb(58,58,58)" stroke="rgb(13,13,13)" stroke-width="0.5" vector-effect="non-scaling-stroke"/><path d="M224.90,406.50 L224.81,408.91 L224.57,411.15 L224.17,413.08 L223.65,414.55 L223.05,415.48 L222.40,415.80 L221.75,415.48 L221.15,414.55 L220.63,413.08 L220.23,411.15 L219.99,408.91 L219.90,406.50 L219.99,404.09 L220.23,401.85 L220.63,399.92 L221.15,398.45 L221.75,397.52 L222.40,397.20 L223.05,397.52 L223.65,398.45 L224.17,399.92 L224.57,401.85 L224.81,404.09 Z" transform="translate(222.2 410) scale(0.150) translate(-222.2 -410)" fill="rgb(25,25,25)" stroke="rgb(0,0,0)" stroke-width="0.5" vector-effect="non-scaling-stroke"/></g>
<path d="M224.5,411.5 C228,410.5 232,410.8 237,409.5" fill="none" stroke="#999" stroke-width="0.5"/>
<rect x="240.8" y="369.6" width="11.1" height="34.9" fill="none" stroke="#666" stroke-width="0.75"/>
<g><path d="M248.97,394.63 L248.57,396.72 L247.99,398.63 L247.26,400.25 L246.45,401.45 L245.59,402.16 L244.76,402.32 L244.00,401.93 L243.38,401.02 L242.92,399.64 L242.67,397.89 L242.64,395.88 L242.83,393.77 L243.23,391.68 L243.81,389.77 L244.54,388.15 L245.35,386.95 L246.21,386.24 L247.04,386.08 L247.80,386.47 L248.42,387.38 L248.88,388.76 L249.13,390.51 L249.16,392.52 Z" transform="translate(245.9 394.5) scale(1.000) translate(-245.9 -394.5)" fill="rgb(242,242,242)" stroke="rgb(132,132,132)" stroke-width="0.55" vector-effect="non-scaling-stroke"/><path d="M248.97,394.63 L248.57,396.72 L247.99,398.63 L247.26,400.25 L246.45,401.45 L245.59,402.16 L244.76,402.32 L244.00,401.93 L243.38,401.02 L242.92,399.64 L242.67,397.89 L242.64,395.88 L242.83,393.77 L243.23,391.68 L243.81,389.77 L244.54,388.15 L245.35,386.95 L246.21,386.24 L247.04,386.08 L247.80,386.47 L248.42,387.38 L248.88,388.76 L249.13,390.51 L249.16,392.52 Z" transform="translate(245.9 394.5) scale(0.675) translate(-245.9 -394.5)" fill="rgb(241,241,241)" stroke="rgb(131,131,131)" stroke-width="0.55" vector-effect="non-scaling-stroke"/><path d="M248.97,394.63 L248.57,396.72 L247.99,398.63 L247.26,400.25 L246.45,401.45 L245.59,402.16 L244.76,402.32 L244.00,401.93 L243.38,401.02 L242.92,399.64 L242.67,397.89 L242.64,395.88 L242.83,393.77 L243.23,391.68 L243.81,389.77 L244.54,388.15 L245.35,386.95 L246.21,386.24 L247.04,386.08 L247.80,386.47 L248.42,387.38 L248.88,388.76 L249.13,390.51 L249.16,392.52 Z" transform="translate(245.9 394.5) scale(0.350) translate(-245.9 -394.5)" fill="rgb(240,240,240)" stroke="rgb(130,130,130)" stroke-width="0.55" vector-effect="non-scaling-stroke"/></g>
<g><path d="M286.40,380.00 L286.32,382.74 L286.08,385.30 L285.70,387.50 L285.20,389.18 L284.62,390.24 L284.00,390.60 L283.38,390.24 L282.80,389.18 L282.30,387.50 L281.92,385.30 L281.68,382.74 L281.60,380.00 L281.68,377.26 L281.92,374.70 L282.30,372.50 L282.80,370.82 L283.38,369.76 L284.00,369.40 L284.62,369.76 L285.20,370.82 L285.70,372.50 L286.08,374.70 L286.32,377.26 Z" transform="translate(284.0 380.5) scale(1.000) translate(-284.0 -380.5)" fill="rgb(200,200,200)" stroke="rgb(155,155,155)" stroke-width="0.5" vector-effect="non-scaling-stroke"/><path d="M286.40,380.00 L286.32,382.74 L286.08,385.30 L285.70,387.50 L285.20,389.18 L284.62,390.24 L284.00,390.60 L283.38,390.24 L282.80,389.18 L282.30,387.50 L281.92,385.30 L281.68,382.74 L281.60,380.00 L281.68,377.26 L281.92,374.70 L282.30,372.50 L282.80,370.82 L283.38,369.76 L284.00,369.40 L284.62,369.76 L285.20,370.82 L285.70,372.50 L286.08,374.70 L286.32,377.26 Z" transform="translate(284.0 380.5) scale(0.830) translate(-284.0 -380.5)" fill="rgb(167,167,167)" stroke="rgb(122,122,122)" stroke-width="0.5" vector-effect="non-scaling-stroke"/><path d="M286.40,380.00 L286.32,382.74 L286.08,385.30 L285.70,387.50 L285.20,389.18 L284.62,390.24 L284.00,390.60 L283.38,390.24 L282.80,389.18 L282.30,387.50 L281.92,385.30 L281.68,382.74 L281.60,380.00 L281.68,377.26 L281.92,374.70 L282.30,372.50 L282.80,370.82 L283.38,369.76 L284.00,369.40 L284.62,369.76 L285.20,370.82 L285.70,372.50 L286.08,374.70 L286.32,377.26 Z" transform="translate(284.0 380.5) scale(0.660) translate(-284.0 -380.5)" fill="rgb(134,134,134)" stroke="rgb(89,89,89)" stroke-width="0.5" vector-effect="non-scaling-stroke"/><path d="M286.40,380.00 L286.32,382.74 L286.08,385.30 L285.70,387.50 L285.20,389.18 L284.62,390.24 L284.00,390.60 L283.38,390.24 L282.80,389.18 L282.30,387.50 L281.92,385.30 L281.68,382.74 L281.60,380.00 L281.68,377.26 L281.92,374.70 L282.30,372.50 L282.80,370.82 L283.38,369.76 L284.00,369.40 L284.62,369.76 L285.20,370.82 L285.70,372.50 L286.08,374.70 L286.32,377.26 Z" transform="translate(284.0 380.5) scale(0.490) translate(-284.0 -380.5)" fill="rgb(101,101,101)" stroke="rgb(56,56,56)" stroke-width="0.5" vector-effect="non-scaling-stroke"/><path d="M286.40,380.00 L286.32,382.74 L286.08,385.30 L285.70,387.50 L285.20,389.18 L284.62,390.24 L284.00,390.60 L283.38,390.24 L282.80,389.18 L282.30,387.50 L281.92,385.30 L281.68,382.74 L281.60,380.00 L281.68,377.26 L281.92,374.70 L282.30,372.50 L282.80,370.82 L283.38,369.76 L284.00,369.40 L284.62,369.76 L285.20,370.82 L285.70,372.50 L286.08,374.70 L286.32,377.26 Z" transform="translate(284.0 380.5) scale(0.320) translate(-284.0 -380.5)" fill="rgb(68,68,68)" stroke="rgb(23,23,23)" stroke-width="0.5" vector-effect="non-scaling-stroke"/><path d="M286.40,380.00 L286.32,382.74 L286.08,385.30 L285.70,387.50 L285.20,389.18 L284.62,390.24 L284.00,390.60 L283.38,390.24 L282.80,389.18 L282.30,387.50 L281.92,385.30 L281.68,382.74 L281.60,380.00 L281.68,377.26 L281.92,374.70 L282.30,372.50 L282.80,370.82 L283.38,369.76 L284.00,369.40 L284.62,369.76 L285.20,370.82 L285.70,372.50 L286.08,374.70 L286.32,377.26 Z" transform="translate(284.0 380.5) scale(0.150) translate(-284.0 -380.5)" fill="rgb(35,35,35)" stroke="rgb(0,0,0)" stroke-width="0.5" vector-effect="non-scaling-stroke"/></g>
<rect x="298.5" y="365.6" width="16.2" height="37.7" fill="none" stroke="#666" stroke-width="0.75"/>
<path d="M286.5,400 C292,399 297,393.5 299.5,391.3 C302,389.6 304.6,390 304.6,394 C304.6,398 303.5,404 301.5,407" fill="none" stroke="#888" stroke-width="0.5"/>
<g><path d="M282.2,415.8 C281.6,408 281.6,397 283.5,393.5 C285.3,391.5 287.5,395.5 289,399.5 C291,403.5 294.5,403.5 298,401.5 C301,400 304,400.5 304.2,404.5 C304.3,408.5 301,411.2 295,412.8 C290,414.3 285,416.3 282.2,415.8 Z" transform="translate(291 408) scale(1.000) translate(-291 -408)" fill="rgb(222,222,222)" stroke="rgb(162,162,162)" stroke-width="0.5" vector-effect="non-scaling-stroke"/><path d="M282.2,415.8 C281.6,408 281.6,397 283.5,393.5 C285.3,391.5 287.5,395.5 289,399.5 C291,403.5 294.5,403.5 298,401.5 C301,400 304,400.5 304.2,404.5 C304.3,408.5 301,411.2 295,412.8 C290,414.3 285,416.3 282.2,415.8 Z" transform="translate(291 408) scale(0.817) translate(-291 -408)" fill="rgb(210,210,210)" stroke="rgb(150,150,150)" stroke-width="0.5" vector-effect="non-scaling-stroke"/><path d="M282.2,415.8 C281.6,408 281.6,397 283.5,393.5 C285.3,391.5 287.5,395.5 289,399.5 C291,403.5 294.5,403.5 298,401.5 C301,400 304,400.5 304.2,404.5 C304.3,408.5 301,411.2 295,412.8 C290,414.3 285,416.3 282.2,415.8 Z" transform="translate(291 408) scale(0.633) translate(-291 -408)" fill="rgb(197,197,197)" stroke="rgb(137,137,137)" stroke-width="0.5" vector-effect="non-scaling-stroke"/><path d="M282.2,415.8 C281.6,408 281.6,397 283.5,393.5 C285.3,391.5 287.5,395.5 289,399.5 C291,403.5 294.5,403.5 298,401.5 C301,400 304,400.5 304.2,404.5 C304.3,408.5 301,411.2 295,412.8 C290,414.3 285,416.3 282.2,415.8 Z" transform="translate(291 408) scale(0.450) translate(-291 -408)" fill="rgb(185,185,185)" stroke="rgb(125,125,125)" stroke-width="0.5" vector-effect="non-scaling-stroke"/></g>
<g><path d="M286.90,405.00 L286.81,407.80 L286.55,410.40 L286.14,412.64 L285.60,414.35 L284.97,415.43 L284.30,415.80 L283.63,415.43 L283.00,414.35 L282.46,412.64 L282.05,410.40 L281.79,407.80 L281.70,405.00 L281.79,402.20 L282.05,399.60 L282.46,397.36 L283.00,395.65 L283.63,394.57 L284.30,394.20 L284.97,394.57 L285.60,395.65 L286.14,397.36 L286.55,399.60 L286.81,402.20 Z" transform="translate(284.2 406) scale(1.000) translate(-284.2 -406)" fill="rgb(185,185,185)" stroke="rgb(140,140,140)" stroke-width="0.5" vector-effect="non-scaling-stroke"/><path d="M286.90,405.00 L286.81,407.80 L286.55,410.40 L286.14,412.64 L285.60,414.35 L284.97,415.43 L284.30,415.80 L283.63,415.43 L283.00,414.35 L282.46,412.64 L282.05,410.40 L281.79,407.80 L281.70,405.00 L281.79,402.20 L282.05,399.60 L282.46,397.36 L283.00,395.65 L283.63,394.57 L284.30,394.20 L284.97,394.57 L285.60,395.65 L286.14,397.36 L286.55,399.60 L286.81,402.20 Z" transform="translate(284.2 406) scale(0.858) translate(-284.2 -406)" fill="rgb(158,158,158)" stroke="rgb(113,113,113)" stroke-width="0.5" vector-effect="non-scaling-stroke"/><path d="M286.90,405.00 L286.81,407.80 L286.55,410.40 L286.14,412.64 L285.60,414.35 L284.97,415.43 L284.30,415.80 L283.63,415.43 L283.00,414.35 L282.46,412.64 L282.05,410.40 L281.79,407.80 L281.70,405.00 L281.79,402.20 L282.05,399.60 L282.46,397.36 L283.00,395.65 L283.63,394.57 L284.30,394.20 L284.97,394.57 L285.60,395.65 L286.14,397.36 L286.55,399.60 L286.81,402.20 Z" transform="translate(284.2 406) scale(0.717) translate(-284.2 -406)" fill="rgb(130,130,130)" stroke="rgb(85,85,85)" stroke-width="0.5" vector-effect="non-scaling-stroke"/><path d="M286.90,405.00 L286.81,407.80 L286.55,410.40 L286.14,412.64 L285.60,414.35 L284.97,415.43 L284.30,415.80 L283.63,415.43 L283.00,414.35 L282.46,412.64 L282.05,410.40 L281.79,407.80 L281.70,405.00 L281.79,402.20 L282.05,399.60 L282.46,397.36 L283.00,395.65 L283.63,394.57 L284.30,394.20 L284.97,394.57 L285.60,395.65 L286.14,397.36 L286.55,399.60 L286.81,402.20 Z" transform="translate(284.2 406) scale(0.575) translate(-284.2 -406)" fill="rgb(102,102,102)" stroke="rgb(57,57,57)" stroke-width="0.5" vector-effect="non-scaling-stroke"/><path d="M286.90,405.00 L286.81,407.80 L286.55,410.40 L286.14,412.64 L285.60,414.35 L284.97,415.43 L284.30,415.80 L283.63,415.43 L283.00,414.35 L282.46,412.64 L282.05,410.40 L281.79,407.80 L281.70,405.00 L281.79,402.20 L282.05,399.60 L282.46,397.36 L283.00,395.65 L283.63,394.57 L284.30,394.20 L284.97,394.57 L285.60,395.65 L286.14,397.36 L286.55,399.60 L286.81,402.20 Z" transform="translate(284.2 406) scale(0.433) translate(-284.2 -406)" fill="rgb(75,75,75)" stroke="rgb(30,30,30)" stroke-width="0.5" vector-effect="non-scaling-stroke"/><path d="M286.90,405.00 L286.81,407.80 L286.55,410.40 L286.14,412.64 L285.60,414.35 L284.97,415.43 L284.30,415.80 L283.63,415.43 L283.00,414.35 L282.46,412.64 L282.05,410.40 L281.79,407.80 L281.70,405.00 L281.79,402.20 L282.05,399.60 L282.46,397.36 L283.00,395.65 L283.63,394.57 L284.30,394.20 L284.97,394.57 L285.60,395.65 L286.14,397.36 L286.55,399.60 L286.81,402.20 Z" transform="translate(284.2 406) scale(0.292) translate(-284.2 -406)" fill="rgb(48,48,48)" stroke="rgb(3,3,3)" stroke-width="0.5" vector-effect="non-scaling-stroke"/><path d="M286.90,405.00 L286.81,407.80 L286.55,410.40 L286.14,412.64 L285.60,414.35 L284.97,415.43 L284.30,415.80 L283.63,415.43 L283.00,414.35 L282.46,412.64 L282.05,410.40 L281.79,407.80 L281.70,405.00 L281.79,402.20 L282.05,399.60 L282.46,397.36 L283.00,395.65 L283.63,394.57 L284.30,394.20 L284.97,394.57 L285.60,395.65 L286.14,397.36 L286.55,399.60 L286.81,402.20 Z" transform="translate(284.2 406) scale(0.150) translate(-284.2 -406)" fill="rgb(20,20,20)" stroke="rgb(0,0,0)" stroke-width="0.5" vector-effect="non-scaling-stroke"/></g>
<path d="M287,409.5 C291,408.5 296,409 301,407" fill="none" stroke="#aaa" stroke-width="0.5"/>
<polygon points="241.30,409.61 244.70,409.59 244.79,438.29 246.59,438.29 243.10,441.70 239.59,438.31 241.39,438.31" fill="#a8a8a8" stroke="#2a2a2a" stroke-width="0.7" stroke-linejoin="miter"/>
<polygon points="303.30,409.61 306.70,409.59 306.79,438.29 308.59,438.29 305.10,441.70 301.59,438.31 303.39,438.31" fill="#a8a8a8" stroke="#2a2a2a" stroke-width="0.7" stroke-linejoin="miter"/>
<rect x="208.4" y="446.5" width="56.400000000000006" height="56.19999999999999" fill="none" stroke="#333" stroke-width="1.05"/>
<line x1="206.4" y1="452.3207142857143" x2="208.4" y2="452.3207142857143" stroke="#231f20" stroke-width="0.8"/>
<text x="205.0" y="454.3207142857143" font-size="5.9" text-anchor="end" fill="#231f20" stroke="#231f20" stroke-width="0.1">10<tspan font-size="3.8" dy="-2.5">5</tspan></text>
<line x1="206.4" y1="465.3671428571429" x2="208.4" y2="465.3671428571429" stroke="#231f20" stroke-width="0.8"/>
<text x="205.0" y="467.3671428571429" font-size="5.9" text-anchor="end" fill="#231f20" stroke="#231f20" stroke-width="0.1">10<tspan font-size="3.8" dy="-2.5">4</tspan></text>
<line x1="206.4" y1="480.62142857142857" x2="208.4" y2="480.62142857142857" stroke="#231f20" stroke-width="0.8"/>
<text x="205.0" y="482.62142857142857" font-size="5.9" text-anchor="end" fill="#231f20" stroke="#231f20" stroke-width="0.1">10<tspan font-size="3.8" dy="-2.5">3</tspan></text>
<line x1="206.4" y1="490.3560714285714" x2="208.4" y2="490.3560714285714" stroke="#231f20" stroke-width="0.8"/>
<text x="202.8" y="492.3560714285714" font-size="5.9" text-anchor="end" fill="#231f20" stroke="#231f20" stroke-width="0.12">0</text>
<line x1="206.4" y1="500.19107142857143" x2="208.4" y2="500.19107142857143" stroke="#231f20" stroke-width="0.8"/>
<text x="205.0" y="502.19107142857143" font-size="5.9" text-anchor="end" fill="#231f20" stroke="#231f20" stroke-width="0.1">-10<tspan font-size="3.8" dy="-2.5">3</tspan></text>
<line x1="207.20000000000002" y1="454.93" x2="208.4" y2="454.93" stroke="#555" stroke-width="0.5"/>
<line x1="207.20000000000002" y1="457.74" x2="208.4" y2="457.74" stroke="#555" stroke-width="0.5"/>
<line x1="207.20000000000002" y1="459.988" x2="208.4" y2="459.988" stroke="#555" stroke-width="0.5"/>
<line x1="207.20000000000002" y1="461.674" x2="208.4" y2="461.674" stroke="#555" stroke-width="0.5"/>
<line x1="207.20000000000002" y1="462.798" x2="208.4" y2="462.798" stroke="#555" stroke-width="0.5"/>
<line x1="207.20000000000002" y1="470.104" x2="208.4" y2="470.104" stroke="#555" stroke-width="0.5"/>
<line x1="207.20000000000002" y1="472.914" x2="208.4" y2="472.914" stroke="#555" stroke-width="0.5"/>
<line x1="207.20000000000002" y1="474.6" x2="208.4" y2="474.6" stroke="#555" stroke-width="0.5"/>
<line x1="207.20000000000002" y1="475.724" x2="208.4" y2="475.724" stroke="#555" stroke-width="0.5"/>
<line x1="207.20000000000002" y1="483.592" x2="208.4" y2="483.592" stroke="#555" stroke-width="0.5"/>
<line x1="207.20000000000002" y1="485.84" x2="208.4" y2="485.84" stroke="#555" stroke-width="0.5"/>
<line x1="207.20000000000002" y1="486.964" x2="208.4" y2="486.964" stroke="#555" stroke-width="0.5"/>
<line x1="207.20000000000002" y1="493.70799999999997" x2="208.4" y2="493.70799999999997" stroke="#555" stroke-width="0.5"/>
<line x1="207.20000000000002" y1="495.394" x2="208.4" y2="495.394" stroke="#555" stroke-width="0.5"/>
<line x1="207.20000000000002" y1="497.08" x2="208.4" y2="497.08" stroke="#555" stroke-width="0.5"/>
<line x1="207.20000000000002" y1="498.76599999999996" x2="208.4" y2="498.76599999999996" stroke="#555" stroke-width="0.5"/>
<line x1="207.20000000000002" y1="501.014" x2="208.4" y2="501.014" stroke="#555" stroke-width="0.5"/>
<rect x="206.20000000000002" y="489.3560714285714" width="2.2" height="2" fill="#231f20"/>
<line x1="211.66526315789474" y1="502.7" x2="211.66526315789474" y2="504.7" stroke="#231f20" stroke-width="0.8"/>
<text x="212.26526315789474" y="514.0" font-size="5.9" text-anchor="middle" fill="#231f20" stroke="#231f20" stroke-width="0.1">-10<tspan font-size="3.8" dy="-2.5">3</tspan></text>
<line x1="221.26315789473685" y1="502.7" x2="221.26315789473685" y2="504.7" stroke="#231f20" stroke-width="0.8"/>
<text x="221.26315789473685" y="514.0" font-size="5.9" text-anchor="middle" fill="#231f20" stroke="#231f20" stroke-width="0.12">0</text>
<line x1="230.46526315789475" y1="502.7" x2="230.46526315789475" y2="504.7" stroke="#231f20" stroke-width="0.8"/>
<text x="231.06526315789475" y="514.0" font-size="5.9" text-anchor="middle" fill="#231f20" stroke="#231f20" stroke-width="0.1">10<tspan font-size="3.8" dy="-2.5">3</tspan></text>
<line x1="247.18736842105264" y1="502.7" x2="247.18736842105264" y2="504.7" stroke="#231f20" stroke-width="0.8"/>
<text x="247.78736842105263" y="514.0" font-size="5.9" text-anchor="middle" fill="#231f20" stroke="#231f20" stroke-width="0.1">10<tspan font-size="3.8" dy="-2.5">4</tspan></text>
<line x1="259.3578947368421" y1="502.7" x2="259.3578947368421" y2="504.7" stroke="#231f20" stroke-width="0.8"/>
<text x="259.95789473684215" y="514.0" font-size="5.9" text-anchor="middle" fill="#231f20" stroke="#231f20" stroke-width="0.1">10<tspan font-size="3.8" dy="-2.5">5</tspan></text>
<line x1="212.912" y1="502.7" x2="212.912" y2="503.9" stroke="#555" stroke-width="0.5"/>
<line x1="215.168" y1="502.7" x2="215.168" y2="503.9" stroke="#555" stroke-width="0.5"/>
<line x1="216.86" y1="502.7" x2="216.86" y2="503.9" stroke="#555" stroke-width="0.5"/>
<line x1="217.988" y1="502.7" x2="217.988" y2="503.9" stroke="#555" stroke-width="0.5"/>
<line x1="225.32" y1="502.7" x2="225.32" y2="503.9" stroke="#555" stroke-width="0.5"/>
<line x1="227.57600000000002" y1="502.7" x2="227.57600000000002" y2="503.9" stroke="#555" stroke-width="0.5"/>
<line x1="229.268" y1="502.7" x2="229.268" y2="503.9" stroke="#555" stroke-width="0.5"/>
<line x1="233.78" y1="502.7" x2="233.78" y2="503.9" stroke="#555" stroke-width="0.5"/>
<line x1="236.60000000000002" y1="502.7" x2="236.60000000000002" y2="503.9" stroke="#555" stroke-width="0.5"/>
<line x1="239.42000000000002" y1="502.7" x2="239.42000000000002" y2="503.9" stroke="#555" stroke-width="0.5"/>
<line x1="241.11200000000002" y1="502.7" x2="241.11200000000002" y2="503.9" stroke="#555" stroke-width="0.5"/>
<line x1="243.368" y1="502.7" x2="243.368" y2="503.9" stroke="#555" stroke-width="0.5"/>
<line x1="244.496" y1="502.7" x2="244.496" y2="503.9" stroke="#555" stroke-width="0.5"/>
<line x1="250.70000000000002" y1="502.7" x2="250.70000000000002" y2="503.9" stroke="#555" stroke-width="0.5"/>
<line x1="252.95600000000002" y1="502.7" x2="252.95600000000002" y2="503.9" stroke="#555" stroke-width="0.5"/>
<line x1="254.64800000000002" y1="502.7" x2="254.64800000000002" y2="503.9" stroke="#555" stroke-width="0.5"/>
<line x1="256.34000000000003" y1="502.7" x2="256.34000000000003" y2="503.9" stroke="#555" stroke-width="0.5"/>
<line x1="261.98" y1="502.7" x2="261.98" y2="503.9" stroke="#555" stroke-width="0.5"/>
<line x1="263.672" y1="502.7" x2="263.672" y2="503.9" stroke="#555" stroke-width="0.5"/>
<rect x="220.26315789473685" y="502.7" width="2" height="2" fill="#231f20"/>
<rect x="271.1" y="446.8" width="56.799999999999955" height="56.19999999999999" fill="none" stroke="#333" stroke-width="1.05"/>
<line x1="269.1" y1="452.6207142857143" x2="271.1" y2="452.6207142857143" stroke="#231f20" stroke-width="0.8"/>
<line x1="269.1" y1="465.6671428571429" x2="271.1" y2="465.6671428571429" stroke="#231f20" stroke-width="0.8"/>
<line x1="269.1" y1="480.9214285714286" x2="271.1" y2="480.9214285714286" stroke="#231f20" stroke-width="0.8"/>
<line x1="269.1" y1="490.6560714285714" x2="271.1" y2="490.6560714285714" stroke="#231f20" stroke-width="0.8"/>
<line x1="269.1" y1="500.49107142857144" x2="271.1" y2="500.49107142857144" stroke="#231f20" stroke-width="0.8"/>
<line x1="269.90000000000003" y1="455.23" x2="271.1" y2="455.23" stroke="#555" stroke-width="0.5"/>
<line x1="269.90000000000003" y1="458.04" x2="271.1" y2="458.04" stroke="#555" stroke-width="0.5"/>
<line x1="269.90000000000003" y1="460.288" x2="271.1" y2="460.288" stroke="#555" stroke-width="0.5"/>
<line x1="269.90000000000003" y1="461.974" x2="271.1" y2="461.974" stroke="#555" stroke-width="0.5"/>
<line x1="269.90000000000003" y1="463.098" x2="271.1" y2="463.098" stroke="#555" stroke-width="0.5"/>
<line x1="269.90000000000003" y1="470.404" x2="271.1" y2="470.404" stroke="#555" stroke-width="0.5"/>
<line x1="269.90000000000003" y1="473.214" x2="271.1" y2="473.214" stroke="#555" stroke-width="0.5"/>
<line x1="269.90000000000003" y1="474.9" x2="271.1" y2="474.9" stroke="#555" stroke-width="0.5"/>
<line x1="269.90000000000003" y1="476.024" x2="271.1" y2="476.024" stroke="#555" stroke-width="0.5"/>
<line x1="269.90000000000003" y1="483.892" x2="271.1" y2="483.892" stroke="#555" stroke-width="0.5"/>
<line x1="269.90000000000003" y1="486.14" x2="271.1" y2="486.14" stroke="#555" stroke-width="0.5"/>
<line x1="269.90000000000003" y1="487.264" x2="271.1" y2="487.264" stroke="#555" stroke-width="0.5"/>
<line x1="269.90000000000003" y1="494.008" x2="271.1" y2="494.008" stroke="#555" stroke-width="0.5"/>
<line x1="269.90000000000003" y1="495.694" x2="271.1" y2="495.694" stroke="#555" stroke-width="0.5"/>
<line x1="269.90000000000003" y1="497.38" x2="271.1" y2="497.38" stroke="#555" stroke-width="0.5"/>
<line x1="269.90000000000003" y1="499.06600000000003" x2="271.1" y2="499.06600000000003" stroke="#555" stroke-width="0.5"/>
<line x1="269.90000000000003" y1="501.314" x2="271.1" y2="501.314" stroke="#555" stroke-width="0.5"/>
<rect x="268.90000000000003" y="489.6560714285714" width="2.2" height="2" fill="#231f20"/>
<line x1="274.3884210526316" y1="503" x2="274.3884210526316" y2="505" stroke="#231f20" stroke-width="0.8"/>
<text x="274.9884210526316" y="514.3" font-size="5.9" text-anchor="middle" fill="#231f20" stroke="#231f20" stroke-width="0.1">-10<tspan font-size="3.8" dy="-2.5">3</tspan></text>
<line x1="284.0543859649123" y1="503" x2="284.0543859649123" y2="505" stroke="#231f20" stroke-width="0.8"/>
<text x="284.0543859649123" y="514.3" font-size="5.9" text-anchor="middle" fill="#231f20" stroke="#231f20" stroke-width="0.12">0</text>
<line x1="293.32175438596494" y1="503" x2="293.32175438596494" y2="505" stroke="#231f20" stroke-width="0.8"/>
<text x="293.92175438596496" y="514.3" font-size="5.9" text-anchor="middle" fill="#231f20" stroke="#231f20" stroke-width="0.1">10<tspan font-size="3.8" dy="-2.5">3</tspan></text>
<line x1="310.16245614035086" y1="503" x2="310.16245614035086" y2="505" stroke="#231f20" stroke-width="0.8"/>
<text x="310.7624561403509" y="514.3" font-size="5.9" text-anchor="middle" fill="#231f20" stroke="#231f20" stroke-width="0.1">10<tspan font-size="3.8" dy="-2.5">4</tspan></text>
<line x1="322.419298245614" y1="503" x2="322.419298245614" y2="505" stroke="#231f20" stroke-width="0.8"/>
<text x="323.01929824561404" y="514.3" font-size="5.9" text-anchor="middle" fill="#231f20" stroke="#231f20" stroke-width="0.1">10<tspan font-size="3.8" dy="-2.5">5</tspan></text>
<line x1="275.644" y1="503" x2="275.644" y2="504.2" stroke="#555" stroke-width="0.5"/>
<line x1="277.916" y1="503" x2="277.916" y2="504.2" stroke="#555" stroke-width="0.5"/>
<line x1="279.62" y1="503" x2="279.62" y2="504.2" stroke="#555" stroke-width="0.5"/>
<line x1="280.75600000000003" y1="503" x2="280.75600000000003" y2="504.2" stroke="#555" stroke-width="0.5"/>
<line x1="288.14" y1="503" x2="288.14" y2="504.2" stroke="#555" stroke-width="0.5"/>
<line x1="290.41200000000003" y1="503" x2="290.41200000000003" y2="504.2" stroke="#555" stroke-width="0.5"/>
<line x1="292.116" y1="503" x2="292.116" y2="504.2" stroke="#555" stroke-width="0.5"/>
<line x1="296.66" y1="503" x2="296.66" y2="504.2" stroke="#555" stroke-width="0.5"/>
<line x1="299.5" y1="503" x2="299.5" y2="504.2" stroke="#555" stroke-width="0.5"/>
<line x1="302.34" y1="503" x2="302.34" y2="504.2" stroke="#555" stroke-width="0.5"/>
<line x1="304.044" y1="503" x2="304.044" y2="504.2" stroke="#555" stroke-width="0.5"/>
<line x1="306.316" y1="503" x2="306.316" y2="504.2" stroke="#555" stroke-width="0.5"/>
<line x1="307.452" y1="503" x2="307.452" y2="504.2" stroke="#555" stroke-width="0.5"/>
<line x1="313.7" y1="503" x2="313.7" y2="504.2" stroke="#555" stroke-width="0.5"/>
<line x1="315.972" y1="503" x2="315.972" y2="504.2" stroke="#555" stroke-width="0.5"/>
<line x1="317.676" y1="503" x2="317.676" y2="504.2" stroke="#555" stroke-width="0.5"/>
<line x1="319.38" y1="503" x2="319.38" y2="504.2" stroke="#555" stroke-width="0.5"/>
<line x1="325.05999999999995" y1="503" x2="325.05999999999995" y2="504.2" stroke="#555" stroke-width="0.5"/>
<line x1="326.76399999999995" y1="503" x2="326.76399999999995" y2="504.2" stroke="#555" stroke-width="0.5"/>
<rect x="283.0543859649123" y="503" width="2" height="2" fill="#231f20"/>
<text x="188.6" y="474.5" font-size="8.5" text-anchor="middle" fill="#231f20" stroke="#231f20" stroke-width="0.12" textLength="19" lengthAdjust="spacingAndGlyphs" transform="rotate(-90 188.6 474.5)">CD63</text>
<text x="267.85" y="525.8" font-size="8.4" text-anchor="middle" fill="#231f20" stroke="#231f20" stroke-width="0.12" textLength="23.2" lengthAdjust="spacingAndGlyphs">CD66a</text>
<text x="212.3" y="455.9" font-size="7.0" text-anchor="start" fill="#231f20" stroke="#231f20" stroke-width="0.12" textLength="13.2" lengthAdjust="spacingAndGlyphs">51%</text>
<text x="212.2" y="463.9" font-size="7.0" text-anchor="start" fill="#231f20" stroke="#231f20" stroke-width="0.12" textLength="11" lengthAdjust="spacingAndGlyphs">(50)</text>
<text x="275" y="455.9" font-size="7.0" text-anchor="start" fill="#231f20" stroke="#231f20" stroke-width="0.12" textLength="13.4" lengthAdjust="spacingAndGlyphs">35%</text>
<text x="274.9" y="463.9" font-size="7.0" text-anchor="start" fill="#231f20" stroke="#231f20" stroke-width="0.12" textLength="11" lengthAdjust="spacingAndGlyphs">(30)</text>
<polygon points="232.9,466.6 238.2,454.1 248.7,449.6 254.3,450.8 256.0,460.9 251.1,474.3 237.4,477.1 232.9,470.2" fill="none" stroke="#555" stroke-width="0.6" stroke-linejoin="round"/>
<g><path d="M234.5,469.5 C232,474 231,478 230.5,484 C230,488 227.5,490 224.5,489.5 C221.5,489 220.5,486 221.5,482.5 C223,478 228,473 234.5,469.5 Z" transform="translate(226.0 484.5) scale(1.000) translate(-226.0 -484.5)" fill="rgb(205,205,205)" stroke="rgb(155,155,155)" stroke-width="0.5" vector-effect="non-scaling-stroke"/><path d="M234.5,469.5 C232,474 231,478 230.5,484 C230,488 227.5,490 224.5,489.5 C221.5,489 220.5,486 221.5,482.5 C223,478 228,473 234.5,469.5 Z" transform="translate(226.0 484.5) scale(0.840) translate(-226.0 -484.5)" fill="rgb(188,188,188)" stroke="rgb(138,138,138)" stroke-width="0.5" vector-effect="non-scaling-stroke"/><path d="M234.5,469.5 C232,474 231,478 230.5,484 C230,488 227.5,490 224.5,489.5 C221.5,489 220.5,486 221.5,482.5 C223,478 228,473 234.5,469.5 Z" transform="translate(226.0 484.5) scale(0.680) translate(-226.0 -484.5)" fill="rgb(171,171,171)" stroke="rgb(121,121,121)" stroke-width="0.5" vector-effect="non-scaling-stroke"/><path d="M234.5,469.5 C232,474 231,478 230.5,484 C230,488 227.5,490 224.5,489.5 C221.5,489 220.5,486 221.5,482.5 C223,478 228,473 234.5,469.5 Z" transform="translate(226.0 484.5) scale(0.520) translate(-226.0 -484.5)" fill="rgb(154,154,154)" stroke="rgb(104,104,104)" stroke-width="0.5" vector-effect="non-scaling-stroke"/><path d="M234.5,469.5 C232,474 231,478 230.5,484 C230,488 227.5,490 224.5,489.5 C221.5,489 220.5,486 221.5,482.5 C223,478 228,473 234.5,469.5 Z" transform="translate(226.0 484.5) scale(0.360) translate(-226.0 -484.5)" fill="rgb(137,137,137)" stroke="rgb(87,87,87)" stroke-width="0.5" vector-effect="non-scaling-stroke"/><path d="M234.5,469.5 C232,474 231,478 230.5,484 C230,488 227.5,490 224.5,489.5 C221.5,489 220.5,486 221.5,482.5 C223,478 228,473 234.5,469.5 Z" transform="translate(226.0 484.5) scale(0.200) translate(-226.0 -484.5)" fill="rgb(120,120,120)" stroke="rgb(70,70,70)" stroke-width="0.5" vector-effect="non-scaling-stroke"/></g>
<g><path d="M235,469.8 C233.8,466 238,461 243,458.3 C246.5,456.3 249.3,456.3 249,458.6 C248.5,461 245,464 241,466.5 C238,468.5 235.6,471.2 235,469.8 Z" transform="translate(244.2 460.2) scale(1.000) translate(-244.2 -460.2)" fill="rgb(195,195,195)" stroke="rgb(155,155,155)" stroke-width="0.5" vector-effect="non-scaling-stroke"/><path d="M235,469.8 C233.8,466 238,461 243,458.3 C246.5,456.3 249.3,456.3 249,458.6 C248.5,461 245,464 241,466.5 C238,468.5 235.6,471.2 235,469.8 Z" transform="translate(244.2 460.2) scale(0.797) translate(-244.2 -460.2)" fill="rgb(168,168,168)" stroke="rgb(128,128,128)" stroke-width="0.5" vector-effect="non-scaling-stroke"/><path d="M235,469.8 C233.8,466 238,461 243,458.3 C246.5,456.3 249.3,456.3 249,458.6 C248.5,461 245,464 241,466.5 C238,468.5 235.6,471.2 235,469.8 Z" transform="translate(244.2 460.2) scale(0.647) translate(-244.2 -460.2)" fill="rgb(140,140,140)" stroke="rgb(100,100,100)" stroke-width="0.5" vector-effect="non-scaling-stroke"/><path d="M235,469.8 C233.8,466 238,461 243,458.3 C246.5,456.3 249.3,456.3 249,458.6 C248.5,461 245,464 241,466.5 C238,468.5 235.6,471.2 235,469.8 Z" transform="translate(244.2 460.2) scale(0.512) translate(-244.2 -460.2)" fill="rgb(112,112,112)" stroke="rgb(72,72,72)" stroke-width="0.5" vector-effect="non-scaling-stroke"/><path d="M235,469.8 C233.8,466 238,461 243,458.3 C246.5,456.3 249.3,456.3 249,458.6 C248.5,461 245,464 241,466.5 C238,468.5 235.6,471.2 235,469.8 Z" transform="translate(244.2 460.2) scale(0.385) translate(-244.2 -460.2)" fill="rgb(85,85,85)" stroke="rgb(45,45,45)" stroke-width="0.5" vector-effect="non-scaling-stroke"/><path d="M235,469.8 C233.8,466 238,461 243,458.3 C246.5,456.3 249.3,456.3 249,458.6 C248.5,461 245,464 241,466.5 C238,468.5 235.6,471.2 235,469.8 Z" transform="translate(244.2 460.2) scale(0.265) translate(-244.2 -460.2)" fill="rgb(58,58,58)" stroke="rgb(18,18,18)" stroke-width="0.5" vector-effect="non-scaling-stroke"/><path d="M235,469.8 C233.8,466 238,461 243,458.3 C246.5,456.3 249.3,456.3 249,458.6 C248.5,461 245,464 241,466.5 C238,468.5 235.6,471.2 235,469.8 Z" transform="translate(244.2 460.2) scale(0.150) translate(-244.2 -460.2)" fill="rgb(30,30,30)" stroke="rgb(0,0,0)" stroke-width="0.5" vector-effect="non-scaling-stroke"/></g>
<path d="M241.2,462.8 L244.6,460.4" stroke="#ddd" stroke-width="0.9"/>
<polygon points="295.3,467.8 301.4,454.5 311.1,450.0 317.1,451.3 319.2,461.8 314.3,474.3 301.0,477.1 295.3,470.2" fill="none" stroke="#555" stroke-width="0.6" stroke-linejoin="round"/>
<g><path d="M298.2,475.1 C296.5,472 299,467 303,463 C306.5,459.5 310.5,457.5 312.4,458.6 C313.8,460 311.5,464 308,468 C305,471.5 300.5,477 298.2,475.1 Z" transform="translate(305.4 467.2) scale(1.000) translate(-305.4 -467.2)" fill="rgb(205,205,205)" stroke="rgb(135,135,135)" stroke-width="0.6" vector-effect="non-scaling-stroke"/><path d="M298.2,475.1 C296.5,472 299,467 303,463 C306.5,459.5 310.5,457.5 312.4,458.6 C313.8,460 311.5,464 308,468 C305,471.5 300.5,477 298.2,475.1 Z" transform="translate(305.4 467.2) scale(0.783) translate(-305.4 -467.2)" fill="rgb(187,187,187)" stroke="rgb(117,117,117)" stroke-width="0.6" vector-effect="non-scaling-stroke"/><path d="M298.2,475.1 C296.5,472 299,467 303,463 C306.5,459.5 310.5,457.5 312.4,458.6 C313.8,460 311.5,464 308,468 C305,471.5 300.5,477 298.2,475.1 Z" transform="translate(305.4 467.2) scale(0.567) translate(-305.4 -467.2)" fill="rgb(168,168,168)" stroke="rgb(98,98,98)" stroke-width="0.6" vector-effect="non-scaling-stroke"/><path d="M298.2,475.1 C296.5,472 299,467 303,463 C306.5,459.5 310.5,457.5 312.4,458.6 C313.8,460 311.5,464 308,468 C305,471.5 300.5,477 298.2,475.1 Z" transform="translate(305.4 467.2) scale(0.350) translate(-305.4 -467.2)" fill="rgb(150,150,150)" stroke="rgb(80,80,80)" stroke-width="0.6" vector-effect="non-scaling-stroke"/></g>
<path d="M302.5,469 L309,461.6" stroke="#eee" stroke-width="0.9"/>
<path d="M300.6,477.5 C302.8,479.5 302.2,484 298.5,488 C295.5,491 290.5,492.2 287.3,491.2 C284.3,490.2 284.8,486.5 288.3,484 C291.5,481.5 296,478 300.6,477.5 Z" fill="#cfcfcf" stroke="#9a9a9a" stroke-width="0.5"/>
<path d="M299.6,479.3 C300.6,481 299.6,484.5 297,487 C294.5,489.2 290.3,490.2 288.4,489.4 C286.9,488.6 287.5,486.8 289.5,485 C292.5,482.3 296.5,479.6 299.6,479.3 Z" fill="#d2d2d2" stroke="#2a2a2a" stroke-width="1.0"/>
<path d="M297.8,481 C298,482.8 296,485.2 293.6,486.6 C292,487.4 290.6,487.5 290.6,486.8" fill="none" stroke="#888" stroke-width="0.5"/>
<text x="369" y="418.2" font-size="8.7" text-anchor="middle" fill="#231f20" stroke="#231f20" stroke-width="0.12" textLength="89.3" lengthAdjust="spacingAndGlyphs" transform="rotate(-90 369 418.2)">Oral counts (10<tspan font-size="5.2" dy="-3.2">6</tspan><tspan dy="3.2">)/30 ml</tspan></text>
<line x1="384" y1="374.59" x2="384" y2="463.2" stroke="#231f20" stroke-width="1.1"/>
<line x1="383.5" y1="462.7" x2="464.8" y2="462.7" stroke="#231f20" stroke-width="1.1"/>
<line x1="381.2" y1="462.7" x2="384" y2="462.7" stroke="#231f20" stroke-width="1.1"/>
<text x="378.4" y="465.45" font-size="7.8" text-anchor="end" fill="#231f20" stroke="#231f20" stroke-width="0.12" textLength="4.12" lengthAdjust="spacingAndGlyphs">0</text>
<line x1="381.2" y1="434.33" x2="384" y2="434.33" stroke="#231f20" stroke-width="1.1"/>
<text x="378.4" y="437.08" font-size="7.8" text-anchor="end" fill="#231f20" stroke="#231f20" stroke-width="0.12" textLength="4.12" lengthAdjust="spacingAndGlyphs">1</text>
<line x1="381.2" y1="405.96" x2="384" y2="405.96" stroke="#231f20" stroke-width="1.1"/>
<text x="378.4" y="408.71" font-size="7.8" text-anchor="end" fill="#231f20" stroke="#231f20" stroke-width="0.12" textLength="4.12" lengthAdjust="spacingAndGlyphs">2</text>
<line x1="381.2" y1="377.59" x2="384" y2="377.59" stroke="#231f20" stroke-width="1.1"/>
<text x="378.4" y="380.34" font-size="7.8" text-anchor="end" fill="#231f20" stroke="#231f20" stroke-width="0.12" textLength="4.12" lengthAdjust="spacingAndGlyphs">3</text>
<rect x="391.25" y="418.40909999999997" width="26.600000000000023" height="44.04090000000002" fill="#a03443" stroke="#8c1a2a" stroke-width="0.6"/>
<line x1="404.55" y1="390.3565" x2="404.55" y2="418.15909999999997" stroke="#231f20" stroke-width="1"/>
<line x1="397.3" y1="390.3565" x2="411.1" y2="390.3565" stroke="#231f20" stroke-width="1"/>
<line x1="404.55" y1="462.7" x2="404.55" y2="465.3" stroke="#231f20" stroke-width="1"/>
<text x="404.8" y="475.4" font-size="7.6" text-anchor="middle" fill="#231f20" stroke="#231f20" stroke-width="0.12" textLength="8.17" lengthAdjust="spacingAndGlyphs">Ctl</text>
<rect x="431.45" y="427.77119999999996" width="26.30000000000001" height="34.678800000000024" fill="#a03443" stroke="#8c1a2a" stroke-width="0.6"/>
<line x1="444.6" y1="405.96" x2="444.6" y2="427.52119999999996" stroke="#231f20" stroke-width="1"/>
<line x1="438.2" y1="405.96" x2="451" y2="405.96" stroke="#231f20" stroke-width="1"/>
<line x1="444.6" y1="462.7" x2="444.6" y2="465.3" stroke="#231f20" stroke-width="1"/>
<text x="444.6" y="475.4" font-size="7.6" text-anchor="middle" fill="#231f20" stroke="#231f20" stroke-width="0.12" textLength="9.29" lengthAdjust="spacingAndGlyphs">PN</text>
<text x="424.4" y="383.8" font-size="7" text-anchor="middle" fill="#231f20" stroke="#231f20" stroke-width="0.12" textLength="6.51" lengthAdjust="spacingAndGlyphs">ns</text>
<line x1="38.3" y1="544.38" x2="38.3" y2="625.7" stroke="#231f20" stroke-width="1.1"/>
<line x1="37.8" y1="625.2" x2="157.4" y2="625.2" stroke="#231f20" stroke-width="1.1"/>
<line x1="35.699999999999996" y1="625.2" x2="38.3" y2="625.2" stroke="#231f20" stroke-width="1"/>
<text x="32.599999999999994" y="627.95" font-size="7.7" text-anchor="end" fill="#231f20" stroke="#231f20" stroke-width="0.12" textLength="4.07" lengthAdjust="spacingAndGlyphs">0</text>
<line x1="35.699999999999996" y1="599.26" x2="38.3" y2="599.26" stroke="#231f20" stroke-width="1"/>
<text x="32.599999999999994" y="602.01" font-size="7.7" text-anchor="end" fill="#231f20" stroke="#231f20" stroke-width="0.12" textLength="4.07" lengthAdjust="spacingAndGlyphs">2</text>
<line x1="35.699999999999996" y1="573.32" x2="38.3" y2="573.32" stroke="#231f20" stroke-width="1"/>
<text x="32.599999999999994" y="576.07" font-size="7.7" text-anchor="end" fill="#231f20" stroke="#231f20" stroke-width="0.12" textLength="4.07" lengthAdjust="spacingAndGlyphs">4</text>
<line x1="35.699999999999996" y1="547.38" x2="38.3" y2="547.38" stroke="#231f20" stroke-width="1"/>
<text x="32.599999999999994" y="550.13" font-size="7.7" text-anchor="end" fill="#231f20" stroke="#231f20" stroke-width="0.12" textLength="4.07" lengthAdjust="spacingAndGlyphs">6</text>
<line x1="38.3" y1="625.2" x2="38.3" y2="627.8000000000001" stroke="#231f20" stroke-width="1"/>
<text x="38.599999999999994" y="637.8000000000001" font-size="7.7" text-anchor="middle" fill="#231f20" stroke="#231f20" stroke-width="0.12" textLength="4.15" lengthAdjust="spacingAndGlyphs">0</text>
<line x1="67.4" y1="625.2" x2="67.4" y2="627.8000000000001" stroke="#231f20" stroke-width="1"/>
<text x="67.7" y="637.8000000000001" font-size="7.7" text-anchor="middle" fill="#231f20" stroke="#231f20" stroke-width="0.12" textLength="8.31" lengthAdjust="spacingAndGlyphs">20</text>
<line x1="96.5" y1="625.2" x2="96.5" y2="627.8000000000001" stroke="#231f20" stroke-width="1"/>
<text x="96.8" y="637.8000000000001" font-size="7.7" text-anchor="middle" fill="#231f20" stroke="#231f20" stroke-width="0.12" textLength="8.31" lengthAdjust="spacingAndGlyphs">40</text>
<line x1="125.60000000000001" y1="625.2" x2="125.60000000000001" y2="627.8000000000001" stroke="#231f20" stroke-width="1"/>
<text x="125.9" y="637.8000000000001" font-size="7.7" text-anchor="middle" fill="#231f20" stroke="#231f20" stroke-width="0.12" textLength="8.31" lengthAdjust="spacingAndGlyphs">60</text>
<line x1="154.7" y1="625.2" x2="154.7" y2="627.8000000000001" stroke="#231f20" stroke-width="1"/>
<text x="155.0" y="637.8000000000001" font-size="7.7" text-anchor="middle" fill="#231f20" stroke="#231f20" stroke-width="0.12" textLength="8.31" lengthAdjust="spacingAndGlyphs">80</text>
<line x1="46.5" y1="600.2" x2="127.9" y2="602.8" stroke="#a03443" stroke-width="1.2"/>
<polygon points="51.80,552.75 55.60,552.75 53.70,549.25" fill="#a41c30"/>
<polygon points="47.30,575.55 51.10,575.55 49.20,572.05" fill="#a41c30"/>
<polygon points="50.90,586.85 54.70,586.85 52.80,583.35" fill="#a41c30"/>
<polygon points="44.60,599.05 48.40,599.05 46.50,595.55" fill="#a41c30"/>
<polygon points="52.40,613.25 56.20,613.25 54.30,609.75" fill="#a41c30"/>
<polygon points="57.90,612.95 61.70,612.95 59.80,609.45" fill="#a41c30"/>
<polygon points="61.50,609.65 65.30,609.65 63.40,606.15" fill="#a41c30"/>
<polygon points="59.10,616.95 62.90,616.95 61.00,613.45" fill="#a41c30"/>
<polygon points="61.00,619.05 64.80,619.05 62.90,615.55" fill="#a41c30"/>
<polygon points="49.10,620.15 52.90,620.15 51.00,616.65" fill="#a41c30"/>
<polygon points="45.10,621.85 48.90,621.85 47.00,618.35" fill="#a41c30"/>
<polygon points="73.20,604.15 77.00,604.15 75.10,600.65" fill="#a41c30"/>
<polygon points="84.90,613.65 88.70,613.65 86.80,610.15" fill="#a41c30"/>
<polygon points="120.00,610.55 123.80,610.55 121.90,607.05" fill="#a41c30"/>
<polygon points="125.50,589.25 129.30,589.25 127.40,585.75" fill="#a41c30"/>
<text x="22.8" y="584.8" font-size="8.7" text-anchor="middle" fill="#231f20" stroke="#231f20" stroke-width="0.12" textLength="57.4" lengthAdjust="spacingAndGlyphs" transform="rotate(-90 22.8 584.8)">PMNs (x10<tspan font-size="5.2" dy="-3.2">3</tspan><tspan dy="3.2">)/µl</tspan></text>
<text x="97.85" y="650.3" font-size="8.9" text-anchor="middle" fill="#231f20" stroke="#231f20" stroke-width="0.12" textLength="33.3" lengthAdjust="spacingAndGlyphs">% pPMN</text>
<text x="83.7" y="562" font-size="7.1" text-anchor="start" fill="#231f20" stroke="#231f20" stroke-width="0.12" textLength="34.6" lengthAdjust="spacingAndGlyphs">R<tspan font-size="4.4" dy="-2.6">2</tspan><tspan dy="2.6"> = 0.0001</tspan></text>
<text x="102.8" y="571.1" font-size="7.1" text-anchor="start" fill="#231f20" stroke="#231f20" stroke-width="0.12" textLength="17.3" lengthAdjust="spacingAndGlyphs">P=0.9</text>
<line x1="202.7" y1="545.1" x2="202.7" y2="625.7" stroke="#231f20" stroke-width="1.1"/>
<line x1="202.2" y1="625.2" x2="320.6" y2="625.2" stroke="#231f20" stroke-width="1.1"/>
<line x1="200.1" y1="625.2" x2="202.7" y2="625.2" stroke="#231f20" stroke-width="1"/>
<text x="197.0" y="627.95" font-size="7.7" text-anchor="end" fill="#231f20" stroke="#231f20" stroke-width="0.12" textLength="10.17" lengthAdjust="spacingAndGlyphs">0.0</text>
<line x1="200.1" y1="586.6500000000001" x2="202.7" y2="586.6500000000001" stroke="#231f20" stroke-width="1"/>
<text x="197.0" y="589.4000000000001" font-size="7.7" text-anchor="end" fill="#231f20" stroke="#231f20" stroke-width="0.12" textLength="10.17" lengthAdjust="spacingAndGlyphs">0.6</text>
<line x1="200.1" y1="548.1" x2="202.7" y2="548.1" stroke="#231f20" stroke-width="1"/>
<text x="197.0" y="550.85" font-size="7.7" text-anchor="end" fill="#231f20" stroke="#231f20" stroke-width="0.12" textLength="10.17" lengthAdjust="spacingAndGlyphs">1.2</text>
<line x1="202.7" y1="625.2" x2="202.7" y2="627.8000000000001" stroke="#231f20" stroke-width="1"/>
<text x="203.0" y="637.8000000000001" font-size="7.7" text-anchor="middle" fill="#231f20" stroke="#231f20" stroke-width="0.12" textLength="4.15" lengthAdjust="spacingAndGlyphs">0</text>
<line x1="241.29999999999998" y1="625.2" x2="241.29999999999998" y2="627.8000000000001" stroke="#231f20" stroke-width="1"/>
<text x="241.6" y="637.8000000000001" font-size="7.7" text-anchor="middle" fill="#231f20" stroke="#231f20" stroke-width="0.12" textLength="8.31" lengthAdjust="spacingAndGlyphs">20</text>
<line x1="279.9" y1="625.2" x2="279.9" y2="627.8000000000001" stroke="#231f20" stroke-width="1"/>
<text x="280.2" y="637.8000000000001" font-size="7.7" text-anchor="middle" fill="#231f20" stroke="#231f20" stroke-width="0.12" textLength="8.31" lengthAdjust="spacingAndGlyphs">40</text>
<line x1="318.5" y1="625.2" x2="318.5" y2="627.8000000000001" stroke="#231f20" stroke-width="1"/>
<text x="318.8" y="637.8000000000001" font-size="7.7" text-anchor="middle" fill="#231f20" stroke="#231f20" stroke-width="0.12" textLength="8.31" lengthAdjust="spacingAndGlyphs">60</text>
<line x1="213.3" y1="567.4" x2="293.3" y2="625.2" stroke="#a03443" stroke-width="1.2"/>
<polygon points="216.50,554.65 220.30,554.65 218.40,551.15" fill="#a41c30"/>
<polygon points="219.90,556.45 223.70,556.45 221.80,552.95" fill="#a41c30"/>
<polygon points="211.40,569.15 215.20,569.15 213.30,565.65" fill="#a41c30"/>
<polygon points="220.50,572.85 224.30,572.85 222.40,569.35" fill="#a41c30"/>
<polygon points="215.00,586.35 218.80,586.35 216.90,582.85" fill="#a41c30"/>
<polygon points="216.80,587.35 220.60,587.35 218.70,583.85" fill="#a41c30"/>
<polygon points="245.30,585.05 249.10,585.05 247.20,581.55" fill="#a41c30"/>
<polygon points="270.10,612.35 273.90,612.35 272.00,608.85" fill="#a41c30"/>
<polygon points="275.90,611.45 279.70,611.45 277.80,607.95" fill="#a41c30"/>
<polygon points="267.10,622.35 270.90,622.35 269.00,618.85" fill="#a41c30"/>
<polygon points="268.20,623.85 272.00,623.85 270.10,620.35" fill="#a41c30"/>
<polygon points="299.60,621.45 303.40,621.45 301.50,617.95" fill="#a41c30"/>
<text x="180" y="585.3" font-size="8.7" text-anchor="middle" fill="#231f20" stroke="#231f20" stroke-width="0.12" textLength="59.6" lengthAdjust="spacingAndGlyphs" transform="rotate(-90 180 585.3)">PMNs (x10<tspan font-size="5.2" dy="-3.2">3</tspan><tspan dy="3.2">)/µl</tspan></text>
<text x="261.55" y="650.3" font-size="8.9" text-anchor="middle" fill="#231f20" stroke="#231f20" stroke-width="0.12" textLength="33.7" lengthAdjust="spacingAndGlyphs">% pPMN</text>
<text x="277.8" y="563.4" font-size="7.1" text-anchor="start" fill="#231f20" stroke="#231f20" stroke-width="0.12" textLength="27" lengthAdjust="spacingAndGlyphs">R<tspan font-size="4.4" dy="-2.6">2</tspan><tspan dy="2.6"> = 0.76</tspan></text>
<text x="275" y="572.4" font-size="7.1" text-anchor="start" fill="#231f20" stroke="#231f20" stroke-width="0.12" textLength="30.6" lengthAdjust="spacingAndGlyphs">*P = 0.002</text>
<rect x="0" y="0" width="520" height="1" fill="#0a0a0a"/>
<rect x="0" y="0" width="1" height="659" fill="#0a0a0a"/>
<rect x="518" y="0" width="2" height="659" fill="#555555"/>
<rect x="0" y="657.5" width="520" height="1.5" fill="#555555"/>
</svg>
</body></html>
